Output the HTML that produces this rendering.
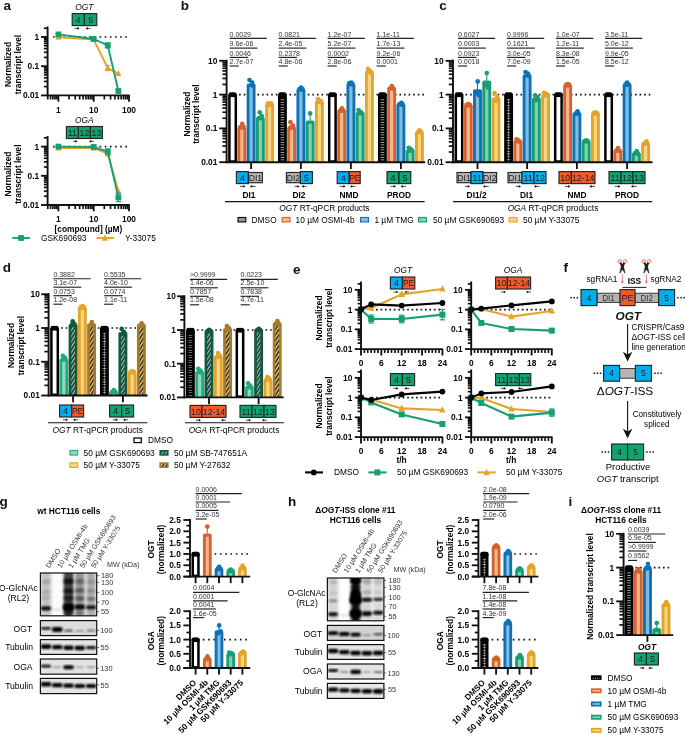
<!DOCTYPE html>
<html><head><meta charset="utf-8"><title>Figure</title>
<style>
html,body{margin:0;padding:0;background:#fff;}
svg{display:block;font-family:"Liberation Sans",Arial,Helvetica,sans-serif;}
</style></head><body>
<svg width="685" height="735" viewBox="0 0 685 735">
<defs>
<pattern id="hSB" width="2.9" height="2.9" patternUnits="userSpaceOnUse" patternTransform="rotate(-58)">
<rect width="2.9" height="2.9" fill="#0d2c21"/><rect width="2.9" height="1.45" fill="#9cc2b5"/></pattern>
<pattern id="hY27" width="2.9" height="2.9" patternUnits="userSpaceOnUse" patternTransform="rotate(-58)">
<rect width="2.9" height="2.9" fill="#1c1508"/><rect width="2.9" height="1.45" fill="#efd88f"/></pattern>
<filter id="b1" x="-30%" y="-30%" width="160%" height="160%"><feGaussianBlur stdDeviation="0.9"/></filter>
<filter id="b07" x="-30%" y="-30%" width="160%" height="160%"><feGaussianBlur stdDeviation="0.85"/></filter>
<filter id="b15" x="-30%" y="-30%" width="160%" height="160%"><feGaussianBlur stdDeviation="1.25"/></filter>
<filter id="b2" x="-30%" y="-30%" width="160%" height="160%"><feGaussianBlur stdDeviation="1.6"/></filter>
<filter id="b05" x="-30%" y="-30%" width="160%" height="160%"><feGaussianBlur stdDeviation="0.55"/></filter>
</defs>
<rect width="685" height="735" fill="#ffffff"/>
<text x="3.50" y="10.40" font-size="13.5" font-weight="bold" fill="#111">a</text>
<text x="180.70" y="10.40" font-size="13.5" font-weight="bold" fill="#111">b</text>
<text x="439.30" y="10.40" font-size="13.5" font-weight="bold" fill="#111">c</text>
<text x="2.70" y="271.80" font-size="13.5" font-weight="bold" fill="#111">d</text>
<text x="292.90" y="274.00" font-size="13.5" font-weight="bold" fill="#111">e</text>
<text x="563.50" y="272.00" font-size="13.5" font-weight="bold" fill="#111">f</text>
<text x="-0.50" y="505.80" font-size="13.5" font-weight="bold" fill="#111">g</text>
<text x="287.90" y="505.80" font-size="13.5" font-weight="bold" fill="#111">h</text>
<text x="568.50" y="506.20" font-size="13.5" font-weight="bold" fill="#111">i</text>
<text x="84.20" y="10.00" font-size="8.35" font-style="italic" text-anchor="middle" fill="#000">OGT</text>
<rect x="72.20" y="13.60" width="12.20" height="12.00" fill="#12A46D" stroke="#262626" stroke-width="1.15" />
<text x="78.30" y="22.77" font-size="8.8" text-anchor="middle" fill="#16202a">4</text>
<rect x="84.40" y="13.60" width="12.40" height="12.00" fill="#12A46D" stroke="#262626" stroke-width="1.15" />
<text x="90.60" y="22.77" font-size="8.8" text-anchor="middle" fill="#16202a">5</text>
<line x1="74.60" y1="28.40" x2="78.60" y2="28.40" stroke="#111" stroke-width="0.75" />
<path d="M77.40 27.05 L79.60 28.40 L77.40 29.75 Z" fill="#111"/>
<line x1="86.60" y1="28.40" x2="90.60" y2="28.40" stroke="#111" stroke-width="0.75" />
<path d="M87.80 27.05 L85.60 28.40 L87.80 29.75 Z" fill="#111"/>
<line x1="53.10" y1="37.00" x2="127.05" y2="37.00" stroke="#111111" stroke-width="1.65" stroke-dasharray="1.65 3.51"/>
<line x1="47.60" y1="26.45" x2="47.60" y2="96.35" stroke="#111111" stroke-width="1.9" />
<line x1="41.00" y1="95.40" x2="47.60" y2="95.40" stroke="#111111" stroke-width="1.85" />
<text x="39.20" y="98.36" font-size="8.35" font-weight="bold" text-anchor="end" fill="#000">0.01</text>
<line x1="43.90" y1="86.61" x2="47.60" y2="86.61" stroke="#111111" stroke-width="1.7" />
<line x1="43.90" y1="81.47" x2="47.60" y2="81.47" stroke="#111111" stroke-width="1.7" />
<line x1="43.90" y1="77.82" x2="47.60" y2="77.82" stroke="#111111" stroke-width="1.7" />
<line x1="43.90" y1="74.99" x2="47.60" y2="74.99" stroke="#111111" stroke-width="1.7" />
<line x1="43.90" y1="72.68" x2="47.60" y2="72.68" stroke="#111111" stroke-width="1.7" />
<line x1="43.90" y1="70.72" x2="47.60" y2="70.72" stroke="#111111" stroke-width="1.7" />
<line x1="43.90" y1="69.03" x2="47.60" y2="69.03" stroke="#111111" stroke-width="1.7" />
<line x1="43.90" y1="67.54" x2="47.60" y2="67.54" stroke="#111111" stroke-width="1.7" />
<line x1="41.00" y1="66.20" x2="47.60" y2="66.20" stroke="#111111" stroke-width="1.85" />
<text x="39.20" y="69.16" font-size="8.35" font-weight="bold" text-anchor="end" fill="#000">0.1</text>
<line x1="43.90" y1="57.41" x2="47.60" y2="57.41" stroke="#111111" stroke-width="1.7" />
<line x1="43.90" y1="52.27" x2="47.60" y2="52.27" stroke="#111111" stroke-width="1.7" />
<line x1="43.90" y1="48.62" x2="47.60" y2="48.62" stroke="#111111" stroke-width="1.7" />
<line x1="43.90" y1="45.79" x2="47.60" y2="45.79" stroke="#111111" stroke-width="1.7" />
<line x1="43.90" y1="43.48" x2="47.60" y2="43.48" stroke="#111111" stroke-width="1.7" />
<line x1="43.90" y1="41.52" x2="47.60" y2="41.52" stroke="#111111" stroke-width="1.7" />
<line x1="43.90" y1="39.83" x2="47.60" y2="39.83" stroke="#111111" stroke-width="1.7" />
<line x1="43.90" y1="38.34" x2="47.60" y2="38.34" stroke="#111111" stroke-width="1.7" />
<line x1="41.00" y1="37.00" x2="47.60" y2="37.00" stroke="#111111" stroke-width="1.85" />
<text x="39.20" y="39.96" font-size="8.35" font-weight="bold" text-anchor="end" fill="#000">1</text>
<line x1="43.90" y1="28.21" x2="47.60" y2="28.21" stroke="#111111" stroke-width="1.7" />
<line x1="46.65" y1="95.40" x2="129.80" y2="95.40" stroke="#111111" stroke-width="1.9" />
<line x1="47.77" y1="95.40" x2="47.77" y2="99.50" stroke="#111111" stroke-width="1.7" />
<line x1="50.57" y1="95.40" x2="50.57" y2="99.50" stroke="#111111" stroke-width="1.7" />
<line x1="52.93" y1="95.40" x2="52.93" y2="99.50" stroke="#111111" stroke-width="1.7" />
<line x1="54.98" y1="95.40" x2="54.98" y2="99.50" stroke="#111111" stroke-width="1.7" />
<line x1="56.78" y1="95.40" x2="56.78" y2="99.50" stroke="#111111" stroke-width="1.7" />
<line x1="58.40" y1="95.40" x2="58.40" y2="101.70" stroke="#111111" stroke-width="1.85" />
<line x1="69.03" y1="95.40" x2="69.03" y2="99.50" stroke="#111111" stroke-width="1.7" />
<line x1="75.24" y1="95.40" x2="75.24" y2="99.50" stroke="#111111" stroke-width="1.7" />
<line x1="79.65" y1="95.40" x2="79.65" y2="99.50" stroke="#111111" stroke-width="1.7" />
<line x1="83.07" y1="95.40" x2="83.07" y2="99.50" stroke="#111111" stroke-width="1.7" />
<line x1="85.87" y1="95.40" x2="85.87" y2="99.50" stroke="#111111" stroke-width="1.7" />
<line x1="88.23" y1="95.40" x2="88.23" y2="99.50" stroke="#111111" stroke-width="1.7" />
<line x1="90.28" y1="95.40" x2="90.28" y2="99.50" stroke="#111111" stroke-width="1.7" />
<line x1="92.08" y1="95.40" x2="92.08" y2="99.50" stroke="#111111" stroke-width="1.7" />
<line x1="93.70" y1="95.40" x2="93.70" y2="101.70" stroke="#111111" stroke-width="1.85" />
<line x1="104.33" y1="95.40" x2="104.33" y2="99.50" stroke="#111111" stroke-width="1.7" />
<line x1="110.54" y1="95.40" x2="110.54" y2="99.50" stroke="#111111" stroke-width="1.7" />
<line x1="114.95" y1="95.40" x2="114.95" y2="99.50" stroke="#111111" stroke-width="1.7" />
<line x1="118.37" y1="95.40" x2="118.37" y2="99.50" stroke="#111111" stroke-width="1.7" />
<line x1="121.17" y1="95.40" x2="121.17" y2="99.50" stroke="#111111" stroke-width="1.7" />
<line x1="123.53" y1="95.40" x2="123.53" y2="99.50" stroke="#111111" stroke-width="1.7" />
<line x1="125.58" y1="95.40" x2="125.58" y2="99.50" stroke="#111111" stroke-width="1.7" />
<line x1="127.38" y1="95.40" x2="127.38" y2="99.50" stroke="#111111" stroke-width="1.7" />
<line x1="129.00" y1="95.40" x2="129.00" y2="101.70" stroke="#111111" stroke-width="1.85" />
<text x="58.40" y="112.60" font-size="8.35" font-weight="bold" text-anchor="middle" fill="#000">1</text>
<text x="93.70" y="112.60" font-size="8.35" font-weight="bold" text-anchor="middle" fill="#000">10</text>
<text x="129.00" y="112.60" font-size="8.35" font-weight="bold" text-anchor="middle" fill="#000">100</text>
<text x="11.00" y="64.50" font-size="8.35" font-weight="bold" text-anchor="middle" transform="rotate(-90 11.00 64.50)">Normalized</text>
<text x="20.60" y="64.50" font-size="8.35" font-weight="bold" text-anchor="middle" transform="rotate(-90 20.60 64.50)">transcript level</text>
<polyline points="58.40,37.20 93.70,39.60 107.75,68.00 118.37,73.60" fill="none" stroke="#E6A32C" stroke-width="1.9" stroke-linejoin="round"/>
<path d="M58.40 33.48 L61.50 39.68 L55.30 39.68 Z" fill="#E6A32C"/>
<path d="M93.70 35.88 L96.80 42.08 L90.60 42.08 Z" fill="#E6A32C"/>
<line x1="107.75" y1="65.40" x2="107.75" y2="70.60" stroke="#E6A32C" stroke-width="1.2" />
<line x1="105.15" y1="65.40" x2="110.35" y2="65.40" stroke="#E6A32C" stroke-width="1.2" />
<line x1="105.15" y1="70.60" x2="110.35" y2="70.60" stroke="#E6A32C" stroke-width="1.2" />
<path d="M107.75 64.28 L110.85 70.48 L104.65 70.48 Z" fill="#E6A32C"/>
<path d="M118.37 69.88 L121.47 76.08 L115.27 76.08 Z" fill="#E6A32C"/>
<polyline points="58.40,34.40 93.70,39.00 107.75,45.40 118.37,91.00" fill="none" stroke="#179E73" stroke-width="1.9" stroke-linejoin="round"/>
<rect x="55.50" y="31.50" width="5.80" height="5.80" fill="#179E73" />
<rect x="90.80" y="36.10" width="5.80" height="5.80" fill="#179E73" />
<line x1="107.75" y1="43.00" x2="107.75" y2="47.80" stroke="#179E73" stroke-width="1.2" />
<line x1="105.15" y1="43.00" x2="110.35" y2="43.00" stroke="#179E73" stroke-width="1.2" />
<line x1="105.15" y1="47.80" x2="110.35" y2="47.80" stroke="#179E73" stroke-width="1.2" />
<rect x="104.85" y="42.50" width="5.80" height="5.80" fill="#179E73" />
<line x1="118.37" y1="89.00" x2="118.37" y2="93.00" stroke="#179E73" stroke-width="1.2" />
<line x1="115.77" y1="89.00" x2="120.97" y2="89.00" stroke="#179E73" stroke-width="1.2" />
<line x1="115.77" y1="93.00" x2="120.97" y2="93.00" stroke="#179E73" stroke-width="1.2" />
<rect x="115.47" y="88.10" width="5.80" height="5.80" fill="#179E73" />
<text x="84.20" y="122.90" font-size="8.35" font-style="italic" text-anchor="middle" fill="#000">OGA</text>
<rect x="66.40" y="126.50" width="12.00" height="12.00" fill="#12A46D" stroke="#262626" stroke-width="1.15" />
<text x="72.40" y="135.67" font-size="8.8" text-anchor="middle" fill="#16202a">11</text>
<rect x="78.40" y="126.50" width="12.00" height="12.00" fill="#12A46D" stroke="#262626" stroke-width="1.15" />
<text x="84.40" y="135.67" font-size="8.8" text-anchor="middle" fill="#16202a">12</text>
<rect x="90.40" y="126.50" width="12.00" height="12.00" fill="#12A46D" stroke="#262626" stroke-width="1.15" />
<text x="96.40" y="135.67" font-size="8.8" text-anchor="middle" fill="#16202a">13</text>
<line x1="73.00" y1="141.30" x2="76.60" y2="141.30" stroke="#111" stroke-width="0.75" />
<path d="M75.40 139.95 L77.60 141.30 L75.40 142.65 Z" fill="#111"/>
<line x1="90.00" y1="141.30" x2="94.00" y2="141.30" stroke="#111" stroke-width="0.75" />
<path d="M91.20 139.95 L89.00 141.30 L91.20 142.65 Z" fill="#111"/>
<line x1="53.10" y1="146.60" x2="127.05" y2="146.60" stroke="#111111" stroke-width="1.65" stroke-dasharray="1.65 3.51"/>
<line x1="47.60" y1="136.05" x2="47.60" y2="205.95" stroke="#111111" stroke-width="1.9" />
<line x1="41.00" y1="205.00" x2="47.60" y2="205.00" stroke="#111111" stroke-width="1.85" />
<text x="39.20" y="207.96" font-size="8.35" font-weight="bold" text-anchor="end" fill="#000">0.01</text>
<line x1="43.90" y1="196.21" x2="47.60" y2="196.21" stroke="#111111" stroke-width="1.7" />
<line x1="43.90" y1="191.07" x2="47.60" y2="191.07" stroke="#111111" stroke-width="1.7" />
<line x1="43.90" y1="187.42" x2="47.60" y2="187.42" stroke="#111111" stroke-width="1.7" />
<line x1="43.90" y1="184.59" x2="47.60" y2="184.59" stroke="#111111" stroke-width="1.7" />
<line x1="43.90" y1="182.28" x2="47.60" y2="182.28" stroke="#111111" stroke-width="1.7" />
<line x1="43.90" y1="180.32" x2="47.60" y2="180.32" stroke="#111111" stroke-width="1.7" />
<line x1="43.90" y1="178.63" x2="47.60" y2="178.63" stroke="#111111" stroke-width="1.7" />
<line x1="43.90" y1="177.14" x2="47.60" y2="177.14" stroke="#111111" stroke-width="1.7" />
<line x1="41.00" y1="175.80" x2="47.60" y2="175.80" stroke="#111111" stroke-width="1.85" />
<text x="39.20" y="178.76" font-size="8.35" font-weight="bold" text-anchor="end" fill="#000">0.1</text>
<line x1="43.90" y1="167.01" x2="47.60" y2="167.01" stroke="#111111" stroke-width="1.7" />
<line x1="43.90" y1="161.87" x2="47.60" y2="161.87" stroke="#111111" stroke-width="1.7" />
<line x1="43.90" y1="158.22" x2="47.60" y2="158.22" stroke="#111111" stroke-width="1.7" />
<line x1="43.90" y1="155.39" x2="47.60" y2="155.39" stroke="#111111" stroke-width="1.7" />
<line x1="43.90" y1="153.08" x2="47.60" y2="153.08" stroke="#111111" stroke-width="1.7" />
<line x1="43.90" y1="151.12" x2="47.60" y2="151.12" stroke="#111111" stroke-width="1.7" />
<line x1="43.90" y1="149.43" x2="47.60" y2="149.43" stroke="#111111" stroke-width="1.7" />
<line x1="43.90" y1="147.94" x2="47.60" y2="147.94" stroke="#111111" stroke-width="1.7" />
<line x1="41.00" y1="146.60" x2="47.60" y2="146.60" stroke="#111111" stroke-width="1.85" />
<text x="39.20" y="149.56" font-size="8.35" font-weight="bold" text-anchor="end" fill="#000">1</text>
<line x1="43.90" y1="137.81" x2="47.60" y2="137.81" stroke="#111111" stroke-width="1.7" />
<line x1="46.65" y1="205.00" x2="129.80" y2="205.00" stroke="#111111" stroke-width="1.9" />
<line x1="47.77" y1="205.00" x2="47.77" y2="209.10" stroke="#111111" stroke-width="1.7" />
<line x1="50.57" y1="205.00" x2="50.57" y2="209.10" stroke="#111111" stroke-width="1.7" />
<line x1="52.93" y1="205.00" x2="52.93" y2="209.10" stroke="#111111" stroke-width="1.7" />
<line x1="54.98" y1="205.00" x2="54.98" y2="209.10" stroke="#111111" stroke-width="1.7" />
<line x1="56.78" y1="205.00" x2="56.78" y2="209.10" stroke="#111111" stroke-width="1.7" />
<line x1="58.40" y1="205.00" x2="58.40" y2="211.30" stroke="#111111" stroke-width="1.85" />
<line x1="69.03" y1="205.00" x2="69.03" y2="209.10" stroke="#111111" stroke-width="1.7" />
<line x1="75.24" y1="205.00" x2="75.24" y2="209.10" stroke="#111111" stroke-width="1.7" />
<line x1="79.65" y1="205.00" x2="79.65" y2="209.10" stroke="#111111" stroke-width="1.7" />
<line x1="83.07" y1="205.00" x2="83.07" y2="209.10" stroke="#111111" stroke-width="1.7" />
<line x1="85.87" y1="205.00" x2="85.87" y2="209.10" stroke="#111111" stroke-width="1.7" />
<line x1="88.23" y1="205.00" x2="88.23" y2="209.10" stroke="#111111" stroke-width="1.7" />
<line x1="90.28" y1="205.00" x2="90.28" y2="209.10" stroke="#111111" stroke-width="1.7" />
<line x1="92.08" y1="205.00" x2="92.08" y2="209.10" stroke="#111111" stroke-width="1.7" />
<line x1="93.70" y1="205.00" x2="93.70" y2="211.30" stroke="#111111" stroke-width="1.85" />
<line x1="104.33" y1="205.00" x2="104.33" y2="209.10" stroke="#111111" stroke-width="1.7" />
<line x1="110.54" y1="205.00" x2="110.54" y2="209.10" stroke="#111111" stroke-width="1.7" />
<line x1="114.95" y1="205.00" x2="114.95" y2="209.10" stroke="#111111" stroke-width="1.7" />
<line x1="118.37" y1="205.00" x2="118.37" y2="209.10" stroke="#111111" stroke-width="1.7" />
<line x1="121.17" y1="205.00" x2="121.17" y2="209.10" stroke="#111111" stroke-width="1.7" />
<line x1="123.53" y1="205.00" x2="123.53" y2="209.10" stroke="#111111" stroke-width="1.7" />
<line x1="125.58" y1="205.00" x2="125.58" y2="209.10" stroke="#111111" stroke-width="1.7" />
<line x1="127.38" y1="205.00" x2="127.38" y2="209.10" stroke="#111111" stroke-width="1.7" />
<line x1="129.00" y1="205.00" x2="129.00" y2="211.30" stroke="#111111" stroke-width="1.85" />
<text x="58.40" y="222.20" font-size="8.35" font-weight="bold" text-anchor="middle" fill="#000">1</text>
<text x="93.70" y="222.20" font-size="8.35" font-weight="bold" text-anchor="middle" fill="#000">10</text>
<text x="129.00" y="222.20" font-size="8.35" font-weight="bold" text-anchor="middle" fill="#000">100</text>
<text x="11.00" y="174.10" font-size="8.35" font-weight="bold" text-anchor="middle" transform="rotate(-90 11.00 174.10)">Normalized</text>
<text x="20.60" y="174.10" font-size="8.35" font-weight="bold" text-anchor="middle" transform="rotate(-90 20.60 174.10)">transcript level</text>
<polyline points="58.40,148.00 93.70,148.00 107.75,153.60 118.37,191.50" fill="none" stroke="#E6A32C" stroke-width="1.9" stroke-linejoin="round"/>
<path d="M58.40 144.28 L61.50 150.48 L55.30 150.48 Z" fill="#E6A32C"/>
<path d="M93.70 144.28 L96.80 150.48 L90.60 150.48 Z" fill="#E6A32C"/>
<line x1="107.75" y1="151.20" x2="107.75" y2="156.00" stroke="#E6A32C" stroke-width="1.2" />
<line x1="105.15" y1="151.20" x2="110.35" y2="151.20" stroke="#E6A32C" stroke-width="1.2" />
<line x1="105.15" y1="156.00" x2="110.35" y2="156.00" stroke="#E6A32C" stroke-width="1.2" />
<path d="M107.75 149.88 L110.85 156.08 L104.65 156.08 Z" fill="#E6A32C"/>
<path d="M118.37 187.78 L121.47 193.98 L115.27 193.98 Z" fill="#E6A32C"/>
<polyline points="58.40,146.60 93.70,147.00 107.75,151.60 118.37,197.40" fill="none" stroke="#179E73" stroke-width="1.9" stroke-linejoin="round"/>
<rect x="55.50" y="143.70" width="5.80" height="5.80" fill="#179E73" />
<rect x="90.80" y="144.10" width="5.80" height="5.80" fill="#179E73" />
<line x1="107.75" y1="149.00" x2="107.75" y2="154.20" stroke="#179E73" stroke-width="1.2" />
<line x1="105.15" y1="149.00" x2="110.35" y2="149.00" stroke="#179E73" stroke-width="1.2" />
<line x1="105.15" y1="154.20" x2="110.35" y2="154.20" stroke="#179E73" stroke-width="1.2" />
<rect x="104.85" y="148.70" width="5.80" height="5.80" fill="#179E73" />
<line x1="118.37" y1="193.20" x2="118.37" y2="201.60" stroke="#179E73" stroke-width="1.2" />
<line x1="115.77" y1="193.20" x2="120.97" y2="193.20" stroke="#179E73" stroke-width="1.2" />
<line x1="115.77" y1="201.60" x2="120.97" y2="201.60" stroke="#179E73" stroke-width="1.2" />
<rect x="115.47" y="194.50" width="5.80" height="5.80" fill="#179E73" />
<text x="88.40" y="231.80" font-size="8.35" font-weight="bold" text-anchor="middle">[compound] (µM)</text>
<line x1="12.40" y1="238.00" x2="30.00" y2="238.00" stroke="#179E73" stroke-width="1.9" />
<rect x="18.10" y="235.10" width="5.80" height="5.80" fill="#179E73" />
<text x="41.00" y="240.90" font-size="8.35">GSK690693</text>
<line x1="96.40" y1="238.00" x2="114.00" y2="238.00" stroke="#E6A32C" stroke-width="1.9" />
<path d="M105.00 234.58 L108.10 240.78 L101.90 240.78 Z" fill="#E6A32C"/>
<text x="125.00" y="240.90" font-size="8.35">Y-33075</text>
<line x1="239.10" y1="94.60" x2="424.05" y2="94.60" stroke="#111111" stroke-width="1.65" stroke-dasharray="1.65 2.93"/>
<rect x="229.40" y="95.85" width="6.40" height="65.65" fill="#fff" stroke="#000" stroke-width="2.5" />
<circle cx="230.80" cy="94.60" r="2.35" fill="#000"/>
<circle cx="232.60" cy="94.60" r="2.35" fill="#000"/>
<circle cx="234.40" cy="94.60" r="2.35" fill="#000"/>
<path d="M237.40 162.20 V128.20 Q237.40 126.40 239.20 126.40 H244.50 Q246.30 126.40 246.30 128.20 V162.20 Z" fill="#D5622B"/>
<rect x="240.25" y="129.65" width="3.20" height="32.55" fill="#F2B78F" />
<circle cx="240.45" cy="127.00" r="2.35" fill="#D5622B"/>
<circle cx="242.25" cy="123.80" r="2.35" fill="#D5622B"/>
<circle cx="243.45" cy="126.80" r="2.35" fill="#D5622B"/>
<path d="M246.65 162.20 V85.40 Q246.65 83.60 248.45 83.60 H253.75 Q255.55 83.60 255.55 85.40 V162.20 Z" fill="#0B72B7"/>
<rect x="249.50" y="86.85" width="3.20" height="75.35" fill="#86BBDD" />
<line x1="251.10" y1="81.40" x2="251.10" y2="83.60" stroke="#0B72B7" stroke-width="1.1" />
<circle cx="249.50" cy="80.00" r="2.35" fill="#0B72B7"/>
<circle cx="252.10" cy="82.60" r="2.35" fill="#0B72B7"/>
<circle cx="252.70" cy="85.60" r="2.35" fill="#0B72B7"/>
<path d="M255.90 162.20 V118.80 Q255.90 117.00 257.70 117.00 H263.00 Q264.80 117.00 264.80 118.80 V162.20 Z" fill="#179E73"/>
<rect x="258.75" y="120.25" width="3.20" height="41.95" fill="#83D0B4" />
<circle cx="259.75" cy="112.40" r="2.35" fill="#179E73"/>
<circle cx="261.75" cy="116.20" r="2.35" fill="#179E73"/>
<circle cx="258.95" cy="118.00" r="2.35" fill="#179E73"/>
<path d="M265.15 162.20 V105.20 Q265.15 103.40 266.95 103.40 H272.25 Q274.05 103.40 274.05 105.20 V162.20 Z" fill="#E6A32C"/>
<rect x="268.00" y="106.65" width="3.20" height="55.55" fill="#F6D585" />
<circle cx="268.00" cy="103.40" r="2.35" fill="#E6A32C"/>
<circle cx="271.20" cy="103.40" r="2.35" fill="#E6A32C"/>
<circle cx="269.60" cy="104.80" r="2.35" fill="#E6A32C"/>
<text x="229.60" y="37.10" font-size="7.0" fill="#333">0.0029</text>
<line x1="229.60" y1="38.40" x2="266.80" y2="38.40" stroke="#222" stroke-width="1.15" />
<text x="229.60" y="45.80" font-size="7.0" fill="#333">9.6e-06</text>
<line x1="229.60" y1="48.10" x2="257.45" y2="48.10" stroke="#222" stroke-width="1.15" />
<text x="229.60" y="55.50" font-size="7.0" fill="#333">0.0046</text>
<line x1="229.60" y1="57.40" x2="248.10" y2="57.40" stroke="#222" stroke-width="1.15" />
<text x="229.60" y="64.30" font-size="7.0" fill="#333">2.7e-07</text>
<line x1="229.60" y1="66.00" x2="238.75" y2="66.00" stroke="#222" stroke-width="1.15" />
<rect x="277.95" y="94.60" width="8.90" height="67.60" fill="#000" />
<line x1="282.40" y1="99.60" x2="282.40" y2="161.20" stroke="#fff" stroke-width="3.6" stroke-dasharray="0.6 1.9" opacity="0.8"/>
<circle cx="280.60" cy="94.60" r="2.35" fill="#000"/>
<circle cx="282.40" cy="94.60" r="2.35" fill="#000"/>
<circle cx="284.20" cy="94.60" r="2.35" fill="#000"/>
<path d="M287.20 162.20 V128.40 Q287.20 126.60 289.00 126.60 H294.30 Q296.10 126.60 296.10 128.40 V162.20 Z" fill="#D5622B"/>
<rect x="290.05" y="129.85" width="3.20" height="32.35" fill="#F2B78F" />
<circle cx="290.45" cy="122.20" r="2.35" fill="#D5622B"/>
<circle cx="293.05" cy="125.60" r="2.35" fill="#D5622B"/>
<circle cx="290.65" cy="127.40" r="2.35" fill="#D5622B"/>
<path d="M296.45 162.20 V90.40 Q296.45 88.60 298.25 88.60 H303.55 Q305.35 88.60 305.35 90.40 V162.20 Z" fill="#0B72B7"/>
<rect x="299.30" y="91.85" width="3.20" height="70.35" fill="#86BBDD" />
<circle cx="299.50" cy="89.00" r="2.35" fill="#0B72B7"/>
<circle cx="301.10" cy="87.60" r="2.35" fill="#0B72B7"/>
<circle cx="302.50" cy="89.00" r="2.35" fill="#0B72B7"/>
<path d="M305.70 162.20 V122.40 Q305.70 120.60 307.50 120.60 H312.80 Q314.60 120.60 314.60 122.40 V162.20 Z" fill="#179E73"/>
<rect x="308.55" y="123.85" width="3.20" height="38.35" fill="#83D0B4" />
<line x1="310.15" y1="113.60" x2="310.15" y2="120.60" stroke="#179E73" stroke-width="1.1" />
<circle cx="310.15" cy="113.40" r="2.35" fill="#179E73"/>
<path d="M314.95 162.20 V102.40 Q314.95 100.60 316.75 100.60 H322.05 Q323.85 100.60 323.85 102.40 V162.20 Z" fill="#E6A32C"/>
<rect x="317.80" y="103.85" width="3.20" height="58.35" fill="#F6D585" />
<circle cx="318.00" cy="99.00" r="2.35" fill="#E6A32C"/>
<circle cx="320.60" cy="100.80" r="2.35" fill="#E6A32C"/>
<circle cx="321.00" cy="102.80" r="2.35" fill="#E6A32C"/>
<text x="278.60" y="37.10" font-size="7.0" fill="#333">0.0821</text>
<line x1="278.60" y1="38.40" x2="315.80" y2="38.40" stroke="#222" stroke-width="1.15" />
<text x="278.60" y="45.80" font-size="7.0" fill="#333">2.4e-05</text>
<line x1="278.60" y1="48.10" x2="306.45" y2="48.10" stroke="#222" stroke-width="1.15" />
<text x="278.60" y="55.50" font-size="7.0" fill="#333">0.2378</text>
<line x1="278.60" y1="57.40" x2="297.10" y2="57.40" stroke="#222" stroke-width="1.15" />
<text x="278.60" y="64.30" font-size="7.0" fill="#333">4.8e-06</text>
<line x1="278.60" y1="66.00" x2="287.75" y2="66.00" stroke="#222" stroke-width="1.15" />
<rect x="329.20" y="95.85" width="6.40" height="65.65" fill="#fff" stroke="#000" stroke-width="2.5" />
<circle cx="330.60" cy="94.60" r="2.35" fill="#000"/>
<circle cx="332.40" cy="94.60" r="2.35" fill="#000"/>
<circle cx="334.20" cy="94.60" r="2.35" fill="#000"/>
<path d="M337.20 162.20 V111.40 Q337.20 109.60 339.00 109.60 H344.30 Q346.10 109.60 346.10 111.40 V162.20 Z" fill="#D5622B"/>
<rect x="340.05" y="112.85" width="3.20" height="49.35" fill="#F2B78F" />
<circle cx="340.25" cy="110.60" r="2.35" fill="#D5622B"/>
<circle cx="341.85" cy="108.40" r="2.35" fill="#D5622B"/>
<circle cx="343.25" cy="110.40" r="2.35" fill="#D5622B"/>
<path d="M346.45 162.20 V85.00 Q346.45 83.20 348.25 83.20 H353.55 Q355.35 83.20 355.35 85.00 V162.20 Z" fill="#0B72B7"/>
<rect x="349.30" y="86.45" width="3.20" height="75.75" fill="#86BBDD" />
<circle cx="349.30" cy="83.20" r="2.35" fill="#0B72B7"/>
<circle cx="351.30" cy="82.60" r="2.35" fill="#0B72B7"/>
<circle cx="352.50" cy="84.20" r="2.35" fill="#0B72B7"/>
<path d="M355.70 162.20 V113.80 Q355.70 112.00 357.50 112.00 H362.80 Q364.60 112.00 364.60 113.80 V162.20 Z" fill="#179E73"/>
<rect x="358.55" y="115.25" width="3.20" height="46.95" fill="#83D0B4" />
<circle cx="358.55" cy="110.00" r="2.35" fill="#179E73"/>
<circle cx="360.75" cy="112.20" r="2.35" fill="#179E73"/>
<circle cx="361.75" cy="113.40" r="2.35" fill="#179E73"/>
<path d="M364.95 162.20 V72.40 Q364.95 70.60 366.75 70.60 H372.05 Q373.85 70.60 373.85 72.40 V162.20 Z" fill="#E6A32C"/>
<rect x="367.80" y="73.85" width="3.20" height="88.35" fill="#F6D585" />
<circle cx="368.00" cy="69.00" r="2.35" fill="#E6A32C"/>
<circle cx="370.20" cy="71.20" r="2.35" fill="#E6A32C"/>
<circle cx="371.00" cy="72.80" r="2.35" fill="#E6A32C"/>
<text x="327.60" y="37.10" font-size="7.0" fill="#333">1.2e-07</text>
<line x1="327.60" y1="38.40" x2="364.80" y2="38.40" stroke="#222" stroke-width="1.15" />
<text x="327.60" y="45.80" font-size="7.0" fill="#333">5.2e-07</text>
<line x1="327.60" y1="48.10" x2="355.45" y2="48.10" stroke="#222" stroke-width="1.15" />
<text x="327.60" y="55.50" font-size="7.0" fill="#333">0.0002</text>
<line x1="327.60" y1="57.40" x2="346.10" y2="57.40" stroke="#222" stroke-width="1.15" />
<text x="327.60" y="64.30" font-size="7.0" fill="#333">2.8e-06</text>
<line x1="327.60" y1="66.00" x2="336.75" y2="66.00" stroke="#222" stroke-width="1.15" />
<rect x="377.95" y="94.60" width="8.90" height="67.60" fill="#000" />
<line x1="382.40" y1="99.60" x2="382.40" y2="161.20" stroke="#fff" stroke-width="3.6" stroke-dasharray="0.6 1.9" opacity="0.8"/>
<circle cx="380.60" cy="94.60" r="2.35" fill="#000"/>
<circle cx="382.40" cy="94.60" r="2.35" fill="#000"/>
<circle cx="384.20" cy="94.60" r="2.35" fill="#000"/>
<path d="M387.20 162.20 V88.80 Q387.20 87.00 389.00 87.00 H394.30 Q396.10 87.00 396.10 88.80 V162.20 Z" fill="#D5622B"/>
<rect x="390.05" y="90.25" width="3.20" height="71.95" fill="#F2B78F" />
<circle cx="390.05" cy="88.60" r="2.35" fill="#D5622B"/>
<circle cx="391.85" cy="86.20" r="2.35" fill="#D5622B"/>
<circle cx="393.25" cy="88.60" r="2.35" fill="#D5622B"/>
<path d="M396.45 162.20 V105.20 Q396.45 103.40 398.25 103.40 H403.55 Q405.35 103.40 405.35 105.20 V162.20 Z" fill="#0B72B7"/>
<rect x="399.30" y="106.65" width="3.20" height="55.55" fill="#86BBDD" />
<circle cx="399.50" cy="104.00" r="2.35" fill="#0B72B7"/>
<circle cx="401.50" cy="102.80" r="2.35" fill="#0B72B7"/>
<circle cx="402.50" cy="104.20" r="2.35" fill="#0B72B7"/>
<path d="M405.70 162.20 V151.20 Q405.70 149.40 407.50 149.40 H412.80 Q414.60 149.40 414.60 151.20 V162.20 Z" fill="#179E73"/>
<rect x="408.55" y="152.65" width="3.20" height="9.55" fill="#83D0B4" />
<circle cx="408.75" cy="147.80" r="2.35" fill="#179E73"/>
<circle cx="410.55" cy="149.20" r="2.35" fill="#179E73"/>
<circle cx="411.95" cy="150.40" r="2.35" fill="#179E73"/>
<path d="M414.95 162.20 V133.00 Q414.95 131.20 416.75 131.20 H422.05 Q423.85 131.20 423.85 133.00 V162.20 Z" fill="#E6A32C"/>
<rect x="417.80" y="134.45" width="3.20" height="27.75" fill="#F6D585" />
<circle cx="418.00" cy="132.00" r="2.35" fill="#E6A32C"/>
<circle cx="419.60" cy="130.40" r="2.35" fill="#E6A32C"/>
<circle cx="421.20" cy="132.20" r="2.35" fill="#E6A32C"/>
<text x="376.60" y="37.10" font-size="7.0" fill="#333">1.1e-11</text>
<line x1="376.60" y1="38.40" x2="413.80" y2="38.40" stroke="#222" stroke-width="1.15" />
<text x="376.60" y="45.80" font-size="7.0" fill="#333">1.7e-13</text>
<line x1="376.60" y1="48.10" x2="404.45" y2="48.10" stroke="#222" stroke-width="1.15" />
<text x="376.60" y="55.50" font-size="7.0" fill="#333">9.2e-06</text>
<line x1="376.60" y1="57.40" x2="395.10" y2="57.40" stroke="#222" stroke-width="1.15" />
<text x="376.60" y="64.30" font-size="7.0" fill="#333">0.0001</text>
<line x1="376.60" y1="66.00" x2="385.75" y2="66.00" stroke="#222" stroke-width="1.15" />
<line x1="226.60" y1="59.85" x2="226.60" y2="163.15" stroke="#111111" stroke-width="1.9" />
<line x1="219.20" y1="162.20" x2="226.60" y2="162.20" stroke="#111111" stroke-width="1.85" />
<text x="217.40" y="165.16" font-size="8.35" font-weight="bold" text-anchor="end" fill="#000">0.01</text>
<line x1="222.40" y1="152.03" x2="226.60" y2="152.03" stroke="#111111" stroke-width="1.7" />
<line x1="222.40" y1="146.07" x2="226.60" y2="146.07" stroke="#111111" stroke-width="1.7" />
<line x1="222.40" y1="141.85" x2="226.60" y2="141.85" stroke="#111111" stroke-width="1.7" />
<line x1="222.40" y1="138.57" x2="226.60" y2="138.57" stroke="#111111" stroke-width="1.7" />
<line x1="222.40" y1="135.90" x2="226.60" y2="135.90" stroke="#111111" stroke-width="1.7" />
<line x1="222.40" y1="133.64" x2="226.60" y2="133.64" stroke="#111111" stroke-width="1.7" />
<line x1="222.40" y1="131.68" x2="226.60" y2="131.68" stroke="#111111" stroke-width="1.7" />
<line x1="222.40" y1="129.95" x2="226.60" y2="129.95" stroke="#111111" stroke-width="1.7" />
<line x1="219.20" y1="128.40" x2="226.60" y2="128.40" stroke="#111111" stroke-width="1.85" />
<text x="217.40" y="131.36" font-size="8.35" font-weight="bold" text-anchor="end" fill="#000">0.1</text>
<line x1="222.40" y1="118.23" x2="226.60" y2="118.23" stroke="#111111" stroke-width="1.7" />
<line x1="222.40" y1="112.27" x2="226.60" y2="112.27" stroke="#111111" stroke-width="1.7" />
<line x1="222.40" y1="108.05" x2="226.60" y2="108.05" stroke="#111111" stroke-width="1.7" />
<line x1="222.40" y1="104.77" x2="226.60" y2="104.77" stroke="#111111" stroke-width="1.7" />
<line x1="222.40" y1="102.10" x2="226.60" y2="102.10" stroke="#111111" stroke-width="1.7" />
<line x1="222.40" y1="99.84" x2="226.60" y2="99.84" stroke="#111111" stroke-width="1.7" />
<line x1="222.40" y1="97.88" x2="226.60" y2="97.88" stroke="#111111" stroke-width="1.7" />
<line x1="222.40" y1="96.15" x2="226.60" y2="96.15" stroke="#111111" stroke-width="1.7" />
<line x1="219.20" y1="94.60" x2="226.60" y2="94.60" stroke="#111111" stroke-width="1.85" />
<text x="217.40" y="97.56" font-size="8.35" font-weight="bold" text-anchor="end" fill="#000">1</text>
<line x1="222.40" y1="84.43" x2="226.60" y2="84.43" stroke="#111111" stroke-width="1.7" />
<line x1="222.40" y1="78.47" x2="226.60" y2="78.47" stroke="#111111" stroke-width="1.7" />
<line x1="222.40" y1="74.25" x2="226.60" y2="74.25" stroke="#111111" stroke-width="1.7" />
<line x1="222.40" y1="70.97" x2="226.60" y2="70.97" stroke="#111111" stroke-width="1.7" />
<line x1="222.40" y1="68.30" x2="226.60" y2="68.30" stroke="#111111" stroke-width="1.7" />
<line x1="222.40" y1="66.04" x2="226.60" y2="66.04" stroke="#111111" stroke-width="1.7" />
<line x1="222.40" y1="64.08" x2="226.60" y2="64.08" stroke="#111111" stroke-width="1.7" />
<line x1="222.40" y1="62.35" x2="226.60" y2="62.35" stroke="#111111" stroke-width="1.7" />
<line x1="219.20" y1="60.80" x2="226.60" y2="60.80" stroke="#111111" stroke-width="1.85" />
<text x="217.40" y="63.76" font-size="8.35" font-weight="bold" text-anchor="end" fill="#000">10</text>
<line x1="225.65" y1="162.20" x2="425.20" y2="162.20" stroke="#111111" stroke-width="1.9" />
<line x1="251.10" y1="162.20" x2="251.10" y2="169.00" stroke="#111111" stroke-width="1.85" />
<line x1="300.90" y1="162.20" x2="300.90" y2="169.00" stroke="#111111" stroke-width="1.85" />
<line x1="350.90" y1="162.20" x2="350.90" y2="169.00" stroke="#111111" stroke-width="1.85" />
<line x1="400.90" y1="162.20" x2="400.90" y2="169.00" stroke="#111111" stroke-width="1.85" />
<text x="189.80" y="114.00" font-size="8.35" font-weight="bold" text-anchor="middle" transform="rotate(-90 189.80 114.00)">Normalized</text>
<text x="199.40" y="114.00" font-size="8.35" font-weight="bold" text-anchor="middle" transform="rotate(-90 199.40 114.00)">transcript level</text>
<line x1="465.50" y1="94.60" x2="650.55" y2="94.60" stroke="#111111" stroke-width="1.65" stroke-dasharray="1.65 2.93"/>
<rect x="455.80" y="95.85" width="6.40" height="65.65" fill="#fff" stroke="#000" stroke-width="2.5" />
<circle cx="457.20" cy="94.60" r="2.35" fill="#000"/>
<circle cx="459.00" cy="94.60" r="2.35" fill="#000"/>
<circle cx="460.80" cy="94.60" r="2.35" fill="#000"/>
<path d="M463.80 162.20 V106.20 Q463.80 104.40 465.60 104.40 H470.90 Q472.70 104.40 472.70 106.20 V162.20 Z" fill="#D5622B"/>
<rect x="466.65" y="107.65" width="3.20" height="54.55" fill="#F2B78F" />
<circle cx="466.65" cy="104.80" r="2.35" fill="#D5622B"/>
<circle cx="468.25" cy="104.20" r="2.35" fill="#D5622B"/>
<circle cx="469.85" cy="104.80" r="2.35" fill="#D5622B"/>
<path d="M473.05 162.20 V91.00 Q473.05 89.20 474.85 89.20 H480.15 Q481.95 89.20 481.95 91.00 V162.20 Z" fill="#0B72B7"/>
<rect x="475.90" y="92.45" width="3.20" height="69.75" fill="#86BBDD" />
<line x1="477.50" y1="82.20" x2="477.50" y2="89.20" stroke="#0B72B7" stroke-width="1.1" />
<circle cx="477.70" cy="81.40" r="2.35" fill="#0B72B7"/>
<circle cx="476.90" cy="93.20" r="2.35" fill="#0B72B7"/>
<circle cx="478.90" cy="95.20" r="2.35" fill="#0B72B7"/>
<path d="M482.30 162.20 V82.20 Q482.30 80.40 484.10 80.40 H489.40 Q491.20 80.40 491.20 82.20 V162.20 Z" fill="#179E73"/>
<rect x="485.15" y="83.65" width="3.20" height="78.55" fill="#83D0B4" />
<line x1="486.75" y1="73.40" x2="486.75" y2="80.40" stroke="#179E73" stroke-width="1.1" />
<circle cx="486.75" cy="73.00" r="2.35" fill="#179E73"/>
<circle cx="485.95" cy="85.00" r="2.35" fill="#179E73"/>
<circle cx="487.95" cy="87.40" r="2.35" fill="#179E73"/>
<path d="M491.55 162.20 V99.20 Q491.55 97.40 493.35 97.40 H498.65 Q500.45 97.40 500.45 99.20 V162.20 Z" fill="#E6A32C"/>
<rect x="494.40" y="100.65" width="3.20" height="61.55" fill="#F6D585" />
<circle cx="494.60" cy="93.00" r="2.35" fill="#E6A32C"/>
<circle cx="497.20" cy="96.80" r="2.35" fill="#E6A32C"/>
<circle cx="495.60" cy="101.00" r="2.35" fill="#E6A32C"/>
<text x="458.00" y="37.10" font-size="7.0" fill="#333">0.6027</text>
<line x1="458.00" y1="38.40" x2="495.20" y2="38.40" stroke="#222" stroke-width="1.15" />
<text x="458.00" y="45.80" font-size="7.0" fill="#333">0.0003</text>
<line x1="458.00" y1="48.10" x2="485.85" y2="48.10" stroke="#222" stroke-width="1.15" />
<text x="458.00" y="55.50" font-size="7.0" fill="#333">0.0923</text>
<line x1="458.00" y1="57.40" x2="476.50" y2="57.40" stroke="#222" stroke-width="1.15" />
<text x="458.00" y="64.30" font-size="7.0" fill="#333">0.0018</text>
<line x1="458.00" y1="66.00" x2="467.15" y2="66.00" stroke="#222" stroke-width="1.15" />
<rect x="504.15" y="94.60" width="8.90" height="67.60" fill="#000" />
<line x1="508.60" y1="99.10" x2="508.60" y2="161.20" stroke="#fff" stroke-width="0.55" opacity="0.8"/>
<line x1="508.60" y1="99.60" x2="508.60" y2="161.20" stroke="#fff" stroke-width="3.4" stroke-dasharray="0.55 2.15" opacity="0.8"/>
<circle cx="506.80" cy="94.60" r="2.35" fill="#000"/>
<circle cx="508.60" cy="94.60" r="2.35" fill="#000"/>
<circle cx="510.40" cy="94.60" r="2.35" fill="#000"/>
<path d="M513.40 162.20 V142.00 Q513.40 140.20 515.20 140.20 H520.50 Q522.30 140.20 522.30 142.00 V162.20 Z" fill="#D5622B"/>
<rect x="516.25" y="143.45" width="3.20" height="18.75" fill="#F2B78F" />
<circle cx="516.45" cy="139.40" r="2.35" fill="#D5622B"/>
<circle cx="518.45" cy="140.40" r="2.35" fill="#D5622B"/>
<circle cx="519.65" cy="141.60" r="2.35" fill="#D5622B"/>
<path d="M522.65 162.20 V76.00 Q522.65 74.20 524.45 74.20 H529.75 Q531.55 74.20 531.55 76.00 V162.20 Z" fill="#0B72B7"/>
<rect x="525.50" y="77.45" width="3.20" height="84.75" fill="#86BBDD" />
<circle cx="525.50" cy="72.00" r="2.35" fill="#0B72B7"/>
<circle cx="527.90" cy="73.60" r="2.35" fill="#0B72B7"/>
<circle cx="528.70" cy="75.80" r="2.35" fill="#0B72B7"/>
<path d="M531.90 162.20 V99.40 Q531.90 97.60 533.70 97.60 H539.00 Q540.80 97.60 540.80 99.40 V162.20 Z" fill="#179E73"/>
<rect x="534.75" y="100.85" width="3.20" height="61.35" fill="#83D0B4" />
<circle cx="535.15" cy="95.40" r="2.35" fill="#179E73"/>
<circle cx="537.35" cy="97.20" r="2.35" fill="#179E73"/>
<circle cx="536.35" cy="100.20" r="2.35" fill="#179E73"/>
<path d="M541.15 162.20 V96.00 Q541.15 94.20 542.95 94.20 H548.25 Q550.05 94.20 550.05 96.00 V162.20 Z" fill="#E6A32C"/>
<rect x="544.00" y="97.45" width="3.20" height="64.75" fill="#F6D585" />
<circle cx="544.00" cy="92.80" r="2.35" fill="#E6A32C"/>
<circle cx="546.20" cy="93.80" r="2.35" fill="#E6A32C"/>
<circle cx="547.20" cy="95.40" r="2.35" fill="#E6A32C"/>
<text x="507.00" y="37.10" font-size="7.0" fill="#333">0.9996</text>
<line x1="507.00" y1="38.40" x2="544.20" y2="38.40" stroke="#222" stroke-width="1.15" />
<text x="507.00" y="45.80" font-size="7.0" fill="#333">0.1621</text>
<line x1="507.00" y1="48.10" x2="534.85" y2="48.10" stroke="#222" stroke-width="1.15" />
<text x="507.00" y="55.50" font-size="7.0" fill="#333">3.0e-05</text>
<line x1="507.00" y1="57.40" x2="525.50" y2="57.40" stroke="#222" stroke-width="1.15" />
<text x="507.00" y="64.30" font-size="7.0" fill="#333">7.0e-09</text>
<line x1="507.00" y1="66.00" x2="516.15" y2="66.00" stroke="#222" stroke-width="1.15" />
<rect x="555.20" y="95.85" width="6.40" height="65.65" fill="#fff" stroke="#000" stroke-width="2.5" />
<circle cx="556.60" cy="94.60" r="2.35" fill="#000"/>
<circle cx="558.40" cy="94.60" r="2.35" fill="#000"/>
<circle cx="560.20" cy="94.60" r="2.35" fill="#000"/>
<path d="M563.20 162.20 V86.20 Q563.20 84.40 565.00 84.40 H570.30 Q572.10 84.40 572.10 86.20 V162.20 Z" fill="#D5622B"/>
<rect x="566.05" y="87.65" width="3.20" height="74.55" fill="#F2B78F" />
<circle cx="566.05" cy="84.80" r="2.35" fill="#D5622B"/>
<circle cx="567.65" cy="84.20" r="2.35" fill="#D5622B"/>
<circle cx="569.25" cy="84.80" r="2.35" fill="#D5622B"/>
<path d="M572.45 162.20 V114.20 Q572.45 112.40 574.25 112.40 H579.55 Q581.35 112.40 581.35 114.20 V162.20 Z" fill="#0B72B7"/>
<rect x="575.30" y="115.65" width="3.20" height="46.55" fill="#86BBDD" />
<circle cx="575.70" cy="113.60" r="2.35" fill="#0B72B7"/>
<circle cx="577.50" cy="111.40" r="2.35" fill="#0B72B7"/>
<circle cx="578.30" cy="113.20" r="2.35" fill="#0B72B7"/>
<path d="M581.70 162.20 V142.20 Q581.70 140.40 583.50 140.40 H588.80 Q590.60 140.40 590.60 142.20 V162.20 Z" fill="#179E73"/>
<rect x="584.55" y="143.65" width="3.20" height="18.55" fill="#83D0B4" />
<circle cx="584.55" cy="141.00" r="2.35" fill="#179E73"/>
<circle cx="586.15" cy="140.40" r="2.35" fill="#179E73"/>
<circle cx="587.75" cy="141.00" r="2.35" fill="#179E73"/>
<path d="M590.95 162.20 V114.40 Q590.95 112.60 592.75 112.60 H598.05 Q599.85 112.60 599.85 114.40 V162.20 Z" fill="#E6A32C"/>
<rect x="593.80" y="115.85" width="3.20" height="46.35" fill="#F6D585" />
<circle cx="593.80" cy="113.20" r="2.35" fill="#E6A32C"/>
<circle cx="595.40" cy="112.40" r="2.35" fill="#E6A32C"/>
<circle cx="597.00" cy="113.20" r="2.35" fill="#E6A32C"/>
<text x="556.00" y="37.10" font-size="7.0" fill="#333">1.0e-07</text>
<line x1="556.00" y1="38.40" x2="593.20" y2="38.40" stroke="#222" stroke-width="1.15" />
<text x="556.00" y="45.80" font-size="7.0" fill="#333">1.2e-11</text>
<line x1="556.00" y1="48.10" x2="583.85" y2="48.10" stroke="#222" stroke-width="1.15" />
<text x="556.00" y="55.50" font-size="7.0" fill="#333">8.3e-08</text>
<line x1="556.00" y1="57.40" x2="574.50" y2="57.40" stroke="#222" stroke-width="1.15" />
<text x="556.00" y="64.30" font-size="7.0" fill="#333">1.5e-05</text>
<line x1="556.00" y1="66.00" x2="565.15" y2="66.00" stroke="#222" stroke-width="1.15" />
<rect x="605.40" y="95.85" width="6.40" height="65.65" fill="#fff" stroke="#000" stroke-width="2.5" />
<circle cx="606.80" cy="94.60" r="2.35" fill="#000"/>
<circle cx="608.60" cy="94.60" r="2.35" fill="#000"/>
<circle cx="610.40" cy="94.60" r="2.35" fill="#000"/>
<path d="M613.40 162.20 V151.20 Q613.40 149.40 615.20 149.40 H620.50 Q622.30 149.40 622.30 151.20 V162.20 Z" fill="#D5622B"/>
<rect x="616.25" y="152.65" width="3.20" height="9.55" fill="#F2B78F" />
<circle cx="616.65" cy="150.40" r="2.35" fill="#D5622B"/>
<circle cx="618.05" cy="148.00" r="2.35" fill="#D5622B"/>
<circle cx="619.45" cy="150.80" r="2.35" fill="#D5622B"/>
<path d="M622.65 162.20 V85.40 Q622.65 83.60 624.45 83.60 H629.75 Q631.55 83.60 631.55 85.40 V162.20 Z" fill="#0B72B7"/>
<rect x="625.50" y="86.85" width="3.20" height="75.35" fill="#86BBDD" />
<circle cx="625.70" cy="84.40" r="2.35" fill="#0B72B7"/>
<circle cx="627.10" cy="82.60" r="2.35" fill="#0B72B7"/>
<circle cx="628.70" cy="84.60" r="2.35" fill="#0B72B7"/>
<path d="M631.90 162.20 V154.20 Q631.90 152.40 633.70 152.40 H639.00 Q640.80 152.40 640.80 154.20 V162.20 Z" fill="#179E73"/>
<rect x="634.75" y="155.65" width="3.20" height="6.55" fill="#83D0B4" />
<circle cx="634.95" cy="153.40" r="2.35" fill="#179E73"/>
<circle cx="636.75" cy="151.20" r="2.35" fill="#179E73"/>
<circle cx="637.95" cy="153.80" r="2.35" fill="#179E73"/>
<path d="M641.15 162.20 V144.20 Q641.15 142.40 642.95 142.40 H648.25 Q650.05 142.40 650.05 144.20 V162.20 Z" fill="#E6A32C"/>
<rect x="644.00" y="145.65" width="3.20" height="16.55" fill="#F6D585" />
<circle cx="644.20" cy="143.60" r="2.35" fill="#E6A32C"/>
<circle cx="646.40" cy="141.40" r="2.35" fill="#E6A32C"/>
<circle cx="647.20" cy="143.20" r="2.35" fill="#E6A32C"/>
<text x="605.00" y="37.10" font-size="7.0" fill="#333">3.5e-11</text>
<line x1="605.00" y1="38.40" x2="642.20" y2="38.40" stroke="#222" stroke-width="1.15" />
<text x="605.00" y="45.80" font-size="7.0" fill="#333">5.0e-12</text>
<line x1="605.00" y1="48.10" x2="632.85" y2="48.10" stroke="#222" stroke-width="1.15" />
<text x="605.00" y="55.50" font-size="7.0" fill="#333">9.9e-05</text>
<line x1="605.00" y1="57.40" x2="623.50" y2="57.40" stroke="#222" stroke-width="1.15" />
<text x="605.00" y="64.30" font-size="7.0" fill="#333">8.5e-12</text>
<line x1="605.00" y1="66.00" x2="614.15" y2="66.00" stroke="#222" stroke-width="1.15" />
<line x1="453.00" y1="59.85" x2="453.00" y2="163.15" stroke="#111111" stroke-width="1.9" />
<line x1="445.60" y1="162.20" x2="453.00" y2="162.20" stroke="#111111" stroke-width="1.85" />
<text x="443.60" y="165.16" font-size="8.35" font-weight="bold" text-anchor="end" fill="#000">0.01</text>
<line x1="448.80" y1="152.03" x2="453.00" y2="152.03" stroke="#111111" stroke-width="1.7" />
<line x1="448.80" y1="146.07" x2="453.00" y2="146.07" stroke="#111111" stroke-width="1.7" />
<line x1="448.80" y1="141.85" x2="453.00" y2="141.85" stroke="#111111" stroke-width="1.7" />
<line x1="448.80" y1="138.57" x2="453.00" y2="138.57" stroke="#111111" stroke-width="1.7" />
<line x1="448.80" y1="135.90" x2="453.00" y2="135.90" stroke="#111111" stroke-width="1.7" />
<line x1="448.80" y1="133.64" x2="453.00" y2="133.64" stroke="#111111" stroke-width="1.7" />
<line x1="448.80" y1="131.68" x2="453.00" y2="131.68" stroke="#111111" stroke-width="1.7" />
<line x1="448.80" y1="129.95" x2="453.00" y2="129.95" stroke="#111111" stroke-width="1.7" />
<line x1="445.60" y1="128.40" x2="453.00" y2="128.40" stroke="#111111" stroke-width="1.85" />
<text x="443.60" y="131.36" font-size="8.35" font-weight="bold" text-anchor="end" fill="#000">0.1</text>
<line x1="448.80" y1="118.23" x2="453.00" y2="118.23" stroke="#111111" stroke-width="1.7" />
<line x1="448.80" y1="112.27" x2="453.00" y2="112.27" stroke="#111111" stroke-width="1.7" />
<line x1="448.80" y1="108.05" x2="453.00" y2="108.05" stroke="#111111" stroke-width="1.7" />
<line x1="448.80" y1="104.77" x2="453.00" y2="104.77" stroke="#111111" stroke-width="1.7" />
<line x1="448.80" y1="102.10" x2="453.00" y2="102.10" stroke="#111111" stroke-width="1.7" />
<line x1="448.80" y1="99.84" x2="453.00" y2="99.84" stroke="#111111" stroke-width="1.7" />
<line x1="448.80" y1="97.88" x2="453.00" y2="97.88" stroke="#111111" stroke-width="1.7" />
<line x1="448.80" y1="96.15" x2="453.00" y2="96.15" stroke="#111111" stroke-width="1.7" />
<line x1="445.60" y1="94.60" x2="453.00" y2="94.60" stroke="#111111" stroke-width="1.85" />
<text x="443.60" y="97.56" font-size="8.35" font-weight="bold" text-anchor="end" fill="#000">1</text>
<line x1="448.80" y1="84.43" x2="453.00" y2="84.43" stroke="#111111" stroke-width="1.7" />
<line x1="448.80" y1="78.47" x2="453.00" y2="78.47" stroke="#111111" stroke-width="1.7" />
<line x1="448.80" y1="74.25" x2="453.00" y2="74.25" stroke="#111111" stroke-width="1.7" />
<line x1="448.80" y1="70.97" x2="453.00" y2="70.97" stroke="#111111" stroke-width="1.7" />
<line x1="448.80" y1="68.30" x2="453.00" y2="68.30" stroke="#111111" stroke-width="1.7" />
<line x1="448.80" y1="66.04" x2="453.00" y2="66.04" stroke="#111111" stroke-width="1.7" />
<line x1="448.80" y1="64.08" x2="453.00" y2="64.08" stroke="#111111" stroke-width="1.7" />
<line x1="448.80" y1="62.35" x2="453.00" y2="62.35" stroke="#111111" stroke-width="1.7" />
<line x1="445.60" y1="60.80" x2="453.00" y2="60.80" stroke="#111111" stroke-width="1.85" />
<text x="443.60" y="63.76" font-size="8.35" font-weight="bold" text-anchor="end" fill="#000">10</text>
<line x1="452.05" y1="162.20" x2="652.60" y2="162.20" stroke="#111111" stroke-width="1.9" />
<line x1="477.50" y1="162.20" x2="477.50" y2="169.00" stroke="#111111" stroke-width="1.85" />
<line x1="527.10" y1="162.20" x2="527.10" y2="169.00" stroke="#111111" stroke-width="1.85" />
<line x1="576.90" y1="162.20" x2="576.90" y2="169.00" stroke="#111111" stroke-width="1.85" />
<line x1="627.10" y1="162.20" x2="627.10" y2="169.00" stroke="#111111" stroke-width="1.85" />
<rect x="236.40" y="171.60" width="12.00" height="12.00" fill="#00AEEF" stroke="#262626" stroke-width="1.15" />
<text x="242.40" y="180.84" font-size="9.0" text-anchor="middle" fill="#16202a">4</text>
<rect x="248.40" y="172.50" width="14.00" height="10.20" fill="#B5B5B5" stroke="#262626" stroke-width="1.15" />
<text x="255.40" y="180.70" font-size="8.6" text-anchor="middle" fill="#16202a">DI1</text>
<rect x="286.40" y="172.50" width="14.00" height="10.20" fill="#B5B5B5" stroke="#262626" stroke-width="1.15" />
<text x="293.40" y="180.70" font-size="8.6" text-anchor="middle" fill="#16202a">DI2</text>
<rect x="300.40" y="171.60" width="12.00" height="12.00" fill="#00AEEF" stroke="#262626" stroke-width="1.15" />
<text x="306.40" y="180.84" font-size="9.0" text-anchor="middle" fill="#16202a">5</text>
<rect x="337.20" y="171.60" width="12.00" height="12.00" fill="#00AEEF" stroke="#262626" stroke-width="1.15" />
<text x="343.20" y="180.84" font-size="9.0" text-anchor="middle" fill="#16202a">4</text>
<rect x="349.20" y="171.60" width="11.00" height="12.00" fill="#F15A2B" stroke="#262626" stroke-width="1.15" />
<text x="354.70" y="180.59" font-size="8.3" text-anchor="middle" fill="#16202a">PE</text>
<rect x="387.00" y="171.60" width="12.00" height="12.00" fill="#12A46D" stroke="#262626" stroke-width="1.15" />
<text x="393.00" y="180.84" font-size="9.0" text-anchor="middle" fill="#16202a">4</text>
<rect x="399.00" y="171.60" width="11.80" height="12.00" fill="#12A46D" stroke="#262626" stroke-width="1.15" />
<text x="404.90" y="180.84" font-size="9.0" text-anchor="middle" fill="#16202a">5</text>
<line x1="240.00" y1="186.40" x2="244.60" y2="186.40" stroke="#111" stroke-width="0.75" />
<path d="M243.40 185.05 L245.60 186.40 L243.40 187.75 Z" fill="#111"/>
<line x1="251.00" y1="186.40" x2="255.60" y2="186.40" stroke="#111" stroke-width="0.75" />
<path d="M252.20 185.05 L250.00 186.40 L252.20 187.75 Z" fill="#111"/>
<line x1="294.60" y1="186.40" x2="298.60" y2="186.40" stroke="#111" stroke-width="0.75" />
<path d="M297.40 185.05 L299.60 186.40 L297.40 187.75 Z" fill="#111"/>
<line x1="302.60" y1="186.40" x2="306.60" y2="186.40" stroke="#111" stroke-width="0.75" />
<path d="M303.80 185.05 L301.60 186.40 L303.80 187.75 Z" fill="#111"/>
<line x1="340.00" y1="186.40" x2="344.60" y2="186.40" stroke="#111" stroke-width="0.75" />
<path d="M343.40 185.05 L345.60 186.40 L343.40 187.75 Z" fill="#111"/>
<line x1="351.00" y1="186.40" x2="355.60" y2="186.40" stroke="#111" stroke-width="0.75" />
<path d="M352.20 185.05 L350.00 186.40 L352.20 187.75 Z" fill="#111"/>
<line x1="390.60" y1="186.40" x2="395.00" y2="186.40" stroke="#111" stroke-width="0.75" />
<path d="M393.80 185.05 L396.00 186.40 L393.80 187.75 Z" fill="#111"/>
<line x1="401.60" y1="186.40" x2="406.00" y2="186.40" stroke="#111" stroke-width="0.75" />
<path d="M402.80 185.05 L400.60 186.40 L402.80 187.75 Z" fill="#111"/>
<text x="249.00" y="198.20" font-size="8.35" font-weight="bold" text-anchor="middle">DI1</text>
<text x="299.00" y="198.20" font-size="8.35" font-weight="bold" text-anchor="middle">DI2</text>
<text x="349.00" y="198.20" font-size="8.35" font-weight="bold" text-anchor="middle">NMD</text>
<text x="399.00" y="198.20" font-size="8.35" font-weight="bold" text-anchor="middle">PROD</text>
<line x1="225.00" y1="201.60" x2="424.60" y2="201.60" stroke="#111" stroke-width="1.1" />
<text x="324.40" y="210.80" font-size="8.35" text-anchor="middle"><tspan font-style="italic">OGT</tspan> RT-qPCR products</text>
<rect x="457.00" y="172.50" width="14.00" height="10.20" fill="#B5B5B5" stroke="#262626" stroke-width="1.15" />
<text x="464.00" y="180.70" font-size="8.6" text-anchor="middle" fill="#16202a">DI1</text>
<rect x="471.00" y="171.60" width="12.00" height="12.00" fill="#00AEEF" stroke="#262626" stroke-width="1.15" />
<text x="477.00" y="180.77" font-size="8.8" text-anchor="middle" fill="#16202a">11</text>
<rect x="483.00" y="172.50" width="13.60" height="10.20" fill="#B5B5B5" stroke="#262626" stroke-width="1.15" />
<text x="489.80" y="180.70" font-size="8.6" text-anchor="middle" fill="#16202a">DI2</text>
<rect x="508.00" y="172.50" width="14.00" height="10.20" fill="#B5B5B5" stroke="#262626" stroke-width="1.15" />
<text x="515.00" y="180.70" font-size="8.6" text-anchor="middle" fill="#16202a">DI1</text>
<rect x="522.00" y="171.60" width="12.00" height="12.00" fill="#00AEEF" stroke="#262626" stroke-width="1.15" />
<text x="528.00" y="180.77" font-size="8.8" text-anchor="middle" fill="#16202a">11</text>
<rect x="534.00" y="171.60" width="12.00" height="12.00" fill="#00AEEF" stroke="#262626" stroke-width="1.15" />
<text x="540.00" y="180.77" font-size="8.8" text-anchor="middle" fill="#16202a">12</text>
<rect x="559.00" y="171.60" width="12.40" height="12.00" fill="#F15A2B" stroke="#262626" stroke-width="1.15" />
<text x="565.20" y="180.77" font-size="8.8" text-anchor="middle" fill="#16202a">10</text>
<rect x="571.40" y="171.60" width="23.60" height="12.00" fill="#F15A2B" stroke="#262626" stroke-width="1.15" />
<text x="583.20" y="180.77" font-size="8.8" text-anchor="middle" fill="#16202a">12-14</text>
<rect x="609.00" y="171.60" width="12.00" height="12.00" fill="#12A46D" stroke="#262626" stroke-width="1.15" />
<text x="615.00" y="180.77" font-size="8.8" text-anchor="middle" fill="#16202a">11</text>
<rect x="621.00" y="171.60" width="12.00" height="12.00" fill="#12A46D" stroke="#262626" stroke-width="1.15" />
<text x="627.00" y="180.77" font-size="8.8" text-anchor="middle" fill="#16202a">12</text>
<rect x="633.00" y="171.60" width="12.00" height="12.00" fill="#12A46D" stroke="#262626" stroke-width="1.15" />
<text x="639.00" y="180.77" font-size="8.8" text-anchor="middle" fill="#16202a">13</text>
<line x1="465.00" y1="186.40" x2="469.00" y2="186.40" stroke="#111" stroke-width="0.75" />
<path d="M467.80 185.05 L470.00 186.40 L467.80 187.75 Z" fill="#111"/>
<line x1="484.00" y1="186.40" x2="488.60" y2="186.40" stroke="#111" stroke-width="0.75" />
<path d="M485.20 185.05 L483.00 186.40 L485.20 187.75 Z" fill="#111"/>
<line x1="516.00" y1="186.40" x2="520.00" y2="186.40" stroke="#111" stroke-width="0.75" />
<path d="M518.80 185.05 L521.00 186.40 L518.80 187.75 Z" fill="#111"/>
<line x1="535.00" y1="186.40" x2="539.60" y2="186.40" stroke="#111" stroke-width="0.75" />
<path d="M536.20 185.05 L534.00 186.40 L536.20 187.75 Z" fill="#111"/>
<line x1="565.00" y1="186.40" x2="569.40" y2="186.40" stroke="#111" stroke-width="0.75" />
<path d="M568.20 185.05 L570.40 186.40 L568.20 187.75 Z" fill="#111"/>
<line x1="590.40" y1="186.40" x2="595.00" y2="186.40" stroke="#111" stroke-width="0.75" />
<path d="M591.60 185.05 L589.40 186.40 L591.60 187.75 Z" fill="#111"/>
<line x1="615.00" y1="186.40" x2="619.40" y2="186.40" stroke="#111" stroke-width="0.75" />
<path d="M618.20 185.05 L620.40 186.40 L618.20 187.75 Z" fill="#111"/>
<line x1="632.00" y1="186.40" x2="636.60" y2="186.40" stroke="#111" stroke-width="0.75" />
<path d="M633.20 185.05 L631.00 186.40 L633.20 187.75 Z" fill="#111"/>
<text x="476.60" y="198.20" font-size="8.35" font-weight="bold" text-anchor="middle">DI1/2</text>
<text x="526.60" y="198.20" font-size="8.35" font-weight="bold" text-anchor="middle">DI1</text>
<text x="577.00" y="198.20" font-size="8.35" font-weight="bold" text-anchor="middle">NMD</text>
<text x="627.00" y="198.20" font-size="8.35" font-weight="bold" text-anchor="middle">PROD</text>
<line x1="453.00" y1="201.60" x2="652.20" y2="201.60" stroke="#111" stroke-width="1.1" />
<text x="553.00" y="210.80" font-size="8.35" text-anchor="middle"><tspan font-style="italic">OGA</tspan> RT-qPCR products</text>
<rect x="238.00" y="217.50" width="7.80" height="4.40" fill="#9a9a9a" stroke="#111" stroke-width="1.2" />
<text x="251.60" y="222.60" font-size="8.35">DMSO</text>
<rect x="282.15" y="217.45" width="7.90" height="4.50" fill="#F2B78F" stroke="#D5622B" stroke-width="1.1" />
<text x="295.60" y="222.60" font-size="8.35">10 µM OSMI-4b</text>
<rect x="360.55" y="217.45" width="7.90" height="4.50" fill="#86BBDD" stroke="#0B72B7" stroke-width="1.1" />
<text x="374.40" y="222.60" font-size="8.35">1 µM TMG</text>
<rect x="418.55" y="217.45" width="7.90" height="4.50" fill="#83D0B4" stroke="#179E73" stroke-width="1.1" />
<text x="433.00" y="222.60" font-size="8.35">50 µM GSK690693</text>
<rect x="509.15" y="217.45" width="7.90" height="4.50" fill="#F6D585" stroke="#E6A32C" stroke-width="1.1" />
<text x="523.00" y="222.60" font-size="8.35">50 µM Y-33075</text>
<line x1="61.10" y1="328.00" x2="146.65" y2="328.00" stroke="#111111" stroke-width="1.65" stroke-dasharray="1.65 2.93"/>
<rect x="51.40" y="329.25" width="6.40" height="65.55" fill="#fff" stroke="#000" stroke-width="2.5" />
<circle cx="52.80" cy="328.00" r="2.35" fill="#000"/>
<circle cx="54.60" cy="328.00" r="2.35" fill="#000"/>
<circle cx="56.40" cy="328.00" r="2.35" fill="#000"/>
<path d="M59.40 395.50 V360.20 Q59.40 358.40 61.20 358.40 H66.50 Q68.30 358.40 68.30 360.20 V395.50 Z" fill="#22A980"/>
<rect x="62.25" y="361.65" width="3.20" height="33.85" fill="#93D8C0" />
<circle cx="62.85" cy="355.80" r="2.35" fill="#22A980"/>
<circle cx="65.05" cy="358.00" r="2.35" fill="#22A980"/>
<circle cx="62.65" cy="359.60" r="2.35" fill="#22A980"/>
<rect x="68.65" y="324.60" width="8.90" height="70.90" fill="#0E5B3D" />
<rect x="71.30" y="327.25" width="3.60" height="68.25" fill="url(#hSB)" />
<circle cx="72.70" cy="321.40" r="2.35" fill="#0E5B3D"/>
<circle cx="74.50" cy="324.20" r="2.35" fill="#0E5B3D"/>
<circle cx="71.70" cy="325.20" r="2.35" fill="#0E5B3D"/>
<path d="M77.90 395.50 V308.60 Q77.90 306.80 79.70 306.80 H85.00 Q86.80 306.80 86.80 308.60 V395.50 Z" fill="#E6A32C"/>
<rect x="80.75" y="310.05" width="3.20" height="85.45" fill="#F6D585" />
<circle cx="80.95" cy="307.20" r="2.35" fill="#E6A32C"/>
<circle cx="82.55" cy="306.20" r="2.35" fill="#E6A32C"/>
<circle cx="83.95" cy="307.40" r="2.35" fill="#E6A32C"/>
<rect x="87.15" y="324.00" width="8.90" height="71.50" fill="#A57A2C" />
<rect x="89.80" y="326.65" width="3.60" height="68.85" fill="url(#hY27)" />
<circle cx="90.60" cy="324.80" r="2.35" fill="#A57A2C"/>
<circle cx="91.80" cy="322.00" r="2.35" fill="#A57A2C"/>
<circle cx="93.00" cy="324.80" r="2.35" fill="#A57A2C"/>
<text x="53.40" y="277.40" font-size="7.0" fill="#333">0.3882</text>
<line x1="53.40" y1="278.70" x2="90.60" y2="278.70" stroke="#222" stroke-width="1.15" />
<text x="53.40" y="285.40" font-size="7.0" fill="#333">3.1e-07</text>
<line x1="53.40" y1="287.20" x2="81.25" y2="287.20" stroke="#222" stroke-width="1.15" />
<text x="53.40" y="293.50" font-size="7.0" fill="#333">0.0753</text>
<line x1="53.40" y1="295.70" x2="71.90" y2="295.70" stroke="#222" stroke-width="1.15" />
<text x="53.40" y="302.20" font-size="7.0" fill="#333">1.2e-08</text>
<line x1="53.40" y1="304.20" x2="62.55" y2="304.20" stroke="#222" stroke-width="1.15" />
<rect x="99.95" y="328.00" width="8.90" height="67.50" fill="#000" />
<line x1="104.40" y1="332.50" x2="104.40" y2="394.50" stroke="#fff" stroke-width="0.55" opacity="0.8"/>
<line x1="104.40" y1="333.00" x2="104.40" y2="394.50" stroke="#fff" stroke-width="3.4" stroke-dasharray="0.55 2.15" opacity="0.8"/>
<circle cx="102.60" cy="328.00" r="2.35" fill="#000"/>
<circle cx="104.40" cy="328.00" r="2.35" fill="#000"/>
<circle cx="106.20" cy="328.00" r="2.35" fill="#000"/>
<path d="M109.20 395.50 V392.80 Q109.20 391.00 111.00 391.00 H116.30 Q118.10 391.00 118.10 392.80 V395.50 Z" fill="#22A980"/>
<rect x="112.05" y="394.25" width="3.20" height="1.25" fill="#93D8C0" />
<circle cx="112.25" cy="391.80" r="2.35" fill="#22A980"/>
<circle cx="113.85" cy="390.20" r="2.35" fill="#22A980"/>
<circle cx="115.25" cy="391.80" r="2.35" fill="#22A980"/>
<rect x="118.45" y="332.40" width="8.90" height="63.10" fill="#0E5B3D" />
<rect x="121.10" y="335.05" width="3.60" height="60.45" fill="url(#hSB)" />
<circle cx="121.70" cy="328.80" r="2.35" fill="#0E5B3D"/>
<circle cx="123.90" cy="331.80" r="2.35" fill="#0E5B3D"/>
<circle cx="122.70" cy="333.60" r="2.35" fill="#0E5B3D"/>
<path d="M127.70 395.50 V373.20 Q127.70 371.40 129.50 371.40 H134.80 Q136.60 371.40 136.60 373.20 V395.50 Z" fill="#E6A32C"/>
<rect x="130.55" y="374.65" width="3.20" height="20.85" fill="#F6D585" />
<circle cx="130.75" cy="371.80" r="2.35" fill="#E6A32C"/>
<circle cx="132.35" cy="371.00" r="2.35" fill="#E6A32C"/>
<circle cx="133.75" cy="371.80" r="2.35" fill="#E6A32C"/>
<rect x="136.95" y="324.60" width="8.90" height="70.90" fill="#A57A2C" />
<rect x="139.60" y="327.25" width="3.60" height="68.25" fill="url(#hY27)" />
<circle cx="140.20" cy="325.40" r="2.35" fill="#A57A2C"/>
<circle cx="141.60" cy="323.40" r="2.35" fill="#A57A2C"/>
<circle cx="142.80" cy="325.40" r="2.35" fill="#A57A2C"/>
<text x="104.10" y="277.40" font-size="7.0" fill="#333">0.5535</text>
<line x1="104.10" y1="278.70" x2="141.30" y2="278.70" stroke="#222" stroke-width="1.15" />
<text x="104.10" y="285.40" font-size="7.0" fill="#333">4.0e-10</text>
<line x1="104.10" y1="287.20" x2="131.95" y2="287.20" stroke="#222" stroke-width="1.15" />
<text x="104.10" y="293.50" font-size="7.0" fill="#333">0.0774</text>
<line x1="104.10" y1="295.70" x2="122.60" y2="295.70" stroke="#222" stroke-width="1.15" />
<text x="104.10" y="302.20" font-size="7.0" fill="#333">1.1e-11</text>
<line x1="104.10" y1="304.20" x2="113.25" y2="304.20" stroke="#222" stroke-width="1.15" />
<line x1="48.60" y1="293.30" x2="48.60" y2="396.45" stroke="#111111" stroke-width="1.9" />
<line x1="41.20" y1="395.50" x2="48.60" y2="395.50" stroke="#111111" stroke-width="1.85" />
<text x="39.80" y="398.46" font-size="8.35" font-weight="bold" text-anchor="end" fill="#000">0.01</text>
<line x1="44.40" y1="385.34" x2="48.60" y2="385.34" stroke="#111111" stroke-width="1.7" />
<line x1="44.40" y1="379.40" x2="48.60" y2="379.40" stroke="#111111" stroke-width="1.7" />
<line x1="44.40" y1="375.18" x2="48.60" y2="375.18" stroke="#111111" stroke-width="1.7" />
<line x1="44.40" y1="371.91" x2="48.60" y2="371.91" stroke="#111111" stroke-width="1.7" />
<line x1="44.40" y1="369.24" x2="48.60" y2="369.24" stroke="#111111" stroke-width="1.7" />
<line x1="44.40" y1="366.98" x2="48.60" y2="366.98" stroke="#111111" stroke-width="1.7" />
<line x1="44.40" y1="365.02" x2="48.60" y2="365.02" stroke="#111111" stroke-width="1.7" />
<line x1="44.40" y1="363.29" x2="48.60" y2="363.29" stroke="#111111" stroke-width="1.7" />
<line x1="41.20" y1="361.75" x2="48.60" y2="361.75" stroke="#111111" stroke-width="1.85" />
<text x="39.80" y="364.71" font-size="8.35" font-weight="bold" text-anchor="end" fill="#000">0.1</text>
<line x1="44.40" y1="351.59" x2="48.60" y2="351.59" stroke="#111111" stroke-width="1.7" />
<line x1="44.40" y1="345.65" x2="48.60" y2="345.65" stroke="#111111" stroke-width="1.7" />
<line x1="44.40" y1="341.43" x2="48.60" y2="341.43" stroke="#111111" stroke-width="1.7" />
<line x1="44.40" y1="338.16" x2="48.60" y2="338.16" stroke="#111111" stroke-width="1.7" />
<line x1="44.40" y1="335.49" x2="48.60" y2="335.49" stroke="#111111" stroke-width="1.7" />
<line x1="44.40" y1="333.23" x2="48.60" y2="333.23" stroke="#111111" stroke-width="1.7" />
<line x1="44.40" y1="331.27" x2="48.60" y2="331.27" stroke="#111111" stroke-width="1.7" />
<line x1="44.40" y1="329.54" x2="48.60" y2="329.54" stroke="#111111" stroke-width="1.7" />
<line x1="41.20" y1="328.00" x2="48.60" y2="328.00" stroke="#111111" stroke-width="1.85" />
<text x="39.80" y="330.96" font-size="8.35" font-weight="bold" text-anchor="end" fill="#000">1</text>
<line x1="44.40" y1="317.84" x2="48.60" y2="317.84" stroke="#111111" stroke-width="1.7" />
<line x1="44.40" y1="311.90" x2="48.60" y2="311.90" stroke="#111111" stroke-width="1.7" />
<line x1="44.40" y1="307.68" x2="48.60" y2="307.68" stroke="#111111" stroke-width="1.7" />
<line x1="44.40" y1="304.41" x2="48.60" y2="304.41" stroke="#111111" stroke-width="1.7" />
<line x1="44.40" y1="301.74" x2="48.60" y2="301.74" stroke="#111111" stroke-width="1.7" />
<line x1="44.40" y1="299.48" x2="48.60" y2="299.48" stroke="#111111" stroke-width="1.7" />
<line x1="44.40" y1="297.52" x2="48.60" y2="297.52" stroke="#111111" stroke-width="1.7" />
<line x1="44.40" y1="295.79" x2="48.60" y2="295.79" stroke="#111111" stroke-width="1.7" />
<line x1="41.20" y1="294.25" x2="48.60" y2="294.25" stroke="#111111" stroke-width="1.85" />
<text x="39.80" y="297.21" font-size="8.35" font-weight="bold" text-anchor="end" fill="#000">10</text>
<line x1="47.65" y1="395.50" x2="147.60" y2="395.50" stroke="#111111" stroke-width="1.9" />
<line x1="73.10" y1="395.50" x2="73.10" y2="402.30" stroke="#111111" stroke-width="1.85" />
<line x1="122.90" y1="395.50" x2="122.90" y2="402.30" stroke="#111111" stroke-width="1.85" />
<text x="14.40" y="345.50" font-size="8.35" font-weight="bold" text-anchor="middle" transform="rotate(-90 14.40 345.50)">Normalized</text>
<text x="24.20" y="345.50" font-size="8.35" font-weight="bold" text-anchor="middle" transform="rotate(-90 24.20 345.50)">transcript level</text>
<line x1="196.90" y1="330.00" x2="283.25" y2="330.00" stroke="#111111" stroke-width="1.65" stroke-dasharray="1.65 2.93"/>
<rect x="185.95" y="330.00" width="8.90" height="67.40" fill="#000" />
<line x1="190.40" y1="335.00" x2="190.40" y2="396.40" stroke="#fff" stroke-width="3.6" stroke-dasharray="0.6 1.9" opacity="0.8"/>
<circle cx="188.60" cy="330.00" r="2.35" fill="#000"/>
<circle cx="190.40" cy="330.00" r="2.35" fill="#000"/>
<circle cx="192.20" cy="330.00" r="2.35" fill="#000"/>
<path d="M195.25 397.40 V372.80 Q195.25 371.00 197.05 371.00 H202.35 Q204.15 371.00 204.15 372.80 V397.40 Z" fill="#22A980"/>
<rect x="198.10" y="374.25" width="3.20" height="23.15" fill="#93D8C0" />
<circle cx="198.30" cy="368.80" r="2.35" fill="#22A980"/>
<circle cx="200.30" cy="370.60" r="2.35" fill="#22A980"/>
<circle cx="201.30" cy="372.60" r="2.35" fill="#22A980"/>
<rect x="204.55" y="330.60" width="8.90" height="66.80" fill="#0E5B3D" />
<rect x="207.20" y="333.25" width="3.60" height="64.15" fill="url(#hSB)" />
<circle cx="207.60" cy="331.20" r="2.35" fill="#0E5B3D"/>
<circle cx="209.20" cy="329.80" r="2.35" fill="#0E5B3D"/>
<circle cx="210.60" cy="331.20" r="2.35" fill="#0E5B3D"/>
<path d="M213.85 397.40 V357.60 Q213.85 355.80 215.65 355.80 H220.95 Q222.75 355.80 222.75 357.60 V397.40 Z" fill="#E6A32C"/>
<rect x="216.70" y="359.05" width="3.20" height="38.35" fill="#F6D585" />
<circle cx="218.10" cy="353.20" r="2.35" fill="#E6A32C"/>
<circle cx="219.70" cy="355.60" r="2.35" fill="#E6A32C"/>
<circle cx="217.10" cy="356.80" r="2.35" fill="#E6A32C"/>
<rect x="223.15" y="328.60" width="8.90" height="68.80" fill="#A57A2C" />
<rect x="225.80" y="331.25" width="3.60" height="66.15" fill="url(#hY27)" />
<circle cx="227.00" cy="326.20" r="2.35" fill="#A57A2C"/>
<circle cx="229.00" cy="328.40" r="2.35" fill="#A57A2C"/>
<circle cx="226.40" cy="329.60" r="2.35" fill="#A57A2C"/>
<text x="190.00" y="277.20" font-size="7.0" fill="#333">&gt;0.9999</text>
<line x1="190.00" y1="279.30" x2="227.20" y2="279.30" stroke="#222" stroke-width="1.15" />
<text x="190.00" y="285.40" font-size="7.0" fill="#333">1.4e-06</text>
<line x1="190.00" y1="287.80" x2="217.85" y2="287.80" stroke="#222" stroke-width="1.15" />
<text x="190.00" y="293.80" font-size="7.0" fill="#333">0.7857</text>
<line x1="190.00" y1="296.30" x2="208.50" y2="296.30" stroke="#222" stroke-width="1.15" />
<text x="190.00" y="302.20" font-size="7.0" fill="#333">1.5e-08</text>
<line x1="190.00" y1="304.80" x2="199.15" y2="304.80" stroke="#222" stroke-width="1.15" />
<rect x="236.80" y="331.25" width="6.40" height="65.45" fill="#fff" stroke="#000" stroke-width="2.5" />
<circle cx="238.20" cy="330.00" r="2.35" fill="#000"/>
<circle cx="240.00" cy="330.00" r="2.35" fill="#000"/>
<circle cx="241.80" cy="330.00" r="2.35" fill="#000"/>
<path d="M244.85 397.40 V387.80 Q244.85 386.00 246.65 386.00 H251.95 Q253.75 386.00 253.75 387.80 V397.40 Z" fill="#22A980"/>
<rect x="247.70" y="389.25" width="3.20" height="8.15" fill="#93D8C0" />
<circle cx="248.10" cy="383.40" r="2.35" fill="#22A980"/>
<circle cx="250.10" cy="385.60" r="2.35" fill="#22A980"/>
<circle cx="250.90" cy="387.60" r="2.35" fill="#22A980"/>
<rect x="254.15" y="329.60" width="8.90" height="67.80" fill="#0E5B3D" />
<rect x="256.80" y="332.25" width="3.60" height="65.15" fill="url(#hSB)" />
<circle cx="257.20" cy="330.20" r="2.35" fill="#0E5B3D"/>
<circle cx="258.80" cy="328.80" r="2.35" fill="#0E5B3D"/>
<circle cx="260.20" cy="330.20" r="2.35" fill="#0E5B3D"/>
<path d="M263.45 397.40 V380.40 Q263.45 378.60 265.25 378.60 H270.55 Q272.35 378.60 272.35 380.40 V397.40 Z" fill="#E6A32C"/>
<rect x="266.30" y="381.85" width="3.20" height="15.55" fill="#F6D585" />
<circle cx="267.30" cy="377.00" r="2.35" fill="#E6A32C"/>
<circle cx="269.10" cy="378.60" r="2.35" fill="#E6A32C"/>
<circle cx="266.70" cy="379.80" r="2.35" fill="#E6A32C"/>
<rect x="272.75" y="322.80" width="8.90" height="74.60" fill="#A57A2C" />
<rect x="275.40" y="325.45" width="3.60" height="71.95" fill="url(#hY27)" />
<circle cx="276.20" cy="323.60" r="2.35" fill="#A57A2C"/>
<circle cx="277.40" cy="321.20" r="2.35" fill="#A57A2C"/>
<circle cx="278.60" cy="323.60" r="2.35" fill="#A57A2C"/>
<text x="240.60" y="277.20" font-size="7.0" fill="#333">0.0223</text>
<line x1="240.60" y1="279.30" x2="277.80" y2="279.30" stroke="#222" stroke-width="1.15" />
<text x="240.60" y="285.40" font-size="7.0" fill="#333">2.5e-10</text>
<line x1="240.60" y1="287.80" x2="268.45" y2="287.80" stroke="#222" stroke-width="1.15" />
<text x="240.60" y="293.80" font-size="7.0" fill="#333">0.7838</text>
<line x1="240.60" y1="296.30" x2="259.10" y2="296.30" stroke="#222" stroke-width="1.15" />
<text x="240.60" y="302.20" font-size="7.0" fill="#333">4.7e-11</text>
<line x1="240.60" y1="304.80" x2="249.75" y2="304.80" stroke="#222" stroke-width="1.15" />
<line x1="184.40" y1="295.35" x2="184.40" y2="398.35" stroke="#111111" stroke-width="1.9" />
<line x1="177.00" y1="397.40" x2="184.40" y2="397.40" stroke="#111111" stroke-width="1.85" />
<text x="175.80" y="400.36" font-size="8.35" font-weight="bold" text-anchor="end" fill="#000">0.01</text>
<line x1="180.20" y1="387.26" x2="184.40" y2="387.26" stroke="#111111" stroke-width="1.7" />
<line x1="180.20" y1="381.32" x2="184.40" y2="381.32" stroke="#111111" stroke-width="1.7" />
<line x1="180.20" y1="377.11" x2="184.40" y2="377.11" stroke="#111111" stroke-width="1.7" />
<line x1="180.20" y1="373.84" x2="184.40" y2="373.84" stroke="#111111" stroke-width="1.7" />
<line x1="180.20" y1="371.18" x2="184.40" y2="371.18" stroke="#111111" stroke-width="1.7" />
<line x1="180.20" y1="368.92" x2="184.40" y2="368.92" stroke="#111111" stroke-width="1.7" />
<line x1="180.20" y1="366.97" x2="184.40" y2="366.97" stroke="#111111" stroke-width="1.7" />
<line x1="180.20" y1="365.24" x2="184.40" y2="365.24" stroke="#111111" stroke-width="1.7" />
<line x1="177.00" y1="363.70" x2="184.40" y2="363.70" stroke="#111111" stroke-width="1.85" />
<text x="175.80" y="366.66" font-size="8.35" font-weight="bold" text-anchor="end" fill="#000">0.1</text>
<line x1="180.20" y1="353.56" x2="184.40" y2="353.56" stroke="#111111" stroke-width="1.7" />
<line x1="180.20" y1="347.62" x2="184.40" y2="347.62" stroke="#111111" stroke-width="1.7" />
<line x1="180.20" y1="343.41" x2="184.40" y2="343.41" stroke="#111111" stroke-width="1.7" />
<line x1="180.20" y1="340.14" x2="184.40" y2="340.14" stroke="#111111" stroke-width="1.7" />
<line x1="180.20" y1="337.48" x2="184.40" y2="337.48" stroke="#111111" stroke-width="1.7" />
<line x1="180.20" y1="335.22" x2="184.40" y2="335.22" stroke="#111111" stroke-width="1.7" />
<line x1="180.20" y1="333.27" x2="184.40" y2="333.27" stroke="#111111" stroke-width="1.7" />
<line x1="180.20" y1="331.54" x2="184.40" y2="331.54" stroke="#111111" stroke-width="1.7" />
<line x1="177.00" y1="330.00" x2="184.40" y2="330.00" stroke="#111111" stroke-width="1.85" />
<text x="175.80" y="332.96" font-size="8.35" font-weight="bold" text-anchor="end" fill="#000">1</text>
<line x1="180.20" y1="319.86" x2="184.40" y2="319.86" stroke="#111111" stroke-width="1.7" />
<line x1="180.20" y1="313.92" x2="184.40" y2="313.92" stroke="#111111" stroke-width="1.7" />
<line x1="180.20" y1="309.71" x2="184.40" y2="309.71" stroke="#111111" stroke-width="1.7" />
<line x1="180.20" y1="306.44" x2="184.40" y2="306.44" stroke="#111111" stroke-width="1.7" />
<line x1="180.20" y1="303.78" x2="184.40" y2="303.78" stroke="#111111" stroke-width="1.7" />
<line x1="180.20" y1="301.52" x2="184.40" y2="301.52" stroke="#111111" stroke-width="1.7" />
<line x1="180.20" y1="299.57" x2="184.40" y2="299.57" stroke="#111111" stroke-width="1.7" />
<line x1="180.20" y1="297.84" x2="184.40" y2="297.84" stroke="#111111" stroke-width="1.7" />
<line x1="177.00" y1="296.30" x2="184.40" y2="296.30" stroke="#111111" stroke-width="1.85" />
<text x="175.80" y="299.26" font-size="8.35" font-weight="bold" text-anchor="end" fill="#000">10</text>
<line x1="183.45" y1="397.40" x2="283.80" y2="397.40" stroke="#111111" stroke-width="1.9" />
<line x1="209.00" y1="397.40" x2="209.00" y2="404.20" stroke="#111111" stroke-width="1.85" />
<line x1="258.60" y1="397.40" x2="258.60" y2="404.20" stroke="#111111" stroke-width="1.85" />
<rect x="59.60" y="405.00" width="12.00" height="12.00" fill="#00AEEF" stroke="#262626" stroke-width="1.15" />
<text x="65.60" y="414.24" font-size="9.0" text-anchor="middle" fill="#16202a">4</text>
<rect x="71.60" y="405.00" width="12.00" height="12.00" fill="#F15A2B" stroke="#262626" stroke-width="1.15" />
<text x="77.60" y="413.99" font-size="8.3" text-anchor="middle" fill="#16202a">PE</text>
<rect x="109.60" y="405.00" width="12.00" height="12.00" fill="#12A46D" stroke="#262626" stroke-width="1.15" />
<text x="115.60" y="414.24" font-size="9.0" text-anchor="middle" fill="#16202a">4</text>
<rect x="121.60" y="405.00" width="12.00" height="12.00" fill="#12A46D" stroke="#262626" stroke-width="1.15" />
<text x="127.60" y="414.24" font-size="9.0" text-anchor="middle" fill="#16202a">5</text>
<line x1="63.00" y1="419.80" x2="67.00" y2="419.80" stroke="#111" stroke-width="0.75" />
<path d="M65.80 418.45 L68.00 419.80 L65.80 421.15 Z" fill="#111"/>
<line x1="74.00" y1="419.80" x2="78.00" y2="419.80" stroke="#111" stroke-width="0.75" />
<path d="M75.20 418.45 L73.00 419.80 L75.20 421.15 Z" fill="#111"/>
<line x1="113.00" y1="419.80" x2="117.00" y2="419.80" stroke="#111" stroke-width="0.75" />
<path d="M115.80 418.45 L118.00 419.80 L115.80 421.15 Z" fill="#111"/>
<line x1="124.00" y1="419.80" x2="128.00" y2="419.80" stroke="#111" stroke-width="0.75" />
<path d="M125.20 418.45 L123.00 419.80 L125.20 421.15 Z" fill="#111"/>
<line x1="48.00" y1="422.70" x2="147.40" y2="422.70" stroke="#111" stroke-width="1.1" />
<text x="97.70" y="432.50" font-size="8.35" text-anchor="middle"><tspan font-style="italic">OGT</tspan> RT-qPCR products</text>
<rect x="190.00" y="405.40" width="12.00" height="12.00" fill="#F15A2B" stroke="#262626" stroke-width="1.15" />
<text x="196.00" y="414.57" font-size="8.8" text-anchor="middle" fill="#16202a">10</text>
<rect x="202.00" y="405.40" width="24.00" height="12.00" fill="#F15A2B" stroke="#262626" stroke-width="1.15" />
<text x="214.00" y="414.57" font-size="8.8" text-anchor="middle" fill="#16202a">12-14</text>
<rect x="240.00" y="405.40" width="12.00" height="12.00" fill="#12A46D" stroke="#262626" stroke-width="1.15" />
<text x="246.00" y="414.57" font-size="8.8" text-anchor="middle" fill="#16202a">11</text>
<rect x="252.00" y="405.40" width="12.00" height="12.00" fill="#12A46D" stroke="#262626" stroke-width="1.15" />
<text x="258.00" y="414.57" font-size="8.8" text-anchor="middle" fill="#16202a">12</text>
<rect x="264.00" y="405.40" width="12.00" height="12.00" fill="#12A46D" stroke="#262626" stroke-width="1.15" />
<text x="270.00" y="414.57" font-size="8.8" text-anchor="middle" fill="#16202a">13</text>
<line x1="196.00" y1="420.20" x2="200.00" y2="420.20" stroke="#111" stroke-width="0.75" />
<path d="M198.80 418.85 L201.00 420.20 L198.80 421.55 Z" fill="#111"/>
<line x1="222.00" y1="420.20" x2="226.00" y2="420.20" stroke="#111" stroke-width="0.75" />
<path d="M223.20 418.85 L221.00 420.20 L223.20 421.55 Z" fill="#111"/>
<line x1="246.00" y1="420.20" x2="250.00" y2="420.20" stroke="#111" stroke-width="0.75" />
<path d="M248.80 418.85 L251.00 420.20 L248.80 421.55 Z" fill="#111"/>
<line x1="263.00" y1="420.20" x2="267.00" y2="420.20" stroke="#111" stroke-width="0.75" />
<path d="M264.20 418.85 L262.00 420.20 L264.20 421.55 Z" fill="#111"/>
<line x1="185.00" y1="422.70" x2="283.80" y2="422.70" stroke="#111" stroke-width="1.1" />
<text x="234.00" y="432.50" font-size="8.35" text-anchor="middle"><tspan font-style="italic">OGA</tspan> RT-qPCR products</text>
<rect x="134.00" y="438.00" width="7.30" height="4.60" fill="#fff" stroke="#000" stroke-width="1.25" />
<text x="148.00" y="443.40" font-size="8.35">DMSO</text>
<rect x="69.95" y="450.45" width="7.70" height="4.60" fill="#93D8C0" stroke="#22A980" stroke-width="1.1" />
<text x="83.60" y="455.90" font-size="8.35">50 µM GSK690693</text>
<rect x="69.95" y="462.85" width="7.70" height="4.60" fill="#F6D585" stroke="#E6A32C" stroke-width="1.1" />
<text x="83.60" y="468.20" font-size="8.35">50 µM Y-33075</text>
<rect x="159.40" y="450.00" width="9.20" height="5.70" fill="#0E5B3D" />
<rect x="160.90" y="451.50" width="6.20" height="2.70" fill="url(#hSB)" />
<text x="174.00" y="455.90" font-size="8.35">50 µM SB-747651A</text>
<rect x="159.40" y="462.30" width="9.20" height="5.70" fill="#A57A2C" />
<rect x="160.90" y="463.80" width="6.20" height="2.70" fill="url(#hY27)" />
<text x="174.00" y="468.20" font-size="8.35">50 µM Y-27632</text>
<text x="403.00" y="273.00" font-size="8.35" font-style="italic" text-anchor="middle" fill="#000">OGT</text>
<rect x="390.40" y="277.00" width="12.00" height="12.00" fill="#00AEEF" stroke="#262626" stroke-width="1.15" />
<text x="396.40" y="286.24" font-size="9.0" text-anchor="middle" fill="#16202a">4</text>
<rect x="402.40" y="277.00" width="12.40" height="12.00" fill="#F15A2B" stroke="#262626" stroke-width="1.15" />
<text x="408.60" y="285.99" font-size="8.3" text-anchor="middle" fill="#16202a">PE</text>
<line x1="393.40" y1="292.00" x2="397.40" y2="292.00" stroke="#111" stroke-width="0.75" />
<path d="M396.20 290.65 L398.40 292.00 L396.20 293.35 Z" fill="#111"/>
<line x1="405.40" y1="292.00" x2="409.40" y2="292.00" stroke="#111" stroke-width="0.75" />
<path d="M406.60 290.65 L404.40 292.00 L406.60 293.35 Z" fill="#111"/>
<line x1="371.60" y1="309.60" x2="442.55" y2="309.60" stroke="#111111" stroke-width="1.65" stroke-dasharray="1.65 2.80"/>
<polyline points="361.00,309.60 371.18,308.00 401.70,294.40 442.40,289.00" fill="none" stroke="#E6A32C" stroke-width="2.1" stroke-linejoin="round"/>
<path d="M361.00 305.76 L364.20 312.16 L357.80 312.16 Z" fill="#E6A32C"/>
<path d="M371.18 304.16 L374.38 310.56 L367.98 310.56 Z" fill="#E6A32C"/>
<line x1="401.70" y1="293.00" x2="401.70" y2="295.80" stroke="#E6A32C" stroke-width="1.2" />
<line x1="399.10" y1="293.00" x2="404.30" y2="293.00" stroke="#E6A32C" stroke-width="1.2" />
<line x1="399.10" y1="295.80" x2="404.30" y2="295.80" stroke="#E6A32C" stroke-width="1.2" />
<path d="M401.70 290.56 L404.90 296.96 L398.50 296.96 Z" fill="#E6A32C"/>
<path d="M442.40 285.16 L445.60 291.56 L439.20 291.56 Z" fill="#E6A32C"/>
<polyline points="361.00,309.60 371.18,319.00 401.70,319.00 442.40,314.60" fill="none" stroke="#179E73" stroke-width="2.1" stroke-linejoin="round"/>
<rect x="358.00" y="306.60" width="6.00" height="6.00" fill="#179E73" />
<line x1="371.18" y1="315.00" x2="371.18" y2="323.00" stroke="#179E73" stroke-width="1.2" />
<line x1="368.57" y1="315.00" x2="373.78" y2="315.00" stroke="#179E73" stroke-width="1.2" />
<line x1="368.57" y1="323.00" x2="373.78" y2="323.00" stroke="#179E73" stroke-width="1.2" />
<rect x="368.18" y="316.00" width="6.00" height="6.00" fill="#179E73" />
<line x1="401.70" y1="315.20" x2="401.70" y2="322.80" stroke="#179E73" stroke-width="1.2" />
<line x1="399.10" y1="315.20" x2="404.30" y2="315.20" stroke="#179E73" stroke-width="1.2" />
<line x1="399.10" y1="322.80" x2="404.30" y2="322.80" stroke="#179E73" stroke-width="1.2" />
<rect x="398.70" y="316.00" width="6.00" height="6.00" fill="#179E73" />
<line x1="442.40" y1="309.40" x2="442.40" y2="319.80" stroke="#179E73" stroke-width="1.2" />
<line x1="439.80" y1="309.40" x2="445.00" y2="309.40" stroke="#179E73" stroke-width="1.2" />
<line x1="439.80" y1="319.80" x2="445.00" y2="319.80" stroke="#179E73" stroke-width="1.2" />
<rect x="439.40" y="311.60" width="6.00" height="6.00" fill="#179E73" />
<polyline points="361.00,309.20 371.18,304.40 401.70,305.60 442.40,303.00" fill="none" stroke="#000" stroke-width="2.1" stroke-linejoin="round"/>
<circle cx="361.00" cy="309.20" r="2.9" fill="#000"/>
<circle cx="371.18" cy="304.40" r="2.9" fill="#000"/>
<circle cx="401.70" cy="305.60" r="2.9" fill="#000"/>
<circle cx="442.40" cy="303.00" r="2.9" fill="#000"/>
<line x1="361.00" y1="281.45" x2="361.00" y2="350.05" stroke="#111111" stroke-width="1.9" />
<line x1="354.80" y1="349.10" x2="361.00" y2="349.10" stroke="#111111" stroke-width="1.85" />
<text x="352.40" y="352.06" font-size="8.35" font-weight="bold" text-anchor="end" fill="#000">0.01</text>
<line x1="357.60" y1="343.15" x2="361.00" y2="343.15" stroke="#111111" stroke-width="1.7" />
<line x1="357.60" y1="339.68" x2="361.00" y2="339.68" stroke="#111111" stroke-width="1.7" />
<line x1="357.60" y1="337.21" x2="361.00" y2="337.21" stroke="#111111" stroke-width="1.7" />
<line x1="357.60" y1="335.30" x2="361.00" y2="335.30" stroke="#111111" stroke-width="1.7" />
<line x1="357.60" y1="333.73" x2="361.00" y2="333.73" stroke="#111111" stroke-width="1.7" />
<line x1="357.60" y1="332.41" x2="361.00" y2="332.41" stroke="#111111" stroke-width="1.7" />
<line x1="357.60" y1="331.26" x2="361.00" y2="331.26" stroke="#111111" stroke-width="1.7" />
<line x1="357.60" y1="330.25" x2="361.00" y2="330.25" stroke="#111111" stroke-width="1.7" />
<line x1="354.80" y1="329.35" x2="361.00" y2="329.35" stroke="#111111" stroke-width="1.85" />
<text x="352.40" y="332.31" font-size="8.35" font-weight="bold" text-anchor="end" fill="#000">0.1</text>
<line x1="357.60" y1="323.40" x2="361.00" y2="323.40" stroke="#111111" stroke-width="1.7" />
<line x1="357.60" y1="319.93" x2="361.00" y2="319.93" stroke="#111111" stroke-width="1.7" />
<line x1="357.60" y1="317.46" x2="361.00" y2="317.46" stroke="#111111" stroke-width="1.7" />
<line x1="357.60" y1="315.55" x2="361.00" y2="315.55" stroke="#111111" stroke-width="1.7" />
<line x1="357.60" y1="313.98" x2="361.00" y2="313.98" stroke="#111111" stroke-width="1.7" />
<line x1="357.60" y1="312.66" x2="361.00" y2="312.66" stroke="#111111" stroke-width="1.7" />
<line x1="357.60" y1="311.51" x2="361.00" y2="311.51" stroke="#111111" stroke-width="1.7" />
<line x1="357.60" y1="310.50" x2="361.00" y2="310.50" stroke="#111111" stroke-width="1.7" />
<line x1="354.80" y1="309.60" x2="361.00" y2="309.60" stroke="#111111" stroke-width="1.85" />
<text x="352.40" y="312.56" font-size="8.35" font-weight="bold" text-anchor="end" fill="#000">1</text>
<line x1="357.60" y1="303.65" x2="361.00" y2="303.65" stroke="#111111" stroke-width="1.7" />
<line x1="357.60" y1="300.18" x2="361.00" y2="300.18" stroke="#111111" stroke-width="1.7" />
<line x1="357.60" y1="297.71" x2="361.00" y2="297.71" stroke="#111111" stroke-width="1.7" />
<line x1="357.60" y1="295.80" x2="361.00" y2="295.80" stroke="#111111" stroke-width="1.7" />
<line x1="357.60" y1="294.23" x2="361.00" y2="294.23" stroke="#111111" stroke-width="1.7" />
<line x1="357.60" y1="292.91" x2="361.00" y2="292.91" stroke="#111111" stroke-width="1.7" />
<line x1="357.60" y1="291.76" x2="361.00" y2="291.76" stroke="#111111" stroke-width="1.7" />
<line x1="357.60" y1="290.75" x2="361.00" y2="290.75" stroke="#111111" stroke-width="1.7" />
<line x1="354.80" y1="289.85" x2="361.00" y2="289.85" stroke="#111111" stroke-width="1.85" />
<text x="352.40" y="292.81" font-size="8.35" font-weight="bold" text-anchor="end" fill="#000">10</text>
<line x1="357.60" y1="283.90" x2="361.00" y2="283.90" stroke="#111111" stroke-width="1.7" />
<line x1="360.05" y1="349.10" x2="443.05" y2="349.10" stroke="#111111" stroke-width="1.9" />
<line x1="361.00" y1="349.10" x2="361.00" y2="355.50" stroke="#111111" stroke-width="1.85" />
<line x1="364.39" y1="349.10" x2="364.39" y2="352.90" stroke="#111111" stroke-width="1.7" />
<line x1="367.78" y1="349.10" x2="367.78" y2="352.90" stroke="#111111" stroke-width="1.7" />
<line x1="371.18" y1="349.10" x2="371.18" y2="352.90" stroke="#111111" stroke-width="1.7" />
<line x1="374.57" y1="349.10" x2="374.57" y2="352.90" stroke="#111111" stroke-width="1.7" />
<line x1="377.96" y1="349.10" x2="377.96" y2="352.90" stroke="#111111" stroke-width="1.7" />
<line x1="381.35" y1="349.10" x2="381.35" y2="355.50" stroke="#111111" stroke-width="1.85" />
<line x1="384.74" y1="349.10" x2="384.74" y2="352.90" stroke="#111111" stroke-width="1.7" />
<line x1="388.13" y1="349.10" x2="388.13" y2="352.90" stroke="#111111" stroke-width="1.7" />
<line x1="391.52" y1="349.10" x2="391.52" y2="352.90" stroke="#111111" stroke-width="1.7" />
<line x1="394.92" y1="349.10" x2="394.92" y2="352.90" stroke="#111111" stroke-width="1.7" />
<line x1="398.31" y1="349.10" x2="398.31" y2="352.90" stroke="#111111" stroke-width="1.7" />
<line x1="401.70" y1="349.10" x2="401.70" y2="355.50" stroke="#111111" stroke-width="1.85" />
<line x1="405.09" y1="349.10" x2="405.09" y2="352.90" stroke="#111111" stroke-width="1.7" />
<line x1="408.48" y1="349.10" x2="408.48" y2="352.90" stroke="#111111" stroke-width="1.7" />
<line x1="411.88" y1="349.10" x2="411.88" y2="352.90" stroke="#111111" stroke-width="1.7" />
<line x1="415.27" y1="349.10" x2="415.27" y2="352.90" stroke="#111111" stroke-width="1.7" />
<line x1="418.66" y1="349.10" x2="418.66" y2="352.90" stroke="#111111" stroke-width="1.7" />
<line x1="422.05" y1="349.10" x2="422.05" y2="355.50" stroke="#111111" stroke-width="1.85" />
<line x1="425.44" y1="349.10" x2="425.44" y2="352.90" stroke="#111111" stroke-width="1.7" />
<line x1="428.83" y1="349.10" x2="428.83" y2="352.90" stroke="#111111" stroke-width="1.7" />
<line x1="432.23" y1="349.10" x2="432.23" y2="352.90" stroke="#111111" stroke-width="1.7" />
<line x1="435.62" y1="349.10" x2="435.62" y2="352.90" stroke="#111111" stroke-width="1.7" />
<line x1="439.01" y1="349.10" x2="439.01" y2="352.90" stroke="#111111" stroke-width="1.7" />
<line x1="442.40" y1="349.10" x2="442.40" y2="355.50" stroke="#111111" stroke-width="1.85" />
<text x="361.00" y="366.10" font-size="8.35" font-weight="bold" text-anchor="middle" fill="#000">0</text>
<text x="381.35" y="366.10" font-size="8.35" font-weight="bold" text-anchor="middle" fill="#000">6</text>
<text x="401.70" y="366.10" font-size="8.35" font-weight="bold" text-anchor="middle" fill="#000">12</text>
<text x="422.05" y="366.10" font-size="8.35" font-weight="bold" text-anchor="middle" fill="#000">18</text>
<text x="442.40" y="366.10" font-size="8.35" font-weight="bold" text-anchor="middle" fill="#000">24</text>
<text x="513.00" y="273.00" font-size="8.35" font-style="italic" text-anchor="middle" fill="#000">OGA</text>
<rect x="495.60" y="277.00" width="11.80" height="12.00" fill="#F15A2B" stroke="#262626" stroke-width="1.15" />
<text x="501.50" y="286.17" font-size="8.8" text-anchor="middle" fill="#16202a">10</text>
<rect x="507.40" y="277.00" width="23.20" height="12.00" fill="#F15A2B" stroke="#262626" stroke-width="1.15" />
<text x="519.00" y="286.17" font-size="8.8" text-anchor="middle" fill="#16202a">12-14</text>
<line x1="501.00" y1="292.00" x2="505.00" y2="292.00" stroke="#111" stroke-width="0.75" />
<path d="M503.80 290.65 L506.00 292.00 L503.80 293.35 Z" fill="#111"/>
<line x1="527.00" y1="292.00" x2="531.00" y2="292.00" stroke="#111" stroke-width="0.75" />
<path d="M528.20 290.65 L526.00 292.00 L528.20 293.35 Z" fill="#111"/>
<line x1="481.80" y1="309.60" x2="551.95" y2="309.60" stroke="#111111" stroke-width="1.65" stroke-dasharray="1.65 2.80"/>
<polyline points="471.20,309.60 481.27,309.00 511.50,316.60 551.80,311.00" fill="none" stroke="#E6A32C" stroke-width="2.1" stroke-linejoin="round"/>
<path d="M471.20 305.76 L474.40 312.16 L468.00 312.16 Z" fill="#E6A32C"/>
<path d="M481.27 305.16 L484.47 311.56 L478.07 311.56 Z" fill="#E6A32C"/>
<path d="M511.50 312.76 L514.70 319.16 L508.30 319.16 Z" fill="#E6A32C"/>
<path d="M551.80 307.16 L555.00 313.56 L548.60 313.56 Z" fill="#E6A32C"/>
<polyline points="471.20,309.60 481.27,323.00 511.50,329.00 551.80,330.60" fill="none" stroke="#179E73" stroke-width="2.1" stroke-linejoin="round"/>
<rect x="468.20" y="306.60" width="6.00" height="6.00" fill="#179E73" />
<rect x="478.27" y="320.00" width="6.00" height="6.00" fill="#179E73" />
<rect x="508.50" y="326.00" width="6.00" height="6.00" fill="#179E73" />
<rect x="548.80" y="327.60" width="6.00" height="6.00" fill="#179E73" />
<polyline points="471.20,309.60 481.27,308.60 511.50,305.40 551.80,301.40" fill="none" stroke="#000" stroke-width="2.1" stroke-linejoin="round"/>
<circle cx="471.20" cy="309.60" r="2.9" fill="#000"/>
<circle cx="481.27" cy="308.60" r="2.9" fill="#000"/>
<circle cx="511.50" cy="305.40" r="2.9" fill="#000"/>
<circle cx="551.80" cy="301.40" r="2.9" fill="#000"/>
<line x1="471.20" y1="281.45" x2="471.20" y2="350.05" stroke="#111111" stroke-width="1.9" />
<line x1="465.00" y1="349.10" x2="471.20" y2="349.10" stroke="#111111" stroke-width="1.85" />
<text x="462.60" y="352.06" font-size="8.35" font-weight="bold" text-anchor="end" fill="#000">0.01</text>
<line x1="467.80" y1="343.15" x2="471.20" y2="343.15" stroke="#111111" stroke-width="1.7" />
<line x1="467.80" y1="339.68" x2="471.20" y2="339.68" stroke="#111111" stroke-width="1.7" />
<line x1="467.80" y1="337.21" x2="471.20" y2="337.21" stroke="#111111" stroke-width="1.7" />
<line x1="467.80" y1="335.30" x2="471.20" y2="335.30" stroke="#111111" stroke-width="1.7" />
<line x1="467.80" y1="333.73" x2="471.20" y2="333.73" stroke="#111111" stroke-width="1.7" />
<line x1="467.80" y1="332.41" x2="471.20" y2="332.41" stroke="#111111" stroke-width="1.7" />
<line x1="467.80" y1="331.26" x2="471.20" y2="331.26" stroke="#111111" stroke-width="1.7" />
<line x1="467.80" y1="330.25" x2="471.20" y2="330.25" stroke="#111111" stroke-width="1.7" />
<line x1="465.00" y1="329.35" x2="471.20" y2="329.35" stroke="#111111" stroke-width="1.85" />
<text x="462.60" y="332.31" font-size="8.35" font-weight="bold" text-anchor="end" fill="#000">0.1</text>
<line x1="467.80" y1="323.40" x2="471.20" y2="323.40" stroke="#111111" stroke-width="1.7" />
<line x1="467.80" y1="319.93" x2="471.20" y2="319.93" stroke="#111111" stroke-width="1.7" />
<line x1="467.80" y1="317.46" x2="471.20" y2="317.46" stroke="#111111" stroke-width="1.7" />
<line x1="467.80" y1="315.55" x2="471.20" y2="315.55" stroke="#111111" stroke-width="1.7" />
<line x1="467.80" y1="313.98" x2="471.20" y2="313.98" stroke="#111111" stroke-width="1.7" />
<line x1="467.80" y1="312.66" x2="471.20" y2="312.66" stroke="#111111" stroke-width="1.7" />
<line x1="467.80" y1="311.51" x2="471.20" y2="311.51" stroke="#111111" stroke-width="1.7" />
<line x1="467.80" y1="310.50" x2="471.20" y2="310.50" stroke="#111111" stroke-width="1.7" />
<line x1="465.00" y1="309.60" x2="471.20" y2="309.60" stroke="#111111" stroke-width="1.85" />
<text x="462.60" y="312.56" font-size="8.35" font-weight="bold" text-anchor="end" fill="#000">1</text>
<line x1="467.80" y1="303.65" x2="471.20" y2="303.65" stroke="#111111" stroke-width="1.7" />
<line x1="467.80" y1="300.18" x2="471.20" y2="300.18" stroke="#111111" stroke-width="1.7" />
<line x1="467.80" y1="297.71" x2="471.20" y2="297.71" stroke="#111111" stroke-width="1.7" />
<line x1="467.80" y1="295.80" x2="471.20" y2="295.80" stroke="#111111" stroke-width="1.7" />
<line x1="467.80" y1="294.23" x2="471.20" y2="294.23" stroke="#111111" stroke-width="1.7" />
<line x1="467.80" y1="292.91" x2="471.20" y2="292.91" stroke="#111111" stroke-width="1.7" />
<line x1="467.80" y1="291.76" x2="471.20" y2="291.76" stroke="#111111" stroke-width="1.7" />
<line x1="467.80" y1="290.75" x2="471.20" y2="290.75" stroke="#111111" stroke-width="1.7" />
<line x1="465.00" y1="289.85" x2="471.20" y2="289.85" stroke="#111111" stroke-width="1.85" />
<text x="462.60" y="292.81" font-size="8.35" font-weight="bold" text-anchor="end" fill="#000">10</text>
<line x1="467.80" y1="283.90" x2="471.20" y2="283.90" stroke="#111111" stroke-width="1.7" />
<line x1="470.25" y1="349.10" x2="552.45" y2="349.10" stroke="#111111" stroke-width="1.9" />
<line x1="471.20" y1="349.10" x2="471.20" y2="355.50" stroke="#111111" stroke-width="1.85" />
<line x1="474.56" y1="349.10" x2="474.56" y2="352.90" stroke="#111111" stroke-width="1.7" />
<line x1="477.92" y1="349.10" x2="477.92" y2="352.90" stroke="#111111" stroke-width="1.7" />
<line x1="481.27" y1="349.10" x2="481.27" y2="352.90" stroke="#111111" stroke-width="1.7" />
<line x1="484.63" y1="349.10" x2="484.63" y2="352.90" stroke="#111111" stroke-width="1.7" />
<line x1="487.99" y1="349.10" x2="487.99" y2="352.90" stroke="#111111" stroke-width="1.7" />
<line x1="491.35" y1="349.10" x2="491.35" y2="355.50" stroke="#111111" stroke-width="1.85" />
<line x1="494.71" y1="349.10" x2="494.71" y2="352.90" stroke="#111111" stroke-width="1.7" />
<line x1="498.07" y1="349.10" x2="498.07" y2="352.90" stroke="#111111" stroke-width="1.7" />
<line x1="501.43" y1="349.10" x2="501.43" y2="352.90" stroke="#111111" stroke-width="1.7" />
<line x1="504.78" y1="349.10" x2="504.78" y2="352.90" stroke="#111111" stroke-width="1.7" />
<line x1="508.14" y1="349.10" x2="508.14" y2="352.90" stroke="#111111" stroke-width="1.7" />
<line x1="511.50" y1="349.10" x2="511.50" y2="355.50" stroke="#111111" stroke-width="1.85" />
<line x1="514.86" y1="349.10" x2="514.86" y2="352.90" stroke="#111111" stroke-width="1.7" />
<line x1="518.22" y1="349.10" x2="518.22" y2="352.90" stroke="#111111" stroke-width="1.7" />
<line x1="521.58" y1="349.10" x2="521.58" y2="352.90" stroke="#111111" stroke-width="1.7" />
<line x1="524.93" y1="349.10" x2="524.93" y2="352.90" stroke="#111111" stroke-width="1.7" />
<line x1="528.29" y1="349.10" x2="528.29" y2="352.90" stroke="#111111" stroke-width="1.7" />
<line x1="531.65" y1="349.10" x2="531.65" y2="355.50" stroke="#111111" stroke-width="1.85" />
<line x1="535.01" y1="349.10" x2="535.01" y2="352.90" stroke="#111111" stroke-width="1.7" />
<line x1="538.37" y1="349.10" x2="538.37" y2="352.90" stroke="#111111" stroke-width="1.7" />
<line x1="541.73" y1="349.10" x2="541.73" y2="352.90" stroke="#111111" stroke-width="1.7" />
<line x1="545.08" y1="349.10" x2="545.08" y2="352.90" stroke="#111111" stroke-width="1.7" />
<line x1="548.44" y1="349.10" x2="548.44" y2="352.90" stroke="#111111" stroke-width="1.7" />
<line x1="551.80" y1="349.10" x2="551.80" y2="355.50" stroke="#111111" stroke-width="1.85" />
<text x="471.20" y="366.10" font-size="8.35" font-weight="bold" text-anchor="middle" fill="#000">0</text>
<text x="491.35" y="366.10" font-size="8.35" font-weight="bold" text-anchor="middle" fill="#000">6</text>
<text x="511.50" y="366.10" font-size="8.35" font-weight="bold" text-anchor="middle" fill="#000">12</text>
<text x="531.65" y="366.10" font-size="8.35" font-weight="bold" text-anchor="middle" fill="#000">18</text>
<text x="551.80" y="366.10" font-size="8.35" font-weight="bold" text-anchor="middle" fill="#000">24</text>
<rect x="390.40" y="373.60" width="12.00" height="12.00" fill="#12A46D" stroke="#262626" stroke-width="1.15" />
<text x="396.40" y="382.84" font-size="9.0" text-anchor="middle" fill="#16202a">4</text>
<rect x="402.40" y="373.60" width="12.20" height="12.00" fill="#12A46D" stroke="#262626" stroke-width="1.15" />
<text x="408.50" y="382.84" font-size="9.0" text-anchor="middle" fill="#16202a">5</text>
<line x1="393.40" y1="388.40" x2="397.40" y2="388.40" stroke="#111" stroke-width="0.75" />
<path d="M396.20 387.05 L398.40 388.40 L396.20 389.75 Z" fill="#111"/>
<line x1="405.40" y1="388.40" x2="409.40" y2="388.40" stroke="#111" stroke-width="0.75" />
<path d="M406.60 387.05 L404.40 388.40 L406.60 389.75 Z" fill="#111"/>
<line x1="371.60" y1="397.60" x2="442.55" y2="397.60" stroke="#111111" stroke-width="1.65" stroke-dasharray="1.65 2.80"/>
<polyline points="361.00,397.60 371.18,399.60 401.70,408.40 442.40,410.00" fill="none" stroke="#E6A32C" stroke-width="2.1" stroke-linejoin="round"/>
<path d="M361.00 393.76 L364.20 400.16 L357.80 400.16 Z" fill="#E6A32C"/>
<path d="M371.18 395.76 L374.38 402.16 L367.98 402.16 Z" fill="#E6A32C"/>
<path d="M401.70 404.56 L404.90 410.96 L398.50 410.96 Z" fill="#E6A32C"/>
<path d="M442.40 406.16 L445.60 412.56 L439.20 412.56 Z" fill="#E6A32C"/>
<polyline points="361.00,397.60 371.18,402.40 401.70,414.40 442.40,424.00" fill="none" stroke="#179E73" stroke-width="2.1" stroke-linejoin="round"/>
<rect x="358.00" y="394.60" width="6.00" height="6.00" fill="#179E73" />
<rect x="368.18" y="399.40" width="6.00" height="6.00" fill="#179E73" />
<rect x="398.70" y="411.40" width="6.00" height="6.00" fill="#179E73" />
<rect x="439.40" y="421.00" width="6.00" height="6.00" fill="#179E73" />
<polyline points="361.00,397.60 371.18,400.00 401.70,394.40 442.40,391.60" fill="none" stroke="#000" stroke-width="2.1" stroke-linejoin="round"/>
<circle cx="361.00" cy="397.60" r="2.9" fill="#000"/>
<circle cx="371.18" cy="400.00" r="2.9" fill="#000"/>
<circle cx="401.70" cy="394.40" r="2.9" fill="#000"/>
<circle cx="442.40" cy="391.60" r="2.9" fill="#000"/>
<line x1="361.00" y1="369.45" x2="361.00" y2="438.05" stroke="#111111" stroke-width="1.9" />
<line x1="354.80" y1="437.10" x2="361.00" y2="437.10" stroke="#111111" stroke-width="1.85" />
<text x="352.40" y="440.06" font-size="8.35" font-weight="bold" text-anchor="end" fill="#000">0.01</text>
<line x1="357.60" y1="431.15" x2="361.00" y2="431.15" stroke="#111111" stroke-width="1.7" />
<line x1="357.60" y1="427.68" x2="361.00" y2="427.68" stroke="#111111" stroke-width="1.7" />
<line x1="357.60" y1="425.21" x2="361.00" y2="425.21" stroke="#111111" stroke-width="1.7" />
<line x1="357.60" y1="423.30" x2="361.00" y2="423.30" stroke="#111111" stroke-width="1.7" />
<line x1="357.60" y1="421.73" x2="361.00" y2="421.73" stroke="#111111" stroke-width="1.7" />
<line x1="357.60" y1="420.41" x2="361.00" y2="420.41" stroke="#111111" stroke-width="1.7" />
<line x1="357.60" y1="419.26" x2="361.00" y2="419.26" stroke="#111111" stroke-width="1.7" />
<line x1="357.60" y1="418.25" x2="361.00" y2="418.25" stroke="#111111" stroke-width="1.7" />
<line x1="354.80" y1="417.35" x2="361.00" y2="417.35" stroke="#111111" stroke-width="1.85" />
<text x="352.40" y="420.31" font-size="8.35" font-weight="bold" text-anchor="end" fill="#000">0.1</text>
<line x1="357.60" y1="411.40" x2="361.00" y2="411.40" stroke="#111111" stroke-width="1.7" />
<line x1="357.60" y1="407.93" x2="361.00" y2="407.93" stroke="#111111" stroke-width="1.7" />
<line x1="357.60" y1="405.46" x2="361.00" y2="405.46" stroke="#111111" stroke-width="1.7" />
<line x1="357.60" y1="403.55" x2="361.00" y2="403.55" stroke="#111111" stroke-width="1.7" />
<line x1="357.60" y1="401.98" x2="361.00" y2="401.98" stroke="#111111" stroke-width="1.7" />
<line x1="357.60" y1="400.66" x2="361.00" y2="400.66" stroke="#111111" stroke-width="1.7" />
<line x1="357.60" y1="399.51" x2="361.00" y2="399.51" stroke="#111111" stroke-width="1.7" />
<line x1="357.60" y1="398.50" x2="361.00" y2="398.50" stroke="#111111" stroke-width="1.7" />
<line x1="354.80" y1="397.60" x2="361.00" y2="397.60" stroke="#111111" stroke-width="1.85" />
<text x="352.40" y="400.56" font-size="8.35" font-weight="bold" text-anchor="end" fill="#000">1</text>
<line x1="357.60" y1="391.65" x2="361.00" y2="391.65" stroke="#111111" stroke-width="1.7" />
<line x1="357.60" y1="388.18" x2="361.00" y2="388.18" stroke="#111111" stroke-width="1.7" />
<line x1="357.60" y1="385.71" x2="361.00" y2="385.71" stroke="#111111" stroke-width="1.7" />
<line x1="357.60" y1="383.80" x2="361.00" y2="383.80" stroke="#111111" stroke-width="1.7" />
<line x1="357.60" y1="382.23" x2="361.00" y2="382.23" stroke="#111111" stroke-width="1.7" />
<line x1="357.60" y1="380.91" x2="361.00" y2="380.91" stroke="#111111" stroke-width="1.7" />
<line x1="357.60" y1="379.76" x2="361.00" y2="379.76" stroke="#111111" stroke-width="1.7" />
<line x1="357.60" y1="378.75" x2="361.00" y2="378.75" stroke="#111111" stroke-width="1.7" />
<line x1="354.80" y1="377.85" x2="361.00" y2="377.85" stroke="#111111" stroke-width="1.85" />
<text x="352.40" y="380.81" font-size="8.35" font-weight="bold" text-anchor="end" fill="#000">10</text>
<line x1="357.60" y1="371.90" x2="361.00" y2="371.90" stroke="#111111" stroke-width="1.7" />
<line x1="360.05" y1="437.10" x2="443.05" y2="437.10" stroke="#111111" stroke-width="1.9" />
<line x1="361.00" y1="437.10" x2="361.00" y2="443.50" stroke="#111111" stroke-width="1.85" />
<line x1="364.39" y1="437.10" x2="364.39" y2="440.90" stroke="#111111" stroke-width="1.7" />
<line x1="367.78" y1="437.10" x2="367.78" y2="440.90" stroke="#111111" stroke-width="1.7" />
<line x1="371.18" y1="437.10" x2="371.18" y2="440.90" stroke="#111111" stroke-width="1.7" />
<line x1="374.57" y1="437.10" x2="374.57" y2="440.90" stroke="#111111" stroke-width="1.7" />
<line x1="377.96" y1="437.10" x2="377.96" y2="440.90" stroke="#111111" stroke-width="1.7" />
<line x1="381.35" y1="437.10" x2="381.35" y2="443.50" stroke="#111111" stroke-width="1.85" />
<line x1="384.74" y1="437.10" x2="384.74" y2="440.90" stroke="#111111" stroke-width="1.7" />
<line x1="388.13" y1="437.10" x2="388.13" y2="440.90" stroke="#111111" stroke-width="1.7" />
<line x1="391.52" y1="437.10" x2="391.52" y2="440.90" stroke="#111111" stroke-width="1.7" />
<line x1="394.92" y1="437.10" x2="394.92" y2="440.90" stroke="#111111" stroke-width="1.7" />
<line x1="398.31" y1="437.10" x2="398.31" y2="440.90" stroke="#111111" stroke-width="1.7" />
<line x1="401.70" y1="437.10" x2="401.70" y2="443.50" stroke="#111111" stroke-width="1.85" />
<line x1="405.09" y1="437.10" x2="405.09" y2="440.90" stroke="#111111" stroke-width="1.7" />
<line x1="408.48" y1="437.10" x2="408.48" y2="440.90" stroke="#111111" stroke-width="1.7" />
<line x1="411.88" y1="437.10" x2="411.88" y2="440.90" stroke="#111111" stroke-width="1.7" />
<line x1="415.27" y1="437.10" x2="415.27" y2="440.90" stroke="#111111" stroke-width="1.7" />
<line x1="418.66" y1="437.10" x2="418.66" y2="440.90" stroke="#111111" stroke-width="1.7" />
<line x1="422.05" y1="437.10" x2="422.05" y2="443.50" stroke="#111111" stroke-width="1.85" />
<line x1="425.44" y1="437.10" x2="425.44" y2="440.90" stroke="#111111" stroke-width="1.7" />
<line x1="428.83" y1="437.10" x2="428.83" y2="440.90" stroke="#111111" stroke-width="1.7" />
<line x1="432.23" y1="437.10" x2="432.23" y2="440.90" stroke="#111111" stroke-width="1.7" />
<line x1="435.62" y1="437.10" x2="435.62" y2="440.90" stroke="#111111" stroke-width="1.7" />
<line x1="439.01" y1="437.10" x2="439.01" y2="440.90" stroke="#111111" stroke-width="1.7" />
<line x1="442.40" y1="437.10" x2="442.40" y2="443.50" stroke="#111111" stroke-width="1.85" />
<text x="361.00" y="454.10" font-size="8.35" font-weight="bold" text-anchor="middle" fill="#000">0</text>
<text x="381.35" y="454.10" font-size="8.35" font-weight="bold" text-anchor="middle" fill="#000">6</text>
<text x="401.70" y="454.10" font-size="8.35" font-weight="bold" text-anchor="middle" fill="#000">12</text>
<text x="422.05" y="454.10" font-size="8.35" font-weight="bold" text-anchor="middle" fill="#000">18</text>
<text x="442.40" y="454.10" font-size="8.35" font-weight="bold" text-anchor="middle" fill="#000">24</text>
<rect x="495.60" y="373.60" width="11.80" height="12.00" fill="#12A46D" stroke="#262626" stroke-width="1.15" />
<text x="501.50" y="382.77" font-size="8.8" text-anchor="middle" fill="#16202a">11</text>
<rect x="507.40" y="373.60" width="12.00" height="12.00" fill="#12A46D" stroke="#262626" stroke-width="1.15" />
<text x="513.40" y="382.77" font-size="8.8" text-anchor="middle" fill="#16202a">12</text>
<rect x="519.40" y="373.60" width="11.40" height="12.00" fill="#12A46D" stroke="#262626" stroke-width="1.15" />
<text x="525.10" y="382.77" font-size="8.8" text-anchor="middle" fill="#16202a">13</text>
<line x1="501.00" y1="388.40" x2="505.00" y2="388.40" stroke="#111" stroke-width="0.75" />
<path d="M503.80 387.05 L506.00 388.40 L503.80 389.75 Z" fill="#111"/>
<line x1="519.00" y1="388.40" x2="523.00" y2="388.40" stroke="#111" stroke-width="0.75" />
<path d="M520.20 387.05 L518.00 388.40 L520.20 389.75 Z" fill="#111"/>
<line x1="481.80" y1="397.60" x2="551.95" y2="397.60" stroke="#111111" stroke-width="1.65" stroke-dasharray="1.65 2.80"/>
<polyline points="471.20,397.60 481.27,398.00 511.50,409.00 551.80,412.00" fill="none" stroke="#E6A32C" stroke-width="2.1" stroke-linejoin="round"/>
<path d="M471.20 393.76 L474.40 400.16 L468.00 400.16 Z" fill="#E6A32C"/>
<path d="M481.27 394.16 L484.47 400.56 L478.07 400.56 Z" fill="#E6A32C"/>
<path d="M511.50 405.16 L514.70 411.56 L508.30 411.56 Z" fill="#E6A32C"/>
<path d="M551.80 408.16 L555.00 414.56 L548.60 414.56 Z" fill="#E6A32C"/>
<polyline points="471.20,397.60 481.27,403.00 511.50,416.60 551.80,412.60" fill="none" stroke="#179E73" stroke-width="2.1" stroke-linejoin="round"/>
<rect x="468.20" y="394.60" width="6.00" height="6.00" fill="#179E73" />
<rect x="478.27" y="400.00" width="6.00" height="6.00" fill="#179E73" />
<rect x="508.50" y="413.60" width="6.00" height="6.00" fill="#179E73" />
<line x1="551.80" y1="409.00" x2="551.80" y2="416.20" stroke="#179E73" stroke-width="1.2" />
<line x1="549.20" y1="409.00" x2="554.40" y2="409.00" stroke="#179E73" stroke-width="1.2" />
<line x1="549.20" y1="416.20" x2="554.40" y2="416.20" stroke="#179E73" stroke-width="1.2" />
<rect x="548.80" y="409.60" width="6.00" height="6.00" fill="#179E73" />
<polyline points="471.20,397.60 481.27,393.40 511.50,392.00 551.80,386.40" fill="none" stroke="#000" stroke-width="2.1" stroke-linejoin="round"/>
<circle cx="471.20" cy="397.60" r="2.9" fill="#000"/>
<circle cx="481.27" cy="393.40" r="2.9" fill="#000"/>
<circle cx="511.50" cy="392.00" r="2.9" fill="#000"/>
<circle cx="551.80" cy="386.40" r="2.9" fill="#000"/>
<line x1="471.20" y1="369.45" x2="471.20" y2="438.05" stroke="#111111" stroke-width="1.9" />
<line x1="465.00" y1="437.10" x2="471.20" y2="437.10" stroke="#111111" stroke-width="1.85" />
<text x="462.60" y="440.06" font-size="8.35" font-weight="bold" text-anchor="end" fill="#000">0.01</text>
<line x1="467.80" y1="431.15" x2="471.20" y2="431.15" stroke="#111111" stroke-width="1.7" />
<line x1="467.80" y1="427.68" x2="471.20" y2="427.68" stroke="#111111" stroke-width="1.7" />
<line x1="467.80" y1="425.21" x2="471.20" y2="425.21" stroke="#111111" stroke-width="1.7" />
<line x1="467.80" y1="423.30" x2="471.20" y2="423.30" stroke="#111111" stroke-width="1.7" />
<line x1="467.80" y1="421.73" x2="471.20" y2="421.73" stroke="#111111" stroke-width="1.7" />
<line x1="467.80" y1="420.41" x2="471.20" y2="420.41" stroke="#111111" stroke-width="1.7" />
<line x1="467.80" y1="419.26" x2="471.20" y2="419.26" stroke="#111111" stroke-width="1.7" />
<line x1="467.80" y1="418.25" x2="471.20" y2="418.25" stroke="#111111" stroke-width="1.7" />
<line x1="465.00" y1="417.35" x2="471.20" y2="417.35" stroke="#111111" stroke-width="1.85" />
<text x="462.60" y="420.31" font-size="8.35" font-weight="bold" text-anchor="end" fill="#000">0.1</text>
<line x1="467.80" y1="411.40" x2="471.20" y2="411.40" stroke="#111111" stroke-width="1.7" />
<line x1="467.80" y1="407.93" x2="471.20" y2="407.93" stroke="#111111" stroke-width="1.7" />
<line x1="467.80" y1="405.46" x2="471.20" y2="405.46" stroke="#111111" stroke-width="1.7" />
<line x1="467.80" y1="403.55" x2="471.20" y2="403.55" stroke="#111111" stroke-width="1.7" />
<line x1="467.80" y1="401.98" x2="471.20" y2="401.98" stroke="#111111" stroke-width="1.7" />
<line x1="467.80" y1="400.66" x2="471.20" y2="400.66" stroke="#111111" stroke-width="1.7" />
<line x1="467.80" y1="399.51" x2="471.20" y2="399.51" stroke="#111111" stroke-width="1.7" />
<line x1="467.80" y1="398.50" x2="471.20" y2="398.50" stroke="#111111" stroke-width="1.7" />
<line x1="465.00" y1="397.60" x2="471.20" y2="397.60" stroke="#111111" stroke-width="1.85" />
<text x="462.60" y="400.56" font-size="8.35" font-weight="bold" text-anchor="end" fill="#000">1</text>
<line x1="467.80" y1="391.65" x2="471.20" y2="391.65" stroke="#111111" stroke-width="1.7" />
<line x1="467.80" y1="388.18" x2="471.20" y2="388.18" stroke="#111111" stroke-width="1.7" />
<line x1="467.80" y1="385.71" x2="471.20" y2="385.71" stroke="#111111" stroke-width="1.7" />
<line x1="467.80" y1="383.80" x2="471.20" y2="383.80" stroke="#111111" stroke-width="1.7" />
<line x1="467.80" y1="382.23" x2="471.20" y2="382.23" stroke="#111111" stroke-width="1.7" />
<line x1="467.80" y1="380.91" x2="471.20" y2="380.91" stroke="#111111" stroke-width="1.7" />
<line x1="467.80" y1="379.76" x2="471.20" y2="379.76" stroke="#111111" stroke-width="1.7" />
<line x1="467.80" y1="378.75" x2="471.20" y2="378.75" stroke="#111111" stroke-width="1.7" />
<line x1="465.00" y1="377.85" x2="471.20" y2="377.85" stroke="#111111" stroke-width="1.85" />
<text x="462.60" y="380.81" font-size="8.35" font-weight="bold" text-anchor="end" fill="#000">10</text>
<line x1="467.80" y1="371.90" x2="471.20" y2="371.90" stroke="#111111" stroke-width="1.7" />
<line x1="470.25" y1="437.10" x2="552.45" y2="437.10" stroke="#111111" stroke-width="1.9" />
<line x1="471.20" y1="437.10" x2="471.20" y2="443.50" stroke="#111111" stroke-width="1.85" />
<line x1="474.56" y1="437.10" x2="474.56" y2="440.90" stroke="#111111" stroke-width="1.7" />
<line x1="477.92" y1="437.10" x2="477.92" y2="440.90" stroke="#111111" stroke-width="1.7" />
<line x1="481.27" y1="437.10" x2="481.27" y2="440.90" stroke="#111111" stroke-width="1.7" />
<line x1="484.63" y1="437.10" x2="484.63" y2="440.90" stroke="#111111" stroke-width="1.7" />
<line x1="487.99" y1="437.10" x2="487.99" y2="440.90" stroke="#111111" stroke-width="1.7" />
<line x1="491.35" y1="437.10" x2="491.35" y2="443.50" stroke="#111111" stroke-width="1.85" />
<line x1="494.71" y1="437.10" x2="494.71" y2="440.90" stroke="#111111" stroke-width="1.7" />
<line x1="498.07" y1="437.10" x2="498.07" y2="440.90" stroke="#111111" stroke-width="1.7" />
<line x1="501.43" y1="437.10" x2="501.43" y2="440.90" stroke="#111111" stroke-width="1.7" />
<line x1="504.78" y1="437.10" x2="504.78" y2="440.90" stroke="#111111" stroke-width="1.7" />
<line x1="508.14" y1="437.10" x2="508.14" y2="440.90" stroke="#111111" stroke-width="1.7" />
<line x1="511.50" y1="437.10" x2="511.50" y2="443.50" stroke="#111111" stroke-width="1.85" />
<line x1="514.86" y1="437.10" x2="514.86" y2="440.90" stroke="#111111" stroke-width="1.7" />
<line x1="518.22" y1="437.10" x2="518.22" y2="440.90" stroke="#111111" stroke-width="1.7" />
<line x1="521.58" y1="437.10" x2="521.58" y2="440.90" stroke="#111111" stroke-width="1.7" />
<line x1="524.93" y1="437.10" x2="524.93" y2="440.90" stroke="#111111" stroke-width="1.7" />
<line x1="528.29" y1="437.10" x2="528.29" y2="440.90" stroke="#111111" stroke-width="1.7" />
<line x1="531.65" y1="437.10" x2="531.65" y2="443.50" stroke="#111111" stroke-width="1.85" />
<line x1="535.01" y1="437.10" x2="535.01" y2="440.90" stroke="#111111" stroke-width="1.7" />
<line x1="538.37" y1="437.10" x2="538.37" y2="440.90" stroke="#111111" stroke-width="1.7" />
<line x1="541.73" y1="437.10" x2="541.73" y2="440.90" stroke="#111111" stroke-width="1.7" />
<line x1="545.08" y1="437.10" x2="545.08" y2="440.90" stroke="#111111" stroke-width="1.7" />
<line x1="548.44" y1="437.10" x2="548.44" y2="440.90" stroke="#111111" stroke-width="1.7" />
<line x1="551.80" y1="437.10" x2="551.80" y2="443.50" stroke="#111111" stroke-width="1.85" />
<text x="471.20" y="454.10" font-size="8.35" font-weight="bold" text-anchor="middle" fill="#000">0</text>
<text x="491.35" y="454.10" font-size="8.35" font-weight="bold" text-anchor="middle" fill="#000">6</text>
<text x="511.50" y="454.10" font-size="8.35" font-weight="bold" text-anchor="middle" fill="#000">12</text>
<text x="531.65" y="454.10" font-size="8.35" font-weight="bold" text-anchor="middle" fill="#000">18</text>
<text x="551.80" y="454.10" font-size="8.35" font-weight="bold" text-anchor="middle" fill="#000">24</text>
<text x="322.00" y="318.00" font-size="8.35" font-weight="bold" text-anchor="middle" transform="rotate(-90 322.00 318.00)">Normalized</text>
<text x="331.60" y="318.00" font-size="8.35" font-weight="bold" text-anchor="middle" transform="rotate(-90 331.60 318.00)">transcript level</text>
<text x="322.00" y="406.00" font-size="8.35" font-weight="bold" text-anchor="middle" transform="rotate(-90 322.00 406.00)">Normalized</text>
<text x="331.60" y="406.00" font-size="8.35" font-weight="bold" text-anchor="middle" transform="rotate(-90 331.60 406.00)">transcript level</text>
<text x="401.60" y="463.20" font-size="8.35" font-weight="bold" text-anchor="middle">t/h</text>
<text x="511.20" y="463.20" font-size="8.35" font-weight="bold" text-anchor="middle">t/h</text>
<line x1="305.00" y1="472.40" x2="323.00" y2="472.40" stroke="#000" stroke-width="2.1" />
<circle cx="313.80" cy="472.40" r="2.9" fill="#000"/>
<text x="334.00" y="475.30" font-size="8.35">DMSO</text>
<line x1="368.40" y1="472.40" x2="386.40" y2="472.40" stroke="#179E73" stroke-width="2.1" />
<rect x="374.40" y="469.40" width="6.00" height="6.00" fill="#179E73" />
<text x="397.00" y="475.30" font-size="8.35">50 µM GSK690693</text>
<line x1="477.60" y1="472.40" x2="495.60" y2="472.40" stroke="#E6A32C" stroke-width="2.1" />
<path d="M486.60 468.76 L489.80 475.16 L483.40 475.16 Z" fill="#E6A32C"/>
<text x="506.00" y="475.30" font-size="8.35">50 µM Y-33075</text>
<circle cx="619.70" cy="261.50" r="1.7" fill="none" stroke="#F26B38" stroke-width="1.0"/>
<circle cx="625.10" cy="261.50" r="1.7" fill="none" stroke="#F26B38" stroke-width="1.0"/>
<path d="M620.00 263.00 L621.40 262.80 L623.80 267.80 L625.00 273.20 L622.00 268.60 Z" fill="#1a1a1a" stroke="#1a1a1a" stroke-width="0.6" stroke-linejoin="round"/>
<path d="M624.80 263.00 L623.40 262.80 L621.00 267.80 L619.80 273.20 L622.80 268.60 Z" fill="#1a1a1a" stroke="#1a1a1a" stroke-width="0.6" stroke-linejoin="round"/>
<circle cx="643.70" cy="261.50" r="1.7" fill="none" stroke="#F26B38" stroke-width="1.0"/>
<circle cx="649.10" cy="261.50" r="1.7" fill="none" stroke="#F26B38" stroke-width="1.0"/>
<path d="M644.00 263.00 L645.40 262.80 L647.80 267.80 L649.00 273.20 L646.00 268.60 Z" fill="#1a1a1a" stroke="#1a1a1a" stroke-width="0.6" stroke-linejoin="round"/>
<path d="M648.80 263.00 L647.40 262.80 L645.00 267.80 L643.80 273.20 L646.80 268.60 Z" fill="#1a1a1a" stroke="#1a1a1a" stroke-width="0.6" stroke-linejoin="round"/>
<line x1="622.40" y1="274.40" x2="622.40" y2="282.60" stroke="#D6459A" stroke-width="0.7" />
<path d="M621.10 281.20 L622.40 283.80 L623.70 281.20 Z" fill="#D6459A"/>
<line x1="646.40" y1="274.40" x2="646.40" y2="282.60" stroke="#D6459A" stroke-width="0.7" />
<path d="M645.10 281.20 L646.40 283.80 L647.70 281.20 Z" fill="#D6459A"/>
<text x="586.40" y="281.80" font-size="8.3">sgRNA1</text>
<text x="650.60" y="281.80" font-size="8.3">sgRNA2</text>
<text x="634.40" y="283.80" font-size="8.35" font-weight="bold" text-anchor="middle">ISS</text>
<line x1="622.40" y1="287.40" x2="646.40" y2="287.40" stroke="#222" stroke-width="1.0" />
<rect x="597.00" y="293.20" width="23.00" height="9.20" fill="#B5B5B5" stroke="#262626" stroke-width="0.9" />
<rect x="635.00" y="293.20" width="23.60" height="9.20" fill="#B5B5B5" stroke="#262626" stroke-width="0.9" />
<text x="608.50" y="300.80" font-size="8.2" text-anchor="middle" fill="#333">DI1</text>
<text x="646.80" y="300.80" font-size="8.2" text-anchor="middle" fill="#333">DI2</text>
<rect x="581.00" y="289.60" width="16.00" height="16.00" fill="#00AEEF" stroke="#262626" stroke-width="1.15" />
<text x="589.00" y="300.62" font-size="8.4" text-anchor="middle" fill="#16202a">4</text>
<rect x="620.00" y="289.60" width="15.00" height="16.00" fill="#F15A2B" stroke="#262626" stroke-width="1.15" />
<text x="627.50" y="300.84" font-size="9.0" text-anchor="middle" fill="#16202a">PE</text>
<rect x="658.60" y="289.60" width="16.00" height="16.00" fill="#00AEEF" stroke="#262626" stroke-width="1.15" />
<text x="666.60" y="300.62" font-size="8.4" text-anchor="middle" fill="#16202a">5</text>
<rect x="570.40" y="296.90" width="1.50" height="1.50" fill="#111" />
<rect x="573.50" y="296.90" width="1.50" height="1.50" fill="#111" />
<rect x="576.60" y="296.90" width="1.50" height="1.50" fill="#111" />
<rect x="677.20" y="296.90" width="1.50" height="1.50" fill="#111" />
<rect x="680.30" y="296.90" width="1.50" height="1.50" fill="#111" />
<rect x="683.40" y="296.90" width="1.50" height="1.50" fill="#111" />
<text x="628.30" y="319.60" font-size="11.8" font-weight="bold" font-style="italic" text-anchor="middle" fill="#111">OGT</text>
<line x1="627.60" y1="324.00" x2="627.60" y2="355.40" stroke="#111" stroke-width="1.1" />
<path d="M622.90 351.80 L627.60 354.40 L632.30 351.80 L627.60 361.40 Z" fill="#111"/>
<text x="631.40" y="330.40" font-size="8.3">CRISPR/Cas9</text>
<text x="631.40" y="340.40" font-size="8.3">Δ<tspan font-style="italic">OGT</tspan>-ISS cell</text>
<text x="631.40" y="350.40" font-size="8.3">line generation</text>
<rect x="619.60" y="368.60" width="15.80" height="9.60" fill="#B5B5B5" stroke="#262626" stroke-width="0.9" />
<rect x="603.60" y="365.40" width="16.00" height="15.80" fill="#00AEEF" stroke="#262626" stroke-width="1.15" />
<text x="611.60" y="376.32" font-size="8.4" text-anchor="middle" fill="#16202a">4</text>
<rect x="635.40" y="365.40" width="16.00" height="15.80" fill="#00AEEF" stroke="#262626" stroke-width="1.15" />
<text x="643.40" y="376.32" font-size="8.4" text-anchor="middle" fill="#16202a">5</text>
<rect x="593.60" y="372.50" width="1.50" height="1.50" fill="#111" />
<rect x="596.70" y="372.50" width="1.50" height="1.50" fill="#111" />
<rect x="599.80" y="372.50" width="1.50" height="1.50" fill="#111" />
<rect x="654.20" y="372.50" width="1.50" height="1.50" fill="#111" />
<rect x="657.30" y="372.50" width="1.50" height="1.50" fill="#111" />
<rect x="660.40" y="372.50" width="1.50" height="1.50" fill="#111" />
<text x="625.00" y="395.40" font-size="11.8" text-anchor="middle">Δ<tspan font-style="italic">OGT</tspan>-ISS</text>
<line x1="627.60" y1="401.00" x2="627.60" y2="432.40" stroke="#111" stroke-width="1.1" />
<path d="M622.90 428.80 L627.60 431.40 L632.30 428.80 L627.60 438.40 Z" fill="#111"/>
<text x="657.00" y="417.00" font-size="8.2" text-anchor="middle">Constitutively</text>
<text x="656.80" y="426.80" font-size="8.2" text-anchor="middle">spliced</text>
<rect x="611.60" y="444.00" width="16.00" height="16.00" fill="#12A46D" stroke="#262626" stroke-width="1.15" />
<text x="619.60" y="455.02" font-size="8.4" text-anchor="middle" fill="#16202a">4</text>
<rect x="627.60" y="444.00" width="16.00" height="16.00" fill="#12A46D" stroke="#262626" stroke-width="1.15" />
<text x="635.60" y="455.02" font-size="8.4" text-anchor="middle" fill="#16202a">5</text>
<rect x="601.60" y="451.30" width="1.50" height="1.50" fill="#111" />
<rect x="604.70" y="451.30" width="1.50" height="1.50" fill="#111" />
<rect x="607.80" y="451.30" width="1.50" height="1.50" fill="#111" />
<rect x="646.20" y="451.30" width="1.50" height="1.50" fill="#111" />
<rect x="649.30" y="451.30" width="1.50" height="1.50" fill="#111" />
<rect x="652.40" y="451.30" width="1.50" height="1.50" fill="#111" />
<text x="628.00" y="470.20" font-size="9.45" text-anchor="middle">Productive</text>
<text x="627.80" y="481.60" font-size="9.45" text-anchor="middle"><tspan font-style="italic">OGT</tspan> transcript</text>
<text x="68.80" y="513.80" font-size="8.35" font-weight="bold" text-anchor="middle">wt HCT116 cells</text>
<text x="49.50" y="568.60" font-size="7.15" transform="rotate(-57.5 49.50 568.60)" fill="#333">DMSO</text>
<text x="60.90" y="568.60" font-size="7.15" transform="rotate(-57.5 60.90 568.60)" fill="#333">10 µM OSMI-4b</text>
<text x="72.10" y="568.60" font-size="7.15" transform="rotate(-57.5 72.10 568.60)" fill="#333">1 µM TMG</text>
<text x="83.50" y="568.60" font-size="7.15" transform="rotate(-57.5 83.50 568.60)" fill="#333">50 µM GSK690693</text>
<text x="94.70" y="568.60" font-size="7.15" transform="rotate(-57.5 94.70 568.60)" fill="#333">50 µM Y-33075</text>
<text x="107.00" y="567.20" font-size="7.2" fill="#333">MW (kDa)</text>
<clipPath id="cl1"><rect x="40.40" y="573.00" width="56.30" height="42.80"/></clipPath>
<g clip-path="url(#cl1)">
<rect x="40.40" y="573.00" width="56.30" height="42.80" fill="#e6e6e6" />
<rect x="52.26" y="571.00" width="10.06" height="46.80" fill="#fbfbfb" filter="url(#b2)"/>
<rect x="41.03" y="606.20" width="10.00" height="4.20" rx="1.89" fill="#000" opacity="0.95" filter="url(#b07)"/>
<rect x="41.43" y="579.20" width="9.20" height="4.80" rx="2.16" fill="#000" opacity="0.15" filter="url(#b15)"/>
<rect x="41.43" y="590.40" width="9.20" height="3.60" rx="1.62" fill="#000" opacity="0.15" filter="url(#b15)"/>
<rect x="41.43" y="595.80" width="9.20" height="3.60" rx="1.62" fill="#000" opacity="0.12" filter="url(#b15)"/>
<rect x="41.63" y="570.00" width="8.80" height="48.00" rx="3.96" fill="#000" opacity="0.15" filter="url(#b2)"/>
<rect x="53.69" y="608.40" width="7.20" height="2.40" rx="1.08" fill="#000" opacity="0.13" filter="url(#b15)"/>
<rect x="62.75" y="603.40" width="11.60" height="7.60" rx="3.42" fill="#000" opacity="1.0" filter="url(#b07)"/>
<rect x="63.55" y="596.00" width="10.00" height="4.40" rx="1.98" fill="#000" opacity="0.6" filter="url(#b15)"/>
<rect x="63.55" y="588.60" width="10.00" height="4.80" rx="2.16" fill="#000" opacity="0.65" filter="url(#b15)"/>
<rect x="63.55" y="578.80" width="10.00" height="5.20" rx="2.34" fill="#000" opacity="0.75" filter="url(#b15)"/>
<rect x="63.85" y="568.00" width="9.40" height="48.00" rx="4.23" fill="#000" opacity="0.7" filter="url(#b15)"/>
<rect x="63.75" y="610.60" width="9.60" height="6.00" rx="2.70" fill="#000" opacity="0.5" filter="url(#b15)"/>
<rect x="74.61" y="604.60" width="10.40" height="4.80" rx="2.16" fill="#000" opacity="0.95" filter="url(#b07)"/>
<rect x="75.21" y="596.40" width="9.20" height="4.00" rx="1.80" fill="#000" opacity="0.45" filter="url(#b15)"/>
<rect x="75.21" y="588.60" width="9.20" height="4.00" rx="1.80" fill="#000" opacity="0.45" filter="url(#b15)"/>
<rect x="75.21" y="578.80" width="9.20" height="5.20" rx="2.34" fill="#000" opacity="0.3" filter="url(#b15)"/>
<rect x="75.51" y="570.00" width="8.60" height="48.00" rx="3.87" fill="#000" opacity="0.36" filter="url(#b2)"/>
<rect x="75.41" y="611.00" width="8.80" height="4.00" rx="1.80" fill="#000" opacity="0.2" filter="url(#b15)"/>
<rect x="86.07" y="605.60" width="10.00" height="3.60" rx="1.62" fill="#000" opacity="0.92" filter="url(#b07)"/>
<rect x="86.67" y="597.10" width="8.80" height="3.40" rx="1.53" fill="#000" opacity="0.36" filter="url(#b15)"/>
<rect x="86.67" y="589.20" width="8.80" height="3.20" rx="1.44" fill="#000" opacity="0.22" filter="url(#b15)"/>
<rect x="86.67" y="579.20" width="8.80" height="4.80" rx="2.16" fill="#000" opacity="0.14" filter="url(#b15)"/>
<rect x="86.87" y="570.00" width="8.40" height="48.00" rx="3.78" fill="#000" opacity="0.26" filter="url(#b2)"/>
</g>
<rect x="40.40" y="573.00" width="56.30" height="42.80" fill="none" stroke="#111" stroke-width="1.2" />
<line x1="97.20" y1="575.60" x2="99.20" y2="575.60" stroke="#333" stroke-width="0.7" />
<text x="101.00" y="578.40" font-size="7.4" fill="#333">180</text>
<line x1="97.20" y1="582.40" x2="99.20" y2="582.40" stroke="#333" stroke-width="0.7" />
<text x="101.00" y="585.20" font-size="7.4" fill="#333">130</text>
<line x1="97.20" y1="592.40" x2="99.20" y2="592.40" stroke="#333" stroke-width="0.7" />
<text x="101.00" y="595.20" font-size="7.4" fill="#333">100</text>
<line x1="97.20" y1="602.40" x2="99.20" y2="602.40" stroke="#333" stroke-width="0.7" />
<text x="101.00" y="605.20" font-size="7.4" fill="#333">70</text>
<line x1="97.20" y1="611.60" x2="99.20" y2="611.60" stroke="#333" stroke-width="0.7" />
<text x="101.00" y="614.40" font-size="7.4" fill="#333">55</text>
<text x="18.40" y="591.40" font-size="8.6" text-anchor="middle">O-GlcNAc</text>
<text x="18.40" y="601.20" font-size="8.6" text-anchor="middle">(RL2)</text>
<clipPath id="cl2"><rect x="40.40" y="620.60" width="56.30" height="15.00"/></clipPath>
<g clip-path="url(#cl2)">
<rect x="40.40" y="620.60" width="56.30" height="15.00" fill="#dcdcdc" />
<rect x="41.23" y="627.00" width="9.60" height="2.80" rx="1.26" fill="#000" opacity="0.9" filter="url(#b07)"/>
<rect x="51.99" y="627.10" width="10.60" height="5.00" rx="2.25" fill="#000" opacity="1.0" filter="url(#b07)"/>
<rect x="64.35" y="629.40" width="8.40" height="2.40" rx="1.08" fill="#000" opacity="0.62" filter="url(#b07)"/>
<rect x="75.61" y="629.90" width="8.40" height="2.20" rx="0.99" fill="#000" opacity="0.32" filter="url(#b07)"/>
<rect x="86.67" y="629.40" width="8.80" height="2.40" rx="1.08" fill="#000" opacity="0.45" filter="url(#b07)"/>
</g>
<rect x="40.40" y="620.60" width="56.30" height="15.00" fill="none" stroke="#111" stroke-width="1.2" />
<clipPath id="cl3"><rect x="40.40" y="639.60" width="56.30" height="14.80"/></clipPath>
<g clip-path="url(#cl3)">
<rect x="40.40" y="639.60" width="56.30" height="14.80" fill="#e4e4e4" />
<rect x="40.73" y="644.30" width="10.60" height="4.60" rx="2.07" fill="#000" opacity="1.0" filter="url(#b07)"/>
<rect x="52.09" y="645.10" width="10.40" height="4.20" rx="1.89" fill="#000" opacity="1.0" filter="url(#b07)"/>
<rect x="63.35" y="645.60" width="10.40" height="4.40" rx="1.98" fill="#000" opacity="1.0" filter="url(#b07)"/>
<rect x="74.61" y="645.80" width="10.40" height="4.40" rx="1.98" fill="#000" opacity="1.0" filter="url(#b07)"/>
<rect x="86.07" y="645.90" width="10.00" height="3.40" rx="1.53" fill="#000" opacity="0.95" filter="url(#b07)"/>
</g>
<rect x="40.40" y="639.60" width="56.30" height="14.80" fill="none" stroke="#111" stroke-width="1.2" />
<clipPath id="cl4"><rect x="40.40" y="659.00" width="56.30" height="15.20"/></clipPath>
<g clip-path="url(#cl4)">
<rect x="40.40" y="659.00" width="56.30" height="15.20" fill="#e2e2e2" />
<rect x="41.03" y="664.80" width="10.00" height="2.80" rx="1.26" fill="#000" opacity="0.95" filter="url(#b07)"/>
<rect x="53.29" y="666.20" width="8.00" height="2.00" rx="0.90" fill="#000" opacity="0.3" filter="url(#b07)"/>
<rect x="63.35" y="665.20" width="10.40" height="4.00" rx="1.80" fill="#000" opacity="1.0" filter="url(#b07)"/>
<rect x="76.01" y="666.20" width="7.60" height="2.00" rx="0.90" fill="#000" opacity="0.26" filter="url(#b07)"/>
<rect x="86.87" y="666.20" width="8.40" height="2.00" rx="0.90" fill="#000" opacity="0.32" filter="url(#b07)"/>
</g>
<rect x="40.40" y="659.00" width="56.30" height="15.20" fill="none" stroke="#111" stroke-width="1.2" />
<clipPath id="cl5"><rect x="40.40" y="678.40" width="56.30" height="15.20"/></clipPath>
<g clip-path="url(#cl5)">
<rect x="40.40" y="678.40" width="56.30" height="15.20" fill="#e6e6e6" />
<rect x="40.63" y="681.90" width="10.80" height="4.60" rx="2.07" fill="#000" opacity="1.0" filter="url(#b07)"/>
<rect x="51.99" y="683.10" width="10.60" height="4.20" rx="1.89" fill="#000" opacity="1.0" filter="url(#b07)"/>
<rect x="63.25" y="683.50" width="10.60" height="4.20" rx="1.89" fill="#000" opacity="1.0" filter="url(#b07)"/>
<rect x="74.51" y="683.90" width="10.60" height="4.20" rx="1.89" fill="#000" opacity="1.0" filter="url(#b07)"/>
<rect x="85.87" y="684.10" width="10.40" height="3.80" rx="1.71" fill="#000" opacity="1.0" filter="url(#b07)"/>
</g>
<rect x="40.40" y="678.40" width="56.30" height="15.20" fill="none" stroke="#111" stroke-width="1.2" />
<text x="32.20" y="632.00" font-size="8.6" text-anchor="end">OGT</text>
<text x="33.00" y="650.40" font-size="8.6" text-anchor="end">Tubulin</text>
<text x="32.60" y="670.00" font-size="8.6" text-anchor="end">OGA</text>
<text x="33.00" y="689.00" font-size="8.6" text-anchor="end">Tubulin</text>
<line x1="97.20" y1="630.40" x2="99.20" y2="630.40" stroke="#333" stroke-width="0.7" />
<text x="100.20" y="633.20" font-size="7.4" fill="#333">100</text>
<line x1="97.20" y1="647.60" x2="99.20" y2="647.60" stroke="#333" stroke-width="0.7" />
<text x="100.60" y="650.40" font-size="7.4" fill="#333">55</text>
<line x1="97.20" y1="668.00" x2="99.20" y2="668.00" stroke="#333" stroke-width="0.7" />
<text x="100.20" y="670.80" font-size="7.4" fill="#333">130</text>
<line x1="97.20" y1="684.80" x2="99.20" y2="684.80" stroke="#333" stroke-width="0.7" />
<text x="100.60" y="687.60" font-size="7.4" fill="#333">55</text>
<text x="355.40" y="512.80" font-size="8.35" font-weight="bold" text-anchor="middle">Δ<tspan font-style="italic">OGT</tspan>-ISS clone #11</text>
<text x="355.40" y="522.80" font-size="8.35" font-weight="bold" text-anchor="middle">HCT116 cells</text>
<text x="336.10" y="573.40" font-size="7.15" transform="rotate(-57.5 336.10 573.40)" fill="#333">DMSO</text>
<text x="347.50" y="573.40" font-size="7.15" transform="rotate(-57.5 347.50 573.40)" fill="#333">10 µM OSMI-4b</text>
<text x="358.90" y="573.40" font-size="7.15" transform="rotate(-57.5 358.90 573.40)" fill="#333">1 µM TMG</text>
<text x="370.30" y="573.40" font-size="7.15" transform="rotate(-57.5 370.30 573.40)" fill="#333">50 µM GSK690693</text>
<text x="381.70" y="573.40" font-size="7.15" transform="rotate(-57.5 381.70 573.40)" fill="#333">50 µM Y-33075</text>
<text x="393.40" y="572.20" font-size="7.2" fill="#333">MW (kDa)</text>
<clipPath id="cl6"><rect x="327.40" y="578.00" width="56.50" height="42.80"/></clipPath>
<g clip-path="url(#cl6)">
<rect x="327.40" y="578.00" width="56.50" height="42.80" fill="#ececec" />
<rect x="339.30" y="576.00" width="10.10" height="46.80" fill="#ffffff" filter="url(#b2)"/>
<rect x="328.15" y="612.20" width="9.80" height="4.00" rx="1.80" fill="#000" opacity="0.92" filter="url(#b07)"/>
<rect x="328.65" y="599.30" width="8.80" height="3.00" rx="1.35" fill="#000" opacity="0.34" filter="url(#b15)"/>
<rect x="328.65" y="591.80" width="8.80" height="3.20" rx="1.44" fill="#000" opacity="0.08" filter="url(#b15)"/>
<rect x="328.65" y="579.60" width="8.80" height="4.80" rx="2.16" fill="#000" opacity="0.12" filter="url(#b15)"/>
<rect x="328.65" y="576.00" width="8.80" height="48.00" rx="3.96" fill="#000" opacity="0.1" filter="url(#b2)"/>
<rect x="340.95" y="614.10" width="6.80" height="2.60" rx="1.17" fill="#000" opacity="0.1" filter="url(#b15)"/>
<rect x="351.75" y="574.00" width="7.80" height="52.00" rx="3.51" fill="#000" opacity="0.9" filter="url(#b07)"/>
<rect x="350.25" y="577.40" width="10.80" height="6.00" rx="2.70" fill="#000" opacity="1.0" filter="url(#b1)"/>
<rect x="350.45" y="589.50" width="10.40" height="14.00" rx="4.68" fill="#000" opacity="1.0" filter="url(#b1)"/>
<rect x="349.45" y="596.80" width="12.40" height="7.20" rx="3.24" fill="#000" opacity="1.0" filter="url(#b1)"/>
<rect x="349.45" y="609.40" width="12.40" height="8.40" rx="3.78" fill="#000" opacity="1.0" filter="url(#b1)"/>
<rect x="350.85" y="585.90" width="9.60" height="3.20" rx="1.44" fill="#000" opacity="0.5" filter="url(#b1)"/>
<rect x="350.05" y="574.00" width="11.20" height="52.00" rx="5.04" fill="#000" opacity="0.22" filter="url(#b15)"/>
<rect x="361.85" y="611.30" width="10.20" height="4.60" rx="2.07" fill="#000" opacity="0.95" filter="url(#b07)"/>
<rect x="361.85" y="597.80" width="10.20" height="4.00" rx="1.80" fill="#000" opacity="0.92" filter="url(#b07)"/>
<rect x="362.55" y="590.60" width="8.80" height="3.60" rx="1.62" fill="#000" opacity="0.2" filter="url(#b15)"/>
<rect x="362.55" y="579.00" width="8.80" height="5.20" rx="2.34" fill="#000" opacity="0.22" filter="url(#b15)"/>
<rect x="362.75" y="574.00" width="8.40" height="48.00" rx="3.78" fill="#000" opacity="0.1" filter="url(#b2)"/>
<rect x="373.15" y="610.80" width="10.20" height="4.00" rx="1.80" fill="#000" opacity="0.92" filter="url(#b07)"/>
<rect x="373.35" y="597.80" width="9.80" height="3.20" rx="1.44" fill="#000" opacity="0.8" filter="url(#b07)"/>
<rect x="373.85" y="591.00" width="8.80" height="2.80" rx="1.26" fill="#000" opacity="0.1" filter="url(#b15)"/>
<rect x="373.85" y="579.00" width="8.80" height="5.20" rx="2.34" fill="#000" opacity="0.14" filter="url(#b15)"/>
<rect x="374.05" y="574.00" width="8.40" height="48.00" rx="3.78" fill="#000" opacity="0.08" filter="url(#b2)"/>
</g>
<rect x="327.40" y="578.00" width="56.50" height="42.80" fill="none" stroke="#111" stroke-width="1.2" />
<line x1="384.00" y1="580.40" x2="386.00" y2="580.40" stroke="#333" stroke-width="0.7" />
<text x="388.40" y="583.20" font-size="7.4" fill="#333">180</text>
<line x1="384.00" y1="587.40" x2="386.00" y2="587.40" stroke="#333" stroke-width="0.7" />
<text x="388.40" y="590.20" font-size="7.4" fill="#333">130</text>
<line x1="384.00" y1="597.00" x2="386.00" y2="597.00" stroke="#333" stroke-width="0.7" />
<text x="388.40" y="599.80" font-size="7.4" fill="#333">100</text>
<line x1="384.00" y1="606.60" x2="386.00" y2="606.60" stroke="#333" stroke-width="0.7" />
<text x="388.40" y="609.40" font-size="7.4" fill="#333">70</text>
<line x1="384.00" y1="616.40" x2="386.00" y2="616.40" stroke="#333" stroke-width="0.7" />
<text x="388.40" y="619.20" font-size="7.4" fill="#333">55</text>
<text x="306.60" y="596.20" font-size="8.4" text-anchor="middle">O-GlcNAc</text>
<text x="307.00" y="606.00" font-size="8.6" text-anchor="middle">(RL2)</text>
<clipPath id="cl7"><rect x="327.40" y="625.40" width="56.50" height="15.00"/></clipPath>
<g clip-path="url(#cl7)">
<rect x="327.40" y="625.40" width="56.50" height="15.00" fill="#d2d2d2" />
<rect x="327.85" y="631.30" width="10.40" height="3.80" rx="1.71" fill="#000" opacity="1.0" filter="url(#b07)"/>
<rect x="339.05" y="631.90" width="10.60" height="4.20" rx="1.89" fill="#000" opacity="1.0" filter="url(#b07)"/>
<rect x="350.65" y="632.70" width="10.00" height="3.80" rx="1.71" fill="#000" opacity="1.0" filter="url(#b07)"/>
<rect x="363.15" y="634.20" width="7.60" height="2.00" rx="0.90" fill="#000" opacity="0.32" filter="url(#b07)"/>
<rect x="373.65" y="632.90" width="9.20" height="2.60" rx="1.17" fill="#000" opacity="0.58" filter="url(#b07)"/>
</g>
<rect x="327.40" y="625.40" width="56.50" height="15.00" fill="none" stroke="#111" stroke-width="1.2" />
<clipPath id="cl8"><rect x="327.40" y="644.60" width="56.50" height="14.80"/></clipPath>
<g clip-path="url(#cl8)">
<rect x="327.40" y="644.60" width="56.50" height="14.80" fill="#e6e6e6" />
<rect x="327.75" y="648.80" width="10.60" height="4.40" rx="1.98" fill="#000" opacity="1.0" filter="url(#b07)"/>
<rect x="339.15" y="650.10" width="10.40" height="4.20" rx="1.89" fill="#000" opacity="1.0" filter="url(#b07)"/>
<rect x="350.35" y="650.80" width="10.60" height="4.40" rx="1.98" fill="#000" opacity="1.0" filter="url(#b07)"/>
<rect x="361.65" y="651.00" width="10.60" height="4.40" rx="1.98" fill="#000" opacity="1.0" filter="url(#b07)"/>
<rect x="372.95" y="650.80" width="10.60" height="4.40" rx="1.98" fill="#000" opacity="1.0" filter="url(#b07)"/>
</g>
<rect x="327.40" y="644.60" width="56.50" height="14.80" fill="none" stroke="#111" stroke-width="1.2" />
<clipPath id="cl9"><rect x="327.40" y="664.00" width="56.50" height="15.00"/></clipPath>
<g clip-path="url(#cl9)">
<rect x="327.40" y="664.00" width="56.50" height="15.00" fill="#e4e4e4" />
<rect x="328.05" y="668.90" width="10.00" height="3.00" rx="1.35" fill="#000" opacity="0.97" filter="url(#b07)"/>
<rect x="340.35" y="671.00" width="8.00" height="2.00" rx="0.90" fill="#000" opacity="0.38" filter="url(#b07)"/>
<rect x="350.35" y="669.70" width="10.60" height="4.20" rx="1.89" fill="#000" opacity="1.0" filter="url(#b07)"/>
<rect x="363.35" y="671.30" width="7.20" height="1.80" rx="0.81" fill="#000" opacity="0.28" filter="url(#b07)"/>
<rect x="373.85" y="671.10" width="8.80" height="2.20" rx="0.99" fill="#000" opacity="0.48" filter="url(#b07)"/>
</g>
<rect x="327.40" y="664.00" width="56.50" height="15.00" fill="none" stroke="#111" stroke-width="1.2" />
<clipPath id="cl10"><rect x="327.40" y="683.40" width="56.50" height="15.00"/></clipPath>
<g clip-path="url(#cl10)">
<rect x="327.40" y="683.40" width="56.50" height="15.00" fill="#e8e8e8" />
<rect x="327.75" y="687.40" width="10.60" height="4.40" rx="1.98" fill="#000" opacity="1.0" filter="url(#b07)"/>
<rect x="339.15" y="688.30" width="10.40" height="4.20" rx="1.89" fill="#000" opacity="1.0" filter="url(#b07)"/>
<rect x="350.45" y="688.70" width="10.40" height="4.20" rx="1.89" fill="#000" opacity="1.0" filter="url(#b07)"/>
<rect x="361.65" y="688.90" width="10.60" height="4.60" rx="2.07" fill="#000" opacity="1.0" filter="url(#b07)"/>
<rect x="372.95" y="689.10" width="10.60" height="4.60" rx="2.07" fill="#000" opacity="1.0" filter="url(#b07)"/>
</g>
<rect x="327.40" y="683.40" width="56.50" height="15.00" fill="none" stroke="#111" stroke-width="1.2" />
<text x="322.20" y="636.60" font-size="8.6" text-anchor="end">OGT</text>
<text x="322.60" y="655.20" font-size="8.6" text-anchor="end">Tubulin</text>
<text x="322.20" y="674.00" font-size="8.6" text-anchor="end">OGA</text>
<text x="322.60" y="694.00" font-size="8.6" text-anchor="end">Tubulin</text>
<line x1="384.20" y1="635.40" x2="386.20" y2="635.40" stroke="#333" stroke-width="0.7" />
<text x="387.40" y="638.20" font-size="7.4" fill="#333">100</text>
<line x1="384.20" y1="652.60" x2="386.20" y2="652.60" stroke="#333" stroke-width="0.7" />
<text x="388.00" y="655.40" font-size="7.4" fill="#333">55</text>
<line x1="384.20" y1="673.00" x2="386.20" y2="673.00" stroke="#333" stroke-width="0.7" />
<text x="387.40" y="675.80" font-size="7.4" fill="#333">130</text>
<line x1="384.20" y1="689.60" x2="386.20" y2="689.60" stroke="#333" stroke-width="0.7" />
<text x="388.00" y="692.40" font-size="7.4" fill="#333">55</text>
<line x1="214.60" y1="553.96" x2="248.05" y2="553.96" stroke="#111111" stroke-width="1.65" stroke-dasharray="1.65 3.65"/>
<rect x="192.75" y="555.21" width="5.70" height="20.69" fill="#fff" stroke="#000" stroke-width="2.5" />
<circle cx="193.70" cy="554.16" r="2.35" fill="#000"/>
<circle cx="195.60" cy="553.96" r="2.35" fill="#000"/>
<circle cx="197.50" cy="554.16" r="2.35" fill="#000"/>
<path d="M202.95 576.60 V535.38 Q202.95 533.58 204.75 533.58 H209.85 Q211.65 533.58 211.65 535.38 V576.60 Z" fill="#D5622B"/>
<rect x="205.75" y="536.78" width="3.10" height="39.82" fill="#F2B78F" />
<line x1="207.30" y1="526.98" x2="207.30" y2="533.58" stroke="#D5622B" stroke-width="1.1" />
<circle cx="207.30" cy="526.58" r="2.35" fill="#D5622B"/>
<path d="M214.65 576.60 V569.80 Q214.65 568.00 216.45 568.00 H221.55 Q223.35 568.00 223.35 569.80 V576.60 Z" fill="#0B72B7"/>
<rect x="217.45" y="571.20" width="3.10" height="5.40" fill="#86BBDD" />
<circle cx="217.80" cy="568.60" r="2.35" fill="#0B72B7"/>
<circle cx="219.20" cy="566.80" r="2.35" fill="#0B72B7"/>
<circle cx="220.60" cy="569.00" r="2.35" fill="#0B72B7"/>
<path d="M226.35 576.60 V571.83 Q226.35 570.03 228.15 570.03 H233.25 Q235.05 570.03 235.05 571.83 V576.60 Z" fill="#179E73"/>
<rect x="229.15" y="573.23" width="3.10" height="3.37" fill="#83D0B4" />
<circle cx="229.10" cy="570.83" r="2.35" fill="#179E73"/>
<circle cx="230.70" cy="569.63" r="2.35" fill="#179E73"/>
<circle cx="232.30" cy="570.83" r="2.35" fill="#179E73"/>
<path d="M238.05 576.60 V568.89 Q238.05 567.09 239.85 567.09 H244.95 Q246.75 567.09 246.75 568.89 V576.60 Z" fill="#E6A32C"/>
<rect x="240.85" y="570.29" width="3.10" height="6.31" fill="#F6D585" />
<circle cx="241.00" cy="568.29" r="2.35" fill="#E6A32C"/>
<circle cx="242.60" cy="565.69" r="2.35" fill="#E6A32C"/>
<circle cx="244.00" cy="568.29" r="2.35" fill="#E6A32C"/>
<line x1="190.00" y1="519.05" x2="190.00" y2="577.55" stroke="#111111" stroke-width="1.9" />
<line x1="183.40" y1="576.60" x2="190.00" y2="576.60" stroke="#111111" stroke-width="1.85" />
<text x="180.80" y="579.50" font-size="8.35" font-weight="bold" text-anchor="end" fill="#000">0.0</text>
<line x1="186.40" y1="570.94" x2="190.00" y2="570.94" stroke="#111111" stroke-width="1.7" />
<line x1="183.40" y1="565.28" x2="190.00" y2="565.28" stroke="#111111" stroke-width="1.85" />
<text x="180.80" y="568.18" font-size="8.35" font-weight="bold" text-anchor="end" fill="#000">0.5</text>
<line x1="186.40" y1="559.62" x2="190.00" y2="559.62" stroke="#111111" stroke-width="1.7" />
<line x1="183.40" y1="553.96" x2="190.00" y2="553.96" stroke="#111111" stroke-width="1.85" />
<text x="180.80" y="556.86" font-size="8.35" font-weight="bold" text-anchor="end" fill="#000">1.0</text>
<line x1="186.40" y1="548.30" x2="190.00" y2="548.30" stroke="#111111" stroke-width="1.7" />
<line x1="183.40" y1="542.64" x2="190.00" y2="542.64" stroke="#111111" stroke-width="1.85" />
<text x="180.80" y="545.54" font-size="8.35" font-weight="bold" text-anchor="end" fill="#000">1.5</text>
<line x1="186.40" y1="536.98" x2="190.00" y2="536.98" stroke="#111111" stroke-width="1.7" />
<line x1="183.40" y1="531.32" x2="190.00" y2="531.32" stroke="#111111" stroke-width="1.85" />
<text x="180.80" y="534.22" font-size="8.35" font-weight="bold" text-anchor="end" fill="#000">2.0</text>
<line x1="186.40" y1="525.66" x2="190.00" y2="525.66" stroke="#111111" stroke-width="1.7" />
<line x1="183.40" y1="520.00" x2="190.00" y2="520.00" stroke="#111111" stroke-width="1.85" />
<text x="180.80" y="522.90" font-size="8.35" font-weight="bold" text-anchor="end" fill="#000">2.5</text>
<line x1="183.40" y1="576.60" x2="250.20" y2="576.60" stroke="#111111" stroke-width="1.9" />
<line x1="195.60" y1="576.60" x2="195.60" y2="583.20" stroke="#111111" stroke-width="1.85" />
<line x1="207.30" y1="576.60" x2="207.30" y2="583.20" stroke="#111111" stroke-width="1.85" />
<line x1="219.00" y1="576.60" x2="219.00" y2="583.20" stroke="#111111" stroke-width="1.85" />
<line x1="230.70" y1="576.60" x2="230.70" y2="583.20" stroke="#111111" stroke-width="1.85" />
<line x1="242.40" y1="576.60" x2="242.40" y2="583.20" stroke="#111111" stroke-width="1.85" />
<text x="195.60" y="491.60" font-size="7.0" fill="#333">0.0006</text>
<line x1="195.60" y1="493.60" x2="241.90" y2="493.60" stroke="#222" stroke-width="1.15" />
<text x="195.60" y="500.00" font-size="7.0" fill="#333">0.0001</text>
<line x1="195.60" y1="502.00" x2="230.20" y2="502.00" stroke="#222" stroke-width="1.15" />
<text x="195.60" y="508.40" font-size="7.0" fill="#333">0.0005</text>
<line x1="195.60" y1="510.40" x2="218.50" y2="510.40" stroke="#222" stroke-width="1.15" />
<text x="195.60" y="517.00" font-size="7.0" fill="#333">3.2e-05</text>
<line x1="195.60" y1="519.00" x2="206.80" y2="519.00" stroke="#222" stroke-width="1.15" />
<text x="153.80" y="549.50" font-size="8.35" font-weight="bold" text-anchor="middle" transform="rotate(-90 153.80 549.50)">OGT</text>
<text x="164.20" y="549.50" font-size="8.35" font-weight="bold" text-anchor="middle" transform="rotate(-90 164.20 549.50)">(normalized)</text>
<line x1="202.80" y1="639.60" x2="248.05" y2="639.60" stroke="#111111" stroke-width="1.65" stroke-dasharray="1.65 3.65"/>
<rect x="192.75" y="640.85" width="5.70" height="26.45" fill="#fff" stroke="#000" stroke-width="2.5" />
<circle cx="193.70" cy="639.80" r="2.35" fill="#000"/>
<circle cx="195.60" cy="639.60" r="2.35" fill="#000"/>
<circle cx="197.50" cy="639.80" r="2.35" fill="#000"/>
<path d="M202.95 668.00 V659.86 Q202.95 658.06 204.75 658.06 H209.85 Q211.65 658.06 211.65 659.86 V668.00 Z" fill="#D5622B"/>
<rect x="205.75" y="661.26" width="3.10" height="6.74" fill="#F2B78F" />
<circle cx="206.10" cy="658.86" r="2.35" fill="#D5622B"/>
<circle cx="207.50" cy="656.46" r="2.35" fill="#D5622B"/>
<circle cx="208.90" cy="659.06" r="2.35" fill="#D5622B"/>
<path d="M214.65 668.00 V632.03 Q214.65 630.23 216.45 630.23 H221.55 Q223.35 630.23 223.35 632.03 V668.00 Z" fill="#0B72B7"/>
<rect x="217.45" y="633.43" width="3.10" height="34.57" fill="#86BBDD" />
<line x1="219.00" y1="626.23" x2="219.00" y2="630.23" stroke="#0B72B7" stroke-width="1.1" />
<circle cx="219.20" cy="625.43" r="2.35" fill="#0B72B7"/>
<circle cx="218.00" cy="633.23" r="2.35" fill="#0B72B7"/>
<circle cx="220.60" cy="631.23" r="2.35" fill="#0B72B7"/>
<path d="M226.35 668.00 V655.03 Q226.35 653.23 228.15 653.23 H233.25 Q235.05 653.23 235.05 655.03 V668.00 Z" fill="#179E73"/>
<rect x="229.15" y="656.43" width="3.10" height="11.57" fill="#83D0B4" />
<circle cx="229.30" cy="652.63" r="2.35" fill="#179E73"/>
<circle cx="231.30" cy="653.23" r="2.35" fill="#179E73"/>
<circle cx="232.50" cy="653.83" r="2.35" fill="#179E73"/>
<path d="M238.05 668.00 V653.90 Q238.05 652.10 239.85 652.10 H244.95 Q246.75 652.10 246.75 653.90 V668.00 Z" fill="#E6A32C"/>
<rect x="240.85" y="655.30" width="3.10" height="12.70" fill="#F6D585" />
<circle cx="241.20" cy="653.10" r="2.35" fill="#E6A32C"/>
<circle cx="243.00" cy="651.50" r="2.35" fill="#E6A32C"/>
<circle cx="244.20" cy="652.50" r="2.35" fill="#E6A32C"/>
<line x1="190.00" y1="610.25" x2="190.00" y2="668.95" stroke="#111111" stroke-width="1.9" />
<line x1="183.40" y1="668.00" x2="190.00" y2="668.00" stroke="#111111" stroke-width="1.85" />
<text x="180.80" y="670.90" font-size="8.35" font-weight="bold" text-anchor="end" fill="#000">0.0</text>
<line x1="186.40" y1="660.90" x2="190.00" y2="660.90" stroke="#111111" stroke-width="1.7" />
<line x1="183.40" y1="653.80" x2="190.00" y2="653.80" stroke="#111111" stroke-width="1.85" />
<text x="180.80" y="656.70" font-size="8.35" font-weight="bold" text-anchor="end" fill="#000">0.5</text>
<line x1="186.40" y1="646.70" x2="190.00" y2="646.70" stroke="#111111" stroke-width="1.7" />
<line x1="183.40" y1="639.60" x2="190.00" y2="639.60" stroke="#111111" stroke-width="1.85" />
<text x="180.80" y="642.50" font-size="8.35" font-weight="bold" text-anchor="end" fill="#000">1.0</text>
<line x1="186.40" y1="632.50" x2="190.00" y2="632.50" stroke="#111111" stroke-width="1.7" />
<line x1="183.40" y1="625.40" x2="190.00" y2="625.40" stroke="#111111" stroke-width="1.85" />
<text x="180.80" y="628.30" font-size="8.35" font-weight="bold" text-anchor="end" fill="#000">1.5</text>
<line x1="186.40" y1="618.30" x2="190.00" y2="618.30" stroke="#111111" stroke-width="1.7" />
<line x1="183.40" y1="611.20" x2="190.00" y2="611.20" stroke="#111111" stroke-width="1.85" />
<text x="180.80" y="614.10" font-size="8.35" font-weight="bold" text-anchor="end" fill="#000">2.0</text>
<line x1="183.40" y1="668.00" x2="250.20" y2="668.00" stroke="#111111" stroke-width="1.9" />
<line x1="195.60" y1="668.00" x2="195.60" y2="674.60" stroke="#111111" stroke-width="1.85" />
<line x1="207.30" y1="668.00" x2="207.30" y2="674.60" stroke="#111111" stroke-width="1.85" />
<line x1="219.00" y1="668.00" x2="219.00" y2="674.60" stroke="#111111" stroke-width="1.85" />
<line x1="230.70" y1="668.00" x2="230.70" y2="674.60" stroke="#111111" stroke-width="1.85" />
<line x1="242.40" y1="668.00" x2="242.40" y2="674.60" stroke="#111111" stroke-width="1.85" />
<text x="193.00" y="590.30" font-size="7.0" fill="#333">0.0004</text>
<line x1="193.00" y1="592.30" x2="239.30" y2="592.30" stroke="#222" stroke-width="1.15" />
<text x="193.00" y="599.00" font-size="7.0" fill="#333">0.0001</text>
<line x1="193.00" y1="600.80" x2="227.60" y2="600.80" stroke="#222" stroke-width="1.15" />
<text x="193.00" y="607.20" font-size="7.0" fill="#333">0.0041</text>
<line x1="193.00" y1="609.00" x2="215.90" y2="609.00" stroke="#222" stroke-width="1.15" />
<text x="193.00" y="615.80" font-size="7.0" fill="#333">1.6e-05</text>
<line x1="193.00" y1="617.60" x2="204.20" y2="617.60" stroke="#222" stroke-width="1.15" />
<text x="153.80" y="640.80" font-size="8.35" font-weight="bold" text-anchor="middle" transform="rotate(-90 153.80 640.80)">OGA</text>
<text x="164.20" y="640.80" font-size="8.35" font-weight="bold" text-anchor="middle" transform="rotate(-90 164.20 640.80)">(normalized)</text>
<text x="196.90" y="683.20" font-size="8.3" font-weight="bold" text-anchor="end" transform="rotate(-45 196.90 683.20)" fill="#000">DMSO</text>
<text x="208.60" y="683.20" font-size="8.3" font-weight="bold" text-anchor="end" transform="rotate(-45 208.60 683.20)" fill="#000">10 µM OSMI-4b</text>
<text x="220.30" y="683.20" font-size="8.3" font-weight="bold" text-anchor="end" transform="rotate(-45 220.30 683.20)" fill="#000">1 µM TMG</text>
<text x="232.00" y="683.20" font-size="8.3" font-weight="bold" text-anchor="end" transform="rotate(-45 232.00 683.20)" fill="#000">50 µM GSK690693</text>
<text x="243.70" y="683.20" font-size="8.3" font-weight="bold" text-anchor="end" transform="rotate(-45 243.70 683.20)" fill="#000">50 µM Y-33075</text>
<line x1="514.20" y1="553.96" x2="536.85" y2="553.96" stroke="#111111" stroke-width="1.65" stroke-dasharray="1.65 3.65"/>
<rect x="480.30" y="553.96" width="8.20" height="22.64" fill="#000" />
<line x1="484.40" y1="558.46" x2="484.40" y2="575.60" stroke="#fff" stroke-width="0.55" opacity="0.8"/>
<line x1="484.40" y1="558.96" x2="484.40" y2="575.60" stroke="#fff" stroke-width="3.4" stroke-dasharray="0.55 2.15" opacity="0.8"/>
<circle cx="482.50" cy="554.16" r="2.35" fill="#000"/>
<circle cx="484.40" cy="553.96" r="2.35" fill="#000"/>
<circle cx="486.30" cy="554.16" r="2.35" fill="#000"/>
<path d="M491.75 576.60 V547.84 Q491.75 546.04 493.55 546.04 H498.65 Q500.45 546.04 500.45 547.84 V576.60 Z" fill="#D5622B"/>
<rect x="494.55" y="549.24" width="3.10" height="27.36" fill="#F2B78F" />
<circle cx="494.70" cy="546.64" r="2.35" fill="#D5622B"/>
<circle cx="496.30" cy="545.44" r="2.35" fill="#D5622B"/>
<circle cx="497.70" cy="546.64" r="2.35" fill="#D5622B"/>
<path d="M503.45 576.60 V553.72 Q503.45 551.92 505.25 551.92 H510.35 Q512.15 551.92 512.15 553.72 V576.60 Z" fill="#0B72B7"/>
<rect x="506.25" y="555.12" width="3.10" height="21.48" fill="#86BBDD" />
<circle cx="506.40" cy="553.32" r="2.35" fill="#0B72B7"/>
<circle cx="508.20" cy="551.12" r="2.35" fill="#0B72B7"/>
<circle cx="509.40" cy="552.32" r="2.35" fill="#0B72B7"/>
<path d="M515.15 576.60 V570.70 Q515.15 568.90 516.95 568.90 H522.05 Q523.85 568.90 523.85 570.70 V576.60 Z" fill="#179E73"/>
<rect x="517.95" y="572.10" width="3.10" height="4.50" fill="#83D0B4" />
<circle cx="518.10" cy="569.70" r="2.35" fill="#179E73"/>
<circle cx="519.70" cy="568.30" r="2.35" fill="#179E73"/>
<circle cx="521.10" cy="569.70" r="2.35" fill="#179E73"/>
<path d="M526.85 576.60 V567.76 Q526.85 565.96 528.65 565.96 H533.75 Q535.55 565.96 535.55 567.76 V576.60 Z" fill="#E6A32C"/>
<rect x="529.65" y="569.16" width="3.10" height="7.44" fill="#F6D585" />
<circle cx="529.80" cy="566.76" r="2.35" fill="#E6A32C"/>
<circle cx="531.40" cy="565.36" r="2.35" fill="#E6A32C"/>
<circle cx="532.80" cy="566.76" r="2.35" fill="#E6A32C"/>
<line x1="478.40" y1="519.05" x2="478.40" y2="577.55" stroke="#111111" stroke-width="1.9" />
<line x1="471.80" y1="576.60" x2="478.40" y2="576.60" stroke="#111111" stroke-width="1.85" />
<text x="469.20" y="579.50" font-size="8.35" font-weight="bold" text-anchor="end" fill="#000">0.0</text>
<line x1="474.80" y1="570.94" x2="478.40" y2="570.94" stroke="#111111" stroke-width="1.7" />
<line x1="471.80" y1="565.28" x2="478.40" y2="565.28" stroke="#111111" stroke-width="1.85" />
<text x="469.20" y="568.18" font-size="8.35" font-weight="bold" text-anchor="end" fill="#000">0.5</text>
<line x1="474.80" y1="559.62" x2="478.40" y2="559.62" stroke="#111111" stroke-width="1.7" />
<line x1="471.80" y1="553.96" x2="478.40" y2="553.96" stroke="#111111" stroke-width="1.85" />
<text x="469.20" y="556.86" font-size="8.35" font-weight="bold" text-anchor="end" fill="#000">1.0</text>
<line x1="474.80" y1="548.30" x2="478.40" y2="548.30" stroke="#111111" stroke-width="1.7" />
<line x1="471.80" y1="542.64" x2="478.40" y2="542.64" stroke="#111111" stroke-width="1.85" />
<text x="469.20" y="545.54" font-size="8.35" font-weight="bold" text-anchor="end" fill="#000">1.5</text>
<line x1="474.80" y1="536.98" x2="478.40" y2="536.98" stroke="#111111" stroke-width="1.7" />
<line x1="471.80" y1="531.32" x2="478.40" y2="531.32" stroke="#111111" stroke-width="1.85" />
<text x="469.20" y="534.22" font-size="8.35" font-weight="bold" text-anchor="end" fill="#000">2.0</text>
<line x1="474.80" y1="525.66" x2="478.40" y2="525.66" stroke="#111111" stroke-width="1.7" />
<line x1="471.80" y1="520.00" x2="478.40" y2="520.00" stroke="#111111" stroke-width="1.85" />
<text x="469.20" y="522.90" font-size="8.35" font-weight="bold" text-anchor="end" fill="#000">2.5</text>
<line x1="471.80" y1="576.60" x2="538.40" y2="576.60" stroke="#111111" stroke-width="1.9" />
<line x1="484.40" y1="576.60" x2="484.40" y2="583.20" stroke="#111111" stroke-width="1.85" />
<line x1="496.10" y1="576.60" x2="496.10" y2="583.20" stroke="#111111" stroke-width="1.85" />
<line x1="507.80" y1="576.60" x2="507.80" y2="583.20" stroke="#111111" stroke-width="1.85" />
<line x1="519.50" y1="576.60" x2="519.50" y2="583.20" stroke="#111111" stroke-width="1.85" />
<line x1="531.20" y1="576.60" x2="531.20" y2="583.20" stroke="#111111" stroke-width="1.85" />
<text x="483.00" y="491.60" font-size="7.0" fill="#333">2.0e-08</text>
<line x1="483.00" y1="493.60" x2="529.30" y2="493.60" stroke="#222" stroke-width="1.15" />
<text x="483.00" y="500.00" font-size="7.0" fill="#333">1.9e-09</text>
<line x1="483.00" y1="502.00" x2="517.60" y2="502.00" stroke="#222" stroke-width="1.15" />
<text x="483.00" y="508.40" font-size="7.0" fill="#333">0.0790</text>
<line x1="483.00" y1="510.40" x2="505.90" y2="510.40" stroke="#222" stroke-width="1.15" />
<text x="483.00" y="517.00" font-size="7.0" fill="#333">2.0e-06</text>
<line x1="483.00" y1="519.00" x2="494.20" y2="519.00" stroke="#222" stroke-width="1.15" />
<text x="442.60" y="549.50" font-size="8.35" font-weight="bold" text-anchor="middle" transform="rotate(-90 442.60 549.50)">OGT</text>
<text x="453.00" y="549.50" font-size="8.35" font-weight="bold" text-anchor="middle" transform="rotate(-90 453.00 549.50)">(normalized)</text>
<line x1="491.60" y1="639.60" x2="536.85" y2="639.60" stroke="#111111" stroke-width="1.65" stroke-dasharray="1.65 3.65"/>
<rect x="480.30" y="639.60" width="8.20" height="28.40" fill="#000" />
<line x1="484.40" y1="644.10" x2="484.40" y2="667.00" stroke="#fff" stroke-width="0.55" opacity="0.8"/>
<line x1="484.40" y1="644.60" x2="484.40" y2="667.00" stroke="#fff" stroke-width="3.4" stroke-dasharray="0.55 2.15" opacity="0.8"/>
<circle cx="482.50" cy="639.80" r="2.35" fill="#000"/>
<circle cx="484.40" cy="639.60" r="2.35" fill="#000"/>
<circle cx="486.30" cy="639.80" r="2.35" fill="#000"/>
<path d="M491.75 668.00 V659.86 Q491.75 658.06 493.55 658.06 H498.65 Q500.45 658.06 500.45 659.86 V668.00 Z" fill="#D5622B"/>
<rect x="494.55" y="661.26" width="3.10" height="6.74" fill="#F2B78F" />
<circle cx="494.70" cy="658.86" r="2.35" fill="#D5622B"/>
<circle cx="496.30" cy="657.66" r="2.35" fill="#D5622B"/>
<circle cx="497.70" cy="658.86" r="2.35" fill="#D5622B"/>
<path d="M503.45 668.00 V623.79 Q503.45 621.99 505.25 621.99 H510.35 Q512.15 621.99 512.15 623.79 V668.00 Z" fill="#0B72B7"/>
<rect x="506.25" y="625.19" width="3.10" height="42.81" fill="#86BBDD" />
<circle cx="506.40" cy="623.19" r="2.35" fill="#0B72B7"/>
<circle cx="508.20" cy="621.19" r="2.35" fill="#0B72B7"/>
<circle cx="509.40" cy="622.39" r="2.35" fill="#0B72B7"/>
<path d="M515.15 668.00 V657.87 Q515.15 656.07 516.95 656.07 H522.05 Q523.85 656.07 523.85 657.87 V668.00 Z" fill="#179E73"/>
<rect x="517.95" y="659.27" width="3.10" height="8.73" fill="#83D0B4" />
<circle cx="518.30" cy="657.27" r="2.35" fill="#179E73"/>
<circle cx="519.90" cy="655.07" r="2.35" fill="#179E73"/>
<circle cx="521.10" cy="657.07" r="2.35" fill="#179E73"/>
<path d="M526.85 668.00 V654.75 Q526.85 652.95 528.65 652.95 H533.75 Q535.55 652.95 535.55 654.75 V668.00 Z" fill="#E6A32C"/>
<rect x="529.65" y="656.15" width="3.10" height="11.85" fill="#F6D585" />
<circle cx="529.80" cy="653.95" r="2.35" fill="#E6A32C"/>
<circle cx="531.60" cy="652.35" r="2.35" fill="#E6A32C"/>
<circle cx="532.80" cy="653.75" r="2.35" fill="#E6A32C"/>
<line x1="478.40" y1="610.25" x2="478.40" y2="668.95" stroke="#111111" stroke-width="1.9" />
<line x1="471.80" y1="668.00" x2="478.40" y2="668.00" stroke="#111111" stroke-width="1.85" />
<text x="469.20" y="670.90" font-size="8.35" font-weight="bold" text-anchor="end" fill="#000">0.0</text>
<line x1="474.80" y1="660.90" x2="478.40" y2="660.90" stroke="#111111" stroke-width="1.7" />
<line x1="471.80" y1="653.80" x2="478.40" y2="653.80" stroke="#111111" stroke-width="1.85" />
<text x="469.20" y="656.70" font-size="8.35" font-weight="bold" text-anchor="end" fill="#000">0.5</text>
<line x1="474.80" y1="646.70" x2="478.40" y2="646.70" stroke="#111111" stroke-width="1.7" />
<line x1="471.80" y1="639.60" x2="478.40" y2="639.60" stroke="#111111" stroke-width="1.85" />
<text x="469.20" y="642.50" font-size="8.35" font-weight="bold" text-anchor="end" fill="#000">1.0</text>
<line x1="474.80" y1="632.50" x2="478.40" y2="632.50" stroke="#111111" stroke-width="1.7" />
<line x1="471.80" y1="625.40" x2="478.40" y2="625.40" stroke="#111111" stroke-width="1.85" />
<text x="469.20" y="628.30" font-size="8.35" font-weight="bold" text-anchor="end" fill="#000">1.5</text>
<line x1="474.80" y1="618.30" x2="478.40" y2="618.30" stroke="#111111" stroke-width="1.7" />
<line x1="471.80" y1="611.20" x2="478.40" y2="611.20" stroke="#111111" stroke-width="1.85" />
<text x="469.20" y="614.10" font-size="8.35" font-weight="bold" text-anchor="end" fill="#000">2.0</text>
<line x1="471.80" y1="668.00" x2="538.40" y2="668.00" stroke="#111111" stroke-width="1.9" />
<line x1="484.40" y1="668.00" x2="484.40" y2="674.60" stroke="#111111" stroke-width="1.85" />
<line x1="496.10" y1="668.00" x2="496.10" y2="674.60" stroke="#111111" stroke-width="1.85" />
<line x1="507.80" y1="668.00" x2="507.80" y2="674.60" stroke="#111111" stroke-width="1.85" />
<line x1="519.50" y1="668.00" x2="519.50" y2="674.60" stroke="#111111" stroke-width="1.85" />
<line x1="531.20" y1="668.00" x2="531.20" y2="674.60" stroke="#111111" stroke-width="1.85" />
<text x="482.60" y="590.30" font-size="7.0" fill="#333">7.8e-08</text>
<line x1="482.60" y1="592.30" x2="528.90" y2="592.30" stroke="#222" stroke-width="1.15" />
<text x="482.60" y="599.00" font-size="7.0" fill="#333">1.1e-08</text>
<line x1="482.60" y1="600.80" x2="517.20" y2="600.80" stroke="#222" stroke-width="1.15" />
<text x="482.60" y="607.20" font-size="7.0" fill="#333">1.4e-08</text>
<line x1="482.60" y1="609.00" x2="505.50" y2="609.00" stroke="#222" stroke-width="1.15" />
<text x="482.60" y="615.80" font-size="7.0" fill="#333">4.3e-09</text>
<line x1="482.60" y1="617.60" x2="493.80" y2="617.60" stroke="#222" stroke-width="1.15" />
<text x="442.60" y="640.80" font-size="8.35" font-weight="bold" text-anchor="middle" transform="rotate(-90 442.60 640.80)">OGA</text>
<text x="453.00" y="640.80" font-size="8.35" font-weight="bold" text-anchor="middle" transform="rotate(-90 453.00 640.80)">(normalized)</text>
<text x="485.70" y="683.20" font-size="8.3" font-weight="bold" text-anchor="end" transform="rotate(-45 485.70 683.20)" fill="#000">DMSO</text>
<text x="497.40" y="683.20" font-size="8.3" font-weight="bold" text-anchor="end" transform="rotate(-45 497.40 683.20)" fill="#000">10 µM OSMI-4b</text>
<text x="509.10" y="683.20" font-size="8.3" font-weight="bold" text-anchor="end" transform="rotate(-45 509.10 683.20)" fill="#000">1 µM TMG</text>
<text x="520.80" y="683.20" font-size="8.3" font-weight="bold" text-anchor="end" transform="rotate(-45 520.80 683.20)" fill="#000">50 µM GSK690693</text>
<text x="532.50" y="683.20" font-size="8.3" font-weight="bold" text-anchor="end" transform="rotate(-45 532.50 683.20)" fill="#000">50 µM Y-33075</text>
<text x="621.00" y="512.60" font-size="8.35" font-weight="bold" text-anchor="middle">Δ<tspan font-style="italic">OGT</tspan>-ISS clone #11</text>
<text x="621.00" y="523.00" font-size="8.35" font-weight="bold" text-anchor="middle">HCT116 cells</text>
<line x1="635.50" y1="567.60" x2="671.25" y2="567.60" stroke="#111111" stroke-width="1.65" stroke-dasharray="1.65 2.93"/>
<rect x="624.55" y="567.60" width="8.90" height="67.50" fill="#000" />
<line x1="629.00" y1="572.60" x2="629.00" y2="634.10" stroke="#fff" stroke-width="3.6" stroke-dasharray="0.6 1.9" opacity="0.8"/>
<circle cx="627.20" cy="567.60" r="2.35" fill="#000"/>
<circle cx="629.00" cy="567.60" r="2.35" fill="#000"/>
<circle cx="630.80" cy="567.60" r="2.35" fill="#000"/>
<path d="M633.80 635.10 V572.20 Q633.80 570.40 635.60 570.40 H640.90 Q642.70 570.40 642.70 572.20 V635.10 Z" fill="#D5622B"/>
<rect x="636.65" y="573.65" width="3.20" height="61.45" fill="#F2B78F" />
<circle cx="636.85" cy="571.00" r="2.35" fill="#D5622B"/>
<circle cx="638.45" cy="569.20" r="2.35" fill="#D5622B"/>
<circle cx="639.85" cy="571.20" r="2.35" fill="#D5622B"/>
<path d="M643.05 635.10 V569.00 Q643.05 567.20 644.85 567.20 H650.15 Q651.95 567.20 651.95 569.00 V635.10 Z" fill="#0B72B7"/>
<rect x="645.90" y="570.45" width="3.20" height="64.65" fill="#86BBDD" />
<circle cx="646.50" cy="567.80" r="2.35" fill="#0B72B7"/>
<circle cx="647.90" cy="564.00" r="2.35" fill="#0B72B7"/>
<circle cx="649.10" cy="567.80" r="2.35" fill="#0B72B7"/>
<path d="M652.30 635.10 V630.40 Q652.30 628.60 654.10 628.60 H659.40 Q661.20 628.60 661.20 630.40 V635.10 Z" fill="#179E73"/>
<rect x="655.15" y="631.85" width="3.20" height="3.25" fill="#83D0B4" />
<line x1="656.75" y1="623.60" x2="656.75" y2="628.60" stroke="#179E73" stroke-width="1.1" />
<circle cx="656.75" cy="623.00" r="2.35" fill="#179E73"/>
<circle cx="655.55" cy="630.20" r="2.35" fill="#179E73"/>
<circle cx="658.15" cy="630.20" r="2.35" fill="#179E73"/>
<path d="M661.55 635.10 V605.20 Q661.55 603.40 663.35 603.40 H668.65 Q670.45 603.40 670.45 605.20 V635.10 Z" fill="#E6A32C"/>
<rect x="664.40" y="606.65" width="3.20" height="28.45" fill="#F6D585" />
<circle cx="664.80" cy="604.60" r="2.35" fill="#E6A32C"/>
<circle cx="666.20" cy="602.00" r="2.35" fill="#E6A32C"/>
<circle cx="667.60" cy="604.40" r="2.35" fill="#E6A32C"/>
<text x="628.00" y="532.00" font-size="7.0" fill="#333">0.0039</text>
<line x1="628.00" y1="534.00" x2="665.20" y2="534.00" stroke="#222" stroke-width="1.15" />
<text x="628.00" y="540.40" font-size="7.0" fill="#333">6.9e-05</text>
<line x1="628.00" y1="542.40" x2="655.85" y2="542.40" stroke="#222" stroke-width="1.15" />
<text x="628.00" y="549.00" font-size="7.0" fill="#333">&gt;0.9999</text>
<line x1="628.00" y1="551.00" x2="646.50" y2="551.00" stroke="#222" stroke-width="1.15" />
<text x="628.00" y="558.40" font-size="7.0" fill="#333">0.9562</text>
<line x1="628.00" y1="560.40" x2="637.15" y2="560.40" stroke="#222" stroke-width="1.15" />
<line x1="623.60" y1="532.90" x2="623.60" y2="636.05" stroke="#111111" stroke-width="1.9" />
<line x1="616.20" y1="635.10" x2="623.60" y2="635.10" stroke="#111111" stroke-width="1.85" />
<text x="614.20" y="638.06" font-size="8.35" font-weight="bold" text-anchor="end" fill="#000">0.01</text>
<line x1="619.40" y1="624.94" x2="623.60" y2="624.94" stroke="#111111" stroke-width="1.7" />
<line x1="619.40" y1="619.00" x2="623.60" y2="619.00" stroke="#111111" stroke-width="1.7" />
<line x1="619.40" y1="614.78" x2="623.60" y2="614.78" stroke="#111111" stroke-width="1.7" />
<line x1="619.40" y1="611.51" x2="623.60" y2="611.51" stroke="#111111" stroke-width="1.7" />
<line x1="619.40" y1="608.84" x2="623.60" y2="608.84" stroke="#111111" stroke-width="1.7" />
<line x1="619.40" y1="606.58" x2="623.60" y2="606.58" stroke="#111111" stroke-width="1.7" />
<line x1="619.40" y1="604.62" x2="623.60" y2="604.62" stroke="#111111" stroke-width="1.7" />
<line x1="619.40" y1="602.89" x2="623.60" y2="602.89" stroke="#111111" stroke-width="1.7" />
<line x1="616.20" y1="601.35" x2="623.60" y2="601.35" stroke="#111111" stroke-width="1.85" />
<text x="614.20" y="604.31" font-size="8.35" font-weight="bold" text-anchor="end" fill="#000">0.1</text>
<line x1="619.40" y1="591.19" x2="623.60" y2="591.19" stroke="#111111" stroke-width="1.7" />
<line x1="619.40" y1="585.25" x2="623.60" y2="585.25" stroke="#111111" stroke-width="1.7" />
<line x1="619.40" y1="581.03" x2="623.60" y2="581.03" stroke="#111111" stroke-width="1.7" />
<line x1="619.40" y1="577.76" x2="623.60" y2="577.76" stroke="#111111" stroke-width="1.7" />
<line x1="619.40" y1="575.09" x2="623.60" y2="575.09" stroke="#111111" stroke-width="1.7" />
<line x1="619.40" y1="572.83" x2="623.60" y2="572.83" stroke="#111111" stroke-width="1.7" />
<line x1="619.40" y1="570.87" x2="623.60" y2="570.87" stroke="#111111" stroke-width="1.7" />
<line x1="619.40" y1="569.14" x2="623.60" y2="569.14" stroke="#111111" stroke-width="1.7" />
<line x1="616.20" y1="567.60" x2="623.60" y2="567.60" stroke="#111111" stroke-width="1.85" />
<text x="614.20" y="570.56" font-size="8.35" font-weight="bold" text-anchor="end" fill="#000">1</text>
<line x1="619.40" y1="557.44" x2="623.60" y2="557.44" stroke="#111111" stroke-width="1.7" />
<line x1="619.40" y1="551.50" x2="623.60" y2="551.50" stroke="#111111" stroke-width="1.7" />
<line x1="619.40" y1="547.28" x2="623.60" y2="547.28" stroke="#111111" stroke-width="1.7" />
<line x1="619.40" y1="544.01" x2="623.60" y2="544.01" stroke="#111111" stroke-width="1.7" />
<line x1="619.40" y1="541.34" x2="623.60" y2="541.34" stroke="#111111" stroke-width="1.7" />
<line x1="619.40" y1="539.08" x2="623.60" y2="539.08" stroke="#111111" stroke-width="1.7" />
<line x1="619.40" y1="537.12" x2="623.60" y2="537.12" stroke="#111111" stroke-width="1.7" />
<line x1="619.40" y1="535.39" x2="623.60" y2="535.39" stroke="#111111" stroke-width="1.7" />
<line x1="616.20" y1="533.85" x2="623.60" y2="533.85" stroke="#111111" stroke-width="1.85" />
<text x="614.20" y="536.81" font-size="8.35" font-weight="bold" text-anchor="end" fill="#000">10</text>
<line x1="622.65" y1="635.10" x2="673.20" y2="635.10" stroke="#111111" stroke-width="1.9" />
<line x1="647.40" y1="635.10" x2="647.40" y2="641.90" stroke="#111111" stroke-width="1.85" />
<text x="593.40" y="586.50" font-size="8.35" font-weight="bold" text-anchor="middle" transform="rotate(-90 593.40 586.50)">Normalized transcript level</text>
<text x="647.00" y="650.20" font-size="8.35" font-weight="bold" font-style="italic" text-anchor="middle">OGT</text>
<rect x="634.40" y="653.00" width="12.00" height="12.00" fill="#12A46D" stroke="#262626" stroke-width="1.15" />
<text x="640.40" y="662.24" font-size="9.0" text-anchor="middle" fill="#16202a">4</text>
<rect x="646.40" y="653.00" width="12.00" height="12.00" fill="#12A46D" stroke="#262626" stroke-width="1.15" />
<text x="652.40" y="662.24" font-size="9.0" text-anchor="middle" fill="#16202a">5</text>
<line x1="640.00" y1="668.00" x2="643.60" y2="668.00" stroke="#111" stroke-width="0.75" />
<path d="M642.40 666.65 L644.60 668.00 L642.40 669.35 Z" fill="#111"/>
<line x1="649.40" y1="668.00" x2="653.00" y2="668.00" stroke="#111" stroke-width="0.75" />
<path d="M650.60 666.65 L648.40 668.00 L650.60 669.35 Z" fill="#111"/>
<rect x="591.00" y="675.30" width="10.60" height="4.60" fill="#000" />
<line x1="593.00" y1="678.20" x2="599.60" y2="678.20" stroke="#fff" stroke-width="0.7" stroke-dasharray="1.2 0.8"/>
<text x="607.60" y="680.50" font-size="8.3">DMSO</text>
<rect x="591.80" y="689.10" width="9.00" height="3.40" fill="#F2B78F" stroke="#D5622B" stroke-width="1.6" />
<text x="607.60" y="693.70" font-size="8.3">10 µM OSMI-4b</text>
<rect x="591.80" y="702.30" width="9.00" height="3.40" fill="#86BBDD" stroke="#0B72B7" stroke-width="1.6" />
<text x="607.60" y="706.90" font-size="8.3">1 µM TMG</text>
<rect x="591.80" y="715.50" width="9.00" height="3.40" fill="#83D0B4" stroke="#179E73" stroke-width="1.6" />
<text x="607.60" y="720.10" font-size="8.3">50 µM GSK690693</text>
<rect x="591.80" y="728.70" width="9.00" height="3.40" fill="#F6D585" stroke="#E6A32C" stroke-width="1.6" />
<text x="607.60" y="733.30" font-size="8.3">50 µM Y-33075</text>
</svg>
</body></html>
